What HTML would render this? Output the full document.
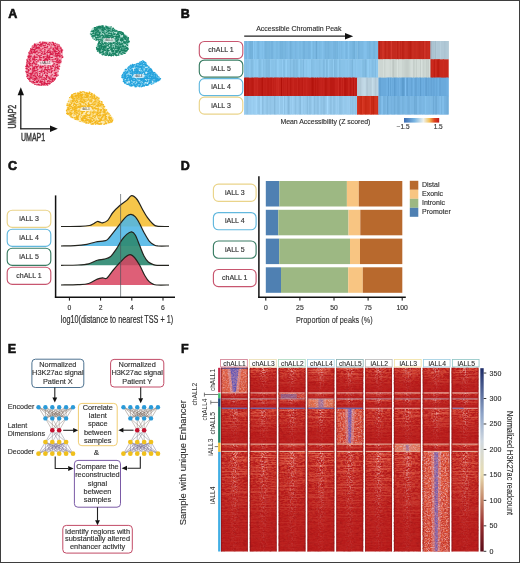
<!DOCTYPE html>
<html><head><meta charset="utf-8"><style>
html,body{margin:0;padding:0;background:#fff;}
svg{display:block;font-family:"Liberation Sans",sans-serif;will-change:transform;}

</style></head><body>
<svg width="520" height="563" viewBox="0 0 520 563">
<rect x="0" y="0" width="520" height="563" fill="#fff"/>
<text x="8.2" y="18.1" font-size="12.5" fill="#111" font-weight="bold" stroke="#111" stroke-width=".6">A</text>
<polygon points="34,43.5 42,41.5 52,41.8 59,44 62.5,49 63,56 61,62 59.5,68 58,75 54,81 47,85.5 38,86 31,83 27,78 25.5,70 26,62 28,54 31,47.5" fill="#f2a4b6" opacity="0.9"/>
<path d="M33.32 69.68h.5M47.3 58.95h.5M29.16 59.94h.5M52.21 70.59h.5M34.28 58.68h.5M38.67 81.61h.5M29.35 79.98h.5M54.99 65.27h.5M37.52 50.87h.5M34.74 72.7h.5M42.17 84.07h.5M49.15 82.36h.5M43.44 70.86h.5M27.85 71.22h.5M40.14 59.16h.5M56.36 47.3h.5M50.16 64.99h.5M41.64 81.04h.5M41.05 46.59h.5M60.22 60.06h.5M44.97 66.33h.5M46.69 75.84h.5M45.56 62.73h.5M52.12 81.26h.5M34.75 66.52h.5M27.39 71.63h.5M59.93 47.68h.5M50.58 47.15h.5M41.18 82.88h.5M34.72 47.45h.5M36.82 54.68h.5M38.04 79.2h.5M42.11 52.74h.5M45.19 63.95h.5M50.54 43.57h.5M53.31 50.04h.5M42.92 46.01h.5M42.63 78.63h.5M30.1 64.87h.5M56.57 69.84h.5M52.92 42.8h.5M30.89 50.17h.5M44.13 50.73h.5M45.13 72.22h.5M53.01 70.6h.5M55.4 51.31h.5M36.41 61.92h.5M33.77 51.99h.5M34.66 71.53h.5M32.32 77.56h.5M44.44 50.04h.5M40.04 82.26h.5M35.55 56.84h.5M32.69 57.08h.5M43.2 57.83h.5M32.12 57.44h.5M60.84 52.45h.5M43.27 84.99h.5M56.2 74.84h.5M37.12 57.33h.5M51.13 75.28h.5M50.74 46.13h.5M34.19 47.63h.5M43.25 78.59h.5M61.24 57.81h.5M42.24 52.59h.5M36.83 49.96h.5M38.87 49.67h.5M60.11 60.2h.5M46.29 70.29h.5M43.88 77.92h.5M32.29 46.39h.5M57.07 47.95h.5M33.27 59.31h.5M29.36 51.99h.5M43.84 51.44h.5M27.75 74.61h.5M31.02 77.16h.5M54.37 47.88h.5M49.63 57.23h.5M46.43 67.47h.5M49.38 58.83h.5M47.31 57.25h.5M41.97 48.72h.5M34.52 70.22h.5M28.28 70.18h.5M42.03 84.08h.5M54.11 72.82h.5M34.98 70.35h.5M34.78 51.48h.5M51.87 71.43h.5M58.37 60.83h.5M49.09 44.12h.5M47.82 57.4h.5M34.64 53.64h.5M39.04 55.42h.5M58.56 44.73h.5M32.48 75.94h.5M44.04 56.64h.5M55.62 72.92h.5M32.64 52.74h.5M44.3 58.14h.5M57.8 71.29h.5M31.2 60.9h.5M36.41 73.2h.5M28.51 58.37h.5M41.49 67.19h.5M41.14 51.13h.5M45.96 47.98h.5M45.32 50.68h.5M50.54 57.35h.5M55.47 47.03h.5M30.14 51.36h.5M38.18 47.6h.5M55.77 48.31h.5M48.58 72.24h.5M44.67 63.04h.5M49.2 56.25h.5M41.18 66.26h.5M50.49 77.19h.5M39.07 78.75h.5M39.79 68.03h.5M52.91 51.77h.5M55.07 73.68h.5M52.51 61.92h.5M53.31 48.22h.5M39.74 77.06h.5M51.55 68.48h.5M47.09 53.23h.5M56.38 72.34h.5M56 49.82h.5M34.56 75.43h.5M42.66 44.58h.5M26.51 66.42h.5M42.6 84.55h.5M34.61 56.87h.5M52.53 70.57h.5M61.14 50.76h.5M30.65 53.11h.5M53.2 54.15h.5M32.64 68.98h.5M53.01 43.07h.5M37.74 79.65h.5M60.45 62.66h.5M35.02 49.15h.5M29.27 73.73h.5M58.69 55.43h.5M47.27 64.82h.5M39.86 60.05h.5M45.26 58.9h.5M37.74 60.75h.5M26.62 64.56h.5M35.3 65.71h.5M39.82 60.96h.5M51.18 69.16h.5M56.94 64.58h.5M55.51 73.45h.5M41.01 76.94h.5M37.22 77.1h.5M47.47 44.59h.5M37.29 79.72h.5M48.32 56.92h.5M31.24 64.8h.5M36.93 82.3h.5M36.5 68.52h.5M38.66 49.17h.5M42.01 79.39h.5M30.79 56.91h.5M52.41 52.63h.5M48.52 50.38h.5M49.71 48.85h.5M34.16 45.67h.5M32.8 83.02h.5M41.42 64.3h.5M46.75 56.01h.5M54.14 44.4h.5M49.7 79.83h.5M31.15 76.98h.5M46.27 57.67h.5M46.89 69.71h.5M30.96 61.11h.5M41.86 49.37h.5M41.83 71.47h.5M37.29 61.91h.5M58.61 66.1h.5M54.4 45.83h.5M53 45.25h.5M39.98 48.46h.5M52.44 60.31h.5M54.66 72.14h.5M29.35 57.85h.5M51.74 78.08h.5M30.46 63.83h.5M57.88 58.79h.5M45.36 85h.5M25.85 66.57h.5M35.62 77.48h.5M36.51 75.99h.5M37.82 55.53h.5M36.41 54.85h.5M31 52.96h.5M32.27 74.63h.5M48.24 44.19h.5M31.93 65.47h.5M26.71 69.05h.5M48.26 55.88h.5M34.68 73.58h.5M55.15 54.88h.5M35.49 64.83h.5M43.29 70.97h.5M55.24 51.78h.5M46.79 59.56h.5M47 47.79h.5M58.84 52.93h.5M59.4 57.26h.5M58.6 48.98h.5M60.51 47.51h.5M51.57 47.38h.5M46.18 72.6h.5M32.34 45.9h.5M33.76 69.77h.5M60.4 62.51h.5M39.56 79.19h.5M27.98 58.89h.5M37.3 51.75h.5M28.11 70.08h.5M32.47 60.18h.5M41.98 57.57h.5M45.27 63.59h.5M51.35 66.25h.5M26.67 72.17h.5M41.01 67.65h.5M36.53 80.81h.5M37.28 53.22h.5M36.02 73.54h.5M47.89 61.64h.5M48.05 48.88h.5M28.26 76.97h.5M51.98 42.44h.5M60.52 55.58h.5M30.5 77.67h.5M28.2 62.1h.5M57.23 46.18h.5M54.14 63.59h.5M28.17 63.04h.5M30.02 53.11h.5M57.89 51.06h.5M25.78 68.34h.5M42.26 52h.5M61.69 55.92h.5M29.52 51.65h.5" stroke="#ec6c88" stroke-width="1.3" stroke-linecap="round"/>
<path d="M37.29 47.51h.4M27.36 65.42h.4M26.79 64.1h.4M41.63 43.75h.4M41.27 78.95h.4M35.94 47.21h.4M36.69 78.45h.4M47.47 70.21h.4M46.14 43.42h.4M32.64 72.14h.4M36.91 67.73h.4M36.34 77.44h.4M34.14 67.21h.4M30.5 63.24h.4M50.89 76.05h.4M59.08 55.09h.4M47.98 67.47h.4M43.23 71.38h.4M56.97 53.73h.4M42.74 48.31h.4M26.83 76.22h.4M27.68 61.39h.4M58.63 53.45h.4M30.46 48.69h.4M33.72 63.05h.4M41.05 57.67h.4M44.86 69.22h.4M56.02 58.75h.4M28.59 69.99h.4M30.91 56.31h.4M28.51 57.41h.4M59.04 69.05h.4M34.46 56.65h.4M42.91 63h.4M28.54 56.43h.4M57.24 48.01h.4M30.29 65.76h.4M34.81 57.55h.4M53.72 51.04h.4M62.22 57.46h.4M33.46 49.65h.4M55.4 75.38h.4M31.55 77.19h.4M53.13 48.41h.4M38.34 66.01h.4M32.84 52.21h.4M34 67.77h.4M38.47 61.8h.4M44.32 65.23h.4M56.07 48.51h.4M53.15 66.38h.4M28.69 66.55h.4M35.44 76.41h.4M42.01 68.98h.4M44.73 72.71h.4M57.68 46.88h.4M41.96 43.87h.4M57.38 48.01h.4M44.87 56.27h.4M37.08 74.08h.4M46.38 60.98h.4M37.59 69.51h.4M28.64 52.85h.4M55.27 53.08h.4M47.04 73.07h.4M26.77 72.5h.4M49.56 77.78h.4M58.58 61.6h.4M46.35 83.59h.4M29.6 65h.4M35.95 63.75h.4M53.46 66.12h.4M43.25 83.96h.4M56.85 60.6h.4M57.47 58.78h.4M49.62 59.32h.4M27.29 74.95h.4M50.99 53.61h.4M36.08 61.86h.4M36.73 57.08h.4M39.57 62.57h.4M32.44 63.97h.4M34.93 44.67h.4M36.52 51.33h.4M45.4 75.4h.4M52.78 81.38h.4M30.4 74.17h.4M53.49 78.27h.4M47.57 82.02h.4M51.89 51.19h.4M29.76 57.27h.4M57.51 66.47h.4M49.24 72.15h.4M54.06 63.89h.4M34.46 43.96h.4M39.61 62.77h.4M54.8 69.19h.4M34.53 75.06h.4M51.04 72.69h.4M35.99 64.52h.4M42.25 52.99h.4M61.85 50.3h.4M29.74 78.64h.4M33.64 82.24h.4M43.92 61.46h.4M30.06 56.49h.4M54.15 79.52h.4M60.11 53.98h.4M47.77 57.27h.4M28.52 79.31h.4M61.46 52.09h.4M44.68 49.33h.4M42.31 75.5h.4M43.15 56.48h.4M34.78 71h.4M46.51 58.84h.4M28.08 56.4h.4M33.95 52.51h.4M40.8 59.75h.4M39.39 56.23h.4M29.47 63.91h.4M58.58 50.54h.4M34.31 59.09h.4M59.88 62.51h.4M34.31 45.57h.4M42.56 66.14h.4M50 54.63h.4M34.45 70.09h.4M45.22 67.6h.4M33.33 68.45h.4M49.96 81.6h.4M52.33 54.79h.4M44.18 71.86h.4M37.85 60.06h.4M36.81 78.63h.4M33.25 75.86h.4M31.9 50.88h.4M30.28 58.8h.4M61.3 55.81h.4M39.46 57.89h.4M56.97 60.61h.4M56.57 76.15h.4M59.99 56.27h.4M34.86 73.82h.4M39.77 52.17h.4M43.99 83.66h.4M55.03 68.74h.4M54.24 52h.4M25.84 66.2h.4M44.19 73.5h.4M33.75 59.88h.4M36.1 66.86h.4M53.65 49.76h.4M47.34 55.67h.4M33.64 78.09h.4M36.1 46.04h.4M48.05 69.33h.4M39.06 47.07h.4M34.57 68.37h.4M37.43 72.04h.4M46.15 43.44h.4M40.11 66.08h.4M51.97 59.56h.4M36.65 84.82h.4M46.88 57.11h.4M40.55 81.55h.4M28.02 69.43h.4M44.43 47.28h.4M45.09 83.54h.4M39.82 82.55h.4M57.25 49.01h.4M40.29 64.58h.4M46.71 75.72h.4M57.61 45.97h.4M46.23 69.66h.4M41.09 67.59h.4M50.52 61.28h.4M55.31 61.81h.4M43.19 45.48h.4M41.51 44.76h.4M44.65 42.4h.4M44.7 43.02h.4M39.43 84.72h.4M53.42 78.4h.4M35.36 78.43h.4M44.34 83.28h.4M34.88 64.03h.4M51.35 82.14h.4M55.5 45.85h.4M47.64 71.36h.4M30.4 69.15h.4M44.75 82.14h.4M33.48 70.87h.4M28.7 57.11h.4M47.55 67.89h.4M49.15 62.58h.4M61.5 51.83h.4M55.4 59.19h.4M46.71 56.79h.4M34.32 82.51h.4M45.5 59.38h.4M26.81 76.72h.4M46.26 84.25h.4M32.38 68.78h.4M49.84 78.32h.4M36.72 54.46h.4M57.86 75.15h.4M53.8 61.54h.4M52.61 52.87h.4M41.72 77.16h.4M33.07 81.42h.4M37.41 81.43h.4M33.95 82.7h.4M43.04 79.55h.4M47.03 54.81h.4M38.12 47.1h.4M26.15 72.71h.4M52.03 74.76h.4M49.55 78.87h.4M35.85 45.14h.4M54.42 50.03h.4M44.4 80.09h.4M41.74 76.45h.4M52.33 65.51h.4M43.91 77.55h.4M34.79 84.39h.4M32.98 73.03h.4M28.84 70.1h.4M49.3 57.04h.4M40.09 81.9h.4M33.73 61.93h.4M54.3 75.51h.4M38.27 55.69h.4M47.38 46.36h.4M59.46 51.56h.4M34.28 55.69h.4M30.86 55.76h.4M55.9 74.6h.4M32.25 70.17h.4M32.65 58.56h.4M40.26 77.28h.4M44.27 69.91h.4M30.1 68.57h.4M52.15 80.14h.4M49.84 61.61h.4M49.32 45.05h.4M55.4 73.66h.4M34.38 60.2h.4M49.05 59.53h.4M61.24 49.01h.4M55.24 58.57h.4M28.49 67.22h.4M52.83 64.32h.4M57.24 64.76h.4M61.94 50.27h.4M40 75.97h.4M41.03 60.06h.4M38.41 52.83h.4M39.98 50.36h.4M55.18 78.15h.4M43.03 66.64h.4M62.57 56.92h.4M42.99 54.19h.4M29.44 79.27h.4M58.1 52.94h.4M34.52 60.31h.4M35.61 51.89h.4M43.44 60.42h.4M50.41 52.13h.4M48.53 76.83h.4M57.63 49.68h.4M45.47 75h.4M59.37 66.31h.4M33.75 46.98h.4M26.81 62.22h.4M43.91 63.67h.4M57.71 62.26h.4M50.78 79.59h.4M41.04 85.17h.4M49.66 70.08h.4M38.96 62.57h.4M54.94 50.3h.4M36.07 78.99h.4M44.4 53.13h.4M55.78 55.89h.4M36.32 67.77h.4M46.04 42.81h.4M48.66 69.18h.4M52.01 68.23h.4M32.89 71.52h.4M54.63 45.21h.4M46.7 52.5h.4M41.16 55.31h.4M26.66 66.89h.4M29.19 78.18h.4M60.79 61.26h.4M40.79 45.25h.4M32.88 47.56h.4M53.32 44.42h.4M56.79 44.21h.4M43.71 43.28h.4M47.21 60.9h.4M30.22 77.58h.4M49.97 69.78h.4M55.49 66.86h.4M52.28 78.97h.4M57.34 68.45h.4M41.43 81.8h.4M56.4 53.67h.4M34.89 60.15h.4M38.2 44.46h.4M61.3 51.38h.4M51.27 62.14h.4M55 51.33h.4M45.11 62.66h.4M31.97 49.44h.4M52.19 57.37h.4M40.4 64.55h.4M39.27 45.43h.4M55.6 47.76h.4M38.12 64.65h.4M58.71 63.11h.4M34.83 76.73h.4M32.44 48.9h.4M27.04 68.31h.4M34.66 66.75h.4M40.03 61.35h.4M51.24 54.39h.4M54.44 45.4h.4M34.65 46.27h.4M31.16 51.59h.4M52.83 49.57h.4M30.02 61.3h.4M49.32 61.53h.4M57.01 62.71h.4M30.14 50.81h.4M52.69 66.23h.4M58.89 52.89h.4M37.71 48.3h.4M37.06 82.5h.4M32.84 62.7h.4M34.68 49.88h.4M35.93 82.17h.4M37.97 47.02h.4M57.37 64.99h.4M41.69 82.91h.4M47.07 46.92h.4M54.93 73.59h.4M48.54 63.54h.4M56.56 67.61h.4M27.09 74.57h.4M39 48.1h.4M45.03 61.23h.4M39.56 75.44h.4M44.04 64.37h.4M34.39 78.5h.4M28.31 73h.4M52.83 42.6h.4M44 63.79h.4M29.32 59.36h.4M47.88 80.54h.4M47.13 75.22h.4M55.19 56.24h.4M61.41 52.09h.4M49.49 57.45h.4M27.24 60.64h.4M49.84 52.86h.4M49.04 52.15h.4M41.63 84.72h.4M36.56 70.61h.4M44.79 52.98h.4M45.59 47.4h.4M29.69 54.15h.4M35.89 51.82h.4M46.08 79.55h.4M47.02 70.74h.4M52.56 61.93h.4M48.71 62.31h.4M34.07 50.8h.4M39.64 67.73h.4M38.43 80.58h.4M46.49 63.35h.4M55 47.87h.4M58.92 60.96h.4M30.6 56.17h.4M53.86 75.83h.4M29.53 80.99h.4M54.74 67.74h.4M48.49 58.15h.4M42.59 74.12h.4M39.93 66.32h.4M44.23 61.15h.4M36.51 47.24h.4M62.37 50h.4M26.37 66.77h.4M44.94 64.55h.4M39.89 57.13h.4M38.37 84.58h.4M45.25 45.1h.4M40.34 66.6h.4M43.73 60.97h.4M45.44 78.44h.4M57.13 64.34h.4M59.58 60.07h.4M35.95 64.29h.4M31.93 48.98h.4M49.64 42.47h.4M55.61 54.76h.4M57.77 67.76h.4M32.27 63.65h.4M35.01 70.58h.4M40.74 46.15h.4M54.5 45.46h.4M48.71 78.01h.4M37.25 73.77h.4M31.19 52.9h.4M38.28 61.42h.4M47.52 85.12h.4M49 52.09h.4M44.07 84.66h.4M39.9 73.91h.4M36.71 81.2h.4M55.81 51.82h.4M35.98 66.61h.4M45.58 58.43h.4M57.12 56.83h.4M32.05 53.69h.4M25.88 71.39h.4M30.66 73.32h.4M35.15 79.33h.4M39.39 85.07h.4M33.48 61.55h.4M47.71 57.61h.4M29.35 64.36h.4M35.18 76.39h.4M50.47 66.9h.4M39.9 44.5h.4M58.11 55.43h.4M28.8 66.63h.4M44.26 54.31h.4M36.8 51.03h.4M52.81 53.63h.4M29.72 53.36h.4M51.35 71.36h.4M40.8 71.15h.4M34.31 79.87h.4M49.34 48.95h.4M52.65 42.38h.4M30.9 49.71h.4M39.54 42.32h.4M47.02 73.82h.4M41.68 72.32h.4M55.17 53.81h.4M58.24 68.74h.4M27.9 72.8h.4M54.03 79.04h.4M41.25 83.75h.4M53.68 79.09h.4M42.38 43.02h.4M29.54 75.93h.4M52.26 77.97h.4M49.68 65.79h.4M40.76 49.87h.4M29.89 73.37h.4M33.9 51.74h.4M42.08 84.02h.4M36.33 81.64h.4M46.16 75.86h.4M50.83 68.34h.4M54.76 79.15h.4M35.93 57.26h.4M32.29 73.13h.4M28.96 55.59h.4M38.84 48.32h.4M28.8 63.23h.4M32 65.75h.4M49.3 83.99h.4M34.43 51.94h.4M57.66 54.28h.4M53.82 55.69h.4M57.1 55.39h.4M44.23 47.82h.4M47.45 44.23h.4M41.31 53.67h.4M44.83 60.09h.4M60.21 48.15h.4M42 66.7h.4M48.98 78.22h.4M51.22 68.83h.4M47.06 84.81h.4M50.07 54.42h.4M31.96 72.06h.4M27.87 71.21h.4M47.44 59.86h.4M46.81 58.93h.4M31.63 81.88h.4M34.51 44.92h.4M34.44 63.25h.4M33.45 67.13h.4M44.77 67.86h.4M40.62 43.92h.4M46.74 76.54h.4M55.16 43.18h.4M47.98 50.41h.4M49.04 81.05h.4M31.14 75.16h.4M26.22 68.58h.4M46.18 77.84h.4M34.56 49.48h.4M57.61 67.53h.4M56.13 49.11h.4M35.96 72.45h.4M30.2 81.21h.4M31.7 78.55h.4M40.01 62.62h.4M48.63 44.03h.4M33.04 82.07h.4M38.76 62.25h.4M39.82 56.95h.4M47.38 56.02h.4M51 53.18h.4M44.25 52.69h.4M49.51 70.01h.4M44.6 70.04h.4M46.25 59.38h.4M43.52 57.58h.4M33.78 56.74h.4M42.4 61.22h.4M36.45 48.35h.4M46.28 84.09h.4M38.6 76.51h.4M43.64 82.31h.4M33.12 59.08h.4M48.31 80.68h.4M59.08 56.36h.4M49.78 83.41h.4M37.41 75.34h.4M40.51 72.07h.4M26.77 59.76h.4M49.24 56.06h.4M48.11 52.45h.4M37.5 44.85h.4M30.13 76.17h.4M56.65 60.18h.4M47.75 66.31h.4M33.51 75.68h.4M26.88 63.84h.4M38.94 47.44h.4M44.21 70.08h.4M56.12 61.89h.4M53.47 43.54h.4M40.37 80.68h.4M33.35 52.21h.4M41.63 51.26h.4M54.49 70.39h.4M57 53.64h.4M43.68 81.93h.4M51.47 68.29h.4M47.38 81.55h.4M51.47 44.7h.4M55.79 72.56h.4M44.44 51.27h.4M59.2 46.1h.4M29.86 60.42h.4M44.28 45.72h.4M44.1 83.22h.4M35.28 48.74h.4M44.6 59.48h.4M51.68 70.87h.4M40.27 55.3h.4M39.72 59.56h.4M48.51 83.57h.4M48.63 58.03h.4M26.46 72.78h.4M50.03 66.03h.4M53.98 80.19h.4M39.46 73.62h.4M45.29 69h.4M37.22 69.74h.4M33.32 68.98h.4M45.12 62.66h.4M45.39 64.86h.4M56.63 51.6h.4M56.96 61.9h.4M34.43 45.28h.4M56.23 64.74h.4M51.95 61.39h.4M56.03 75.78h.4M51.37 57.56h.4M33.89 57.74h.4M32.43 67.03h.4M31.55 73.9h.4M48.91 57.78h.4M36.16 59.47h.4M56.53 56.88h.4M47.36 83.5h.4M39.21 71.45h.4M27.3 75.66h.4M47.91 62.01h.4M57.66 59.79h.4M59.67 60.95h.4M44.72 78.85h.4M53.75 59.18h.4M54.91 45.99h.4M27.55 78.51h.4M27.99 75.53h.4M43.57 43.05h.4M30.25 56.05h.4M35.35 52.7h.4M34.57 80.44h.4M44.68 60.04h.4M58.34 52.45h.4M26.56 65.46h.4M42.84 63.24h.4M38.95 77.77h.4M45.56 59.52h.4M42.07 81.33h.4M41.63 70.23h.4M46.66 77.73h.4M51.12 71.89h.4M32.84 79.48h.4M60.76 50.12h.4M40.88 71.14h.4M36.1 51.32h.4M37.09 66.57h.4M39.96 42.03h.4M49.81 50.89h.4M41.48 72.07h.4M45.29 54.02h.4M48.11 65.64h.4M38.1 84.41h.4M31.56 77.13h.4M27.24 66.5h.4M46.29 77.14h.4M42.73 42.07h.4M28.34 70.58h.4M47.33 56.91h.4M50.69 48.12h.4M59 62.83h.4M29.12 63.57h.4M29.14 62.25h.4M45.65 64.07h.4M32.31 59.27h.4M44.32 81.91h.4M55.75 67.02h.4M33.56 75.38h.4M40.03 64.59h.4M47.35 51.38h.4M55.47 73.55h.4" stroke="#d61c48" stroke-width="1.1" stroke-linecap="round"/>
<polygon points="92,28 100,25.5 110,26 116,30 122,32 128,36 129.5,42 128,50 123,55 112,56 102,55 97,51 96,46 99,42 93,39 89.5,34" fill="#b4e2d4" opacity="0.9"/>
<path d="M98.82 43.97h.5M122.54 39.51h.5M121.23 54.01h.5M126.5 48.71h.5M123.16 49.99h.5M118.34 37.24h.5M121.83 46.69h.5M113.48 51.68h.5M103.72 31.79h.5M114.71 38.93h.5M107.3 48.91h.5M102.16 28.95h.5M111.36 38.17h.5M99.71 31.13h.5M101.39 45.46h.5M115.12 46.99h.5M105.07 55.06h.5M102.85 37.26h.5M103.19 30.54h.5M100 51.96h.5M106.92 30.93h.5M127.14 47.98h.5M103.42 53.72h.5M118.33 55.22h.5M98.11 37.25h.5M123.1 45.1h.5M97.72 46.34h.5M114.53 43.82h.5M119.17 52.12h.5M115.74 54.28h.5M121.96 54.17h.5M128.1 38.86h.5M127.65 49.28h.5M102.31 49.54h.5M127.89 37.74h.5M99.43 47.76h.5M117.51 48.75h.5M117.38 33.39h.5M94.53 27.66h.5M115.44 39.83h.5M103.67 39.75h.5M127.31 39.48h.5M103.67 28.39h.5M98.03 43.93h.5M119.96 43.46h.5M108.54 41.13h.5M114.59 31.53h.5M107.68 31.85h.5M104.21 29.77h.5M98.6 28.42h.5M107.5 37.79h.5M116.29 52.46h.5M105.63 26.18h.5M100.66 33.89h.5M116.14 43.55h.5M96.59 26.97h.5M108.46 46.53h.5M115.7 30.36h.5M115.15 47.41h.5M99.64 47.61h.5M117.76 33.05h.5M113.12 30.72h.5M95.11 31.86h.5M123.23 47.78h.5M110.39 36.29h.5M107.27 54.65h.5M105.04 27.56h.5M90.65 33.86h.5M93.41 32.94h.5M100.63 39.62h.5M101.99 30.12h.5M113.97 53.73h.5M102.24 52.08h.5M105.74 45.16h.5M120.23 32.44h.5M119.08 49.03h.5M111.14 35.43h.5M103 51.93h.5M102.75 49.94h.5M107.91 37.56h.5M108.83 38.03h.5M113.32 38.55h.5M97.84 48.71h.5M104.48 47.57h.5M126.73 42.42h.5M124.98 36.26h.5M109.6 53.71h.5M128.61 41.1h.5M113.09 47.93h.5M107.82 45.26h.5M108.65 38.79h.5M116.33 48.39h.5M94.6 36.39h.5M119.3 47.9h.5M128.27 42.4h.5M106.73 30.77h.5M102.65 37.37h.5M119.09 37.79h.5M121.77 50.11h.5M114.16 29.65h.5M109.03 33.44h.5M120.46 43.13h.5M113.13 38.39h.5M125.09 38.86h.5M100.17 36.54h.5M106.42 43.08h.5M120.36 39.33h.5M108.36 28.35h.5M108.57 27.32h.5M108.01 39.74h.5M119.12 35.65h.5M96.28 28.94h.5M102.63 29.82h.5M126.57 44.42h.5M115.13 42.16h.5M116.6 46.74h.5M97.01 30.33h.5M116.3 55.49h.5M104.78 35.4h.5M97.84 46.28h.5M107.51 40.85h.5M116.63 40.61h.5M117.79 43.29h.5M101.87 54.04h.5M124.83 43.62h.5M110.84 33.46h.5M105.39 47.53h.5M103.6 49.03h.5M97.21 32.1h.5M118.41 53.6h.5M102.42 52.18h.5M106.44 30.75h.5M104.24 28.38h.5M105.99 36.3h.5M122.54 33.25h.5M98.07 44.81h.5M123.44 36.69h.5M97.83 38.88h.5M119.08 33.2h.5M125.89 38.8h.5M117.42 41.81h.5M117.87 39.58h.5M107.65 30.89h.5M100.31 48.71h.5M97.91 31.56h.5M97.31 35.79h.5M108.32 40.97h.5M122.04 32.75h.5M100.77 52.54h.5M94.76 31.69h.5M121.31 34.46h.5M104.1 50.13h.5M120.29 37.88h.5M106.86 49.48h.5M98.79 42.62h.5M91.85 36.49h.5M114.84 45.04h.5M106.37 55h.5M96.65 39.53h.5M119.69 47.74h.5M103.97 50.46h.5M112.3 35.1h.5M116.33 54.96h.5M107.21 39.51h.5M105.87 52.12h.5M113.66 52.81h.5M126.87 42.9h.5M111.7 48.12h.5M110.9 47.41h.5M104.51 31.86h.5M113.14 55.52h.5M111.96 49.66h.5M109.81 29.15h.5M102.27 51.6h.5M92.62 33.66h.5M92.97 35.84h.5M98.87 46.07h.5M102.81 32.37h.5M108.69 36.85h.5M108.71 36.93h.5M115.24 48.56h.5M127.41 40.04h.5M113 39.03h.5M95.19 35.74h.5M117.44 36.86h.5M122.76 39.23h.5M107.17 52.73h.5M118.08 34.21h.5M99.38 46.13h.5M115.23 38.9h.5M110.13 33.28h.5M110.59 49.66h.5M102.93 54.33h.5M110.69 30.17h.5M124.15 49.66h.5M117.26 37.84h.5M116.95 38.31h.5M97.32 29.26h.5M106.1 26.35h.5M127.17 40.24h.5M117.79 48.22h.5M111.8 43.85h.5M95.55 35.68h.5M113.23 40.55h.5M99.2 47.19h.5M122.03 52.56h.5M102.14 38.79h.5M113.11 33.46h.5M102.45 37.34h.5M100.26 35.76h.5M121.62 47.19h.5M99.34 41.67h.5M102.83 25.99h.5M115.93 36.08h.5M99.94 27.32h.5M108.51 42.49h.5M102.35 54.83h.5M99.23 27.67h.5M121.91 50.37h.5M101.83 29.23h.5M101.99 41.18h.5M105.46 52.5h.5M92.06 30.84h.5M110.65 53.77h.5M117.08 34.39h.5M102.68 47.7h.5M107.3 27.04h.5M113.59 34.25h.5M124.62 53.07h.5M99.89 48.47h.5M101.32 30.21h.5M111.3 48.32h.5M112.76 54.85h.5M122.09 39.41h.5M99.23 50.75h.5M119.78 44.99h.5M124.46 37.94h.5M98.98 34.92h.5M101.06 44.31h.5M106.04 28.13h.5M122.5 50.15h.5M106.77 28.66h.5" stroke="#3c9c82" stroke-width="1.3" stroke-linecap="round"/>
<path d="M117.56 50.98h.4M105.8 37.73h.4M98.78 48.35h.4M94.85 35.69h.4M96.82 31.64h.4M121.75 40.09h.4M115.23 30.97h.4M124.02 50.07h.4M118.63 35.85h.4M122.19 43.69h.4M110.83 55.24h.4M99.08 51.75h.4M96.82 39.38h.4M109.19 54.01h.4M123.18 37.7h.4M115.9 51.68h.4M122.62 38.11h.4M107.71 35.4h.4M103.36 51.95h.4M100.77 27.36h.4M117.95 38.87h.4M114.13 53.55h.4M109.49 55.56h.4M107.59 50.81h.4M103.3 27.78h.4M124.71 41.2h.4M103.7 45.99h.4M104.29 41.47h.4M126.6 40.69h.4M123.56 46.71h.4M119.11 48.87h.4M113.18 43.24h.4M104.97 48.79h.4M100.3 49.28h.4M115.75 50.66h.4M118.31 46.95h.4M123.19 50.29h.4M101.6 26.24h.4M96.79 34.93h.4M93.05 32.96h.4M107.41 51.71h.4M121.2 34.73h.4M120.3 39.78h.4M116.67 48.96h.4M103.74 54.32h.4M100.61 44.98h.4M123.22 42.91h.4M98.72 26.77h.4M120.16 46.54h.4M110.84 41.44h.4M102.73 26.64h.4M109.59 52.19h.4M112.77 37.62h.4M116.71 49.01h.4M119.71 51.18h.4M118.07 47.37h.4M100.05 26.69h.4M123.12 33.37h.4M97.9 27.55h.4M103.61 47.23h.4M123.72 35.07h.4M100.05 26.42h.4M111.81 50.74h.4M97.93 44.96h.4M102.4 42.97h.4M123.76 50.78h.4M106.3 26.55h.4M118.93 43.51h.4M110.01 43.63h.4M94.12 39.25h.4M118.25 39.28h.4M96.48 37.59h.4M96.66 48.42h.4M96.76 33.13h.4M91.13 31.18h.4M124.77 47.96h.4M99.58 36.05h.4M101.34 25.94h.4M107.61 27.82h.4M126.79 50.33h.4M109.83 31.3h.4M106.84 48.3h.4M122.6 51.84h.4M113.08 36.81h.4M123.37 50.05h.4M110.94 26.81h.4M114.73 53.27h.4M115.36 31.19h.4M126.54 36.93h.4M113.33 28.6h.4M107.67 43.53h.4M118.19 38.79h.4M108.27 37.51h.4M118.48 32.29h.4M117.57 39.83h.4M126.68 43.97h.4M115.32 54.38h.4M111.85 51.19h.4M111.41 33.96h.4M122.59 39.38h.4M115.8 31.23h.4M111.44 35.96h.4M92.76 36.45h.4M117.58 43.96h.4M107.64 37.74h.4M117.1 52.12h.4M99.11 34.27h.4M102.13 27.58h.4M100.02 32.62h.4M125.87 50.32h.4M101.67 44.88h.4M111.07 55.88h.4M110.8 45.62h.4M92.26 31.4h.4M95.9 38.73h.4M98.94 32.86h.4M117.53 31.3h.4M113.33 45.82h.4M117.69 34.38h.4M103.68 29.12h.4M95.97 27.75h.4M105.68 46.91h.4M124.41 50.59h.4M113.15 45.99h.4M104.59 45.7h.4M97.88 26.61h.4M121.6 32.68h.4M110.47 28.12h.4M121.93 33.77h.4M120.62 31.78h.4M97.7 36.99h.4M95.8 32h.4M97.84 48.69h.4M128.14 41.56h.4M97.42 27.2h.4M101.85 31.17h.4M108.73 30.35h.4M115.92 41.23h.4M108.25 48.56h.4M98.33 40.72h.4M119.6 52.36h.4M91.94 31.55h.4M106.94 29.07h.4M105.38 46.57h.4M102.01 37.73h.4M99.33 39.26h.4M94.76 28.96h.4M112.92 53.31h.4M98.34 29.94h.4M125.06 38.15h.4M124.15 50.73h.4M110.04 28.29h.4M112.45 30.4h.4M99.24 32.19h.4M110.5 46.52h.4M119.63 44.79h.4M116.73 50.49h.4M121.5 32.07h.4M119.38 36.19h.4M97.85 31.49h.4M105.56 38.18h.4M112.96 55.13h.4M103.44 47.39h.4M95.87 40.16h.4M120.7 51.66h.4M96.74 49.4h.4M99.24 51.2h.4M124.19 52.94h.4M110.96 48.08h.4M94.74 35.4h.4M101.95 38.07h.4M99.36 26.29h.4M95.32 27.47h.4M119.11 35.61h.4M104.68 47.8h.4M121.98 50.56h.4M122.27 50.22h.4M112.23 28.99h.4M112.96 28.01h.4M98.62 32.9h.4M110.89 48.04h.4M118.92 31.68h.4M115.37 46.96h.4M101.57 46.03h.4M121.86 34.56h.4M125.35 39.51h.4M110.73 49.7h.4M108.81 32.71h.4M97.82 34.84h.4M118.42 49.54h.4M107.64 45.2h.4M108.07 44.63h.4M120.87 38.71h.4M94.17 27.96h.4M106.38 35.49h.4M108.36 55.58h.4M102.73 32.56h.4M102.85 30.59h.4M123.01 52.55h.4M99.67 36.39h.4M103.32 36.79h.4M99.14 45.82h.4M127.91 48.69h.4M125.05 42.3h.4M102.8 32.6h.4M115.06 53.58h.4M126.29 48.35h.4M125.21 43.13h.4M113.17 51.45h.4M116.45 31.26h.4M106.53 27.5h.4M122.96 50.14h.4M96.97 34.31h.4M111.47 40.76h.4M112.02 29.17h.4M122.24 38.28h.4M99.38 33.47h.4M110.06 39.72h.4M118.61 48.82h.4M99.24 41.29h.4M113.82 53.88h.4M118.41 47.59h.4M107.09 27.31h.4M121.97 46.52h.4M102.61 49.41h.4M96.85 29.74h.4M114.46 34.35h.4M97.68 27.26h.4M101.76 40.9h.4M108.92 55.21h.4M94.58 30h.4M105.44 36.01h.4M103.28 46.95h.4M124.18 48.17h.4M114.96 54.41h.4M106.67 34.19h.4M121.72 43.68h.4M111.57 37.58h.4M102.07 40.09h.4M103.76 53.59h.4M110.84 54.71h.4M108.53 35.31h.4M114.08 50.04h.4M104.06 37.1h.4M126.84 42.02h.4M102.46 51.2h.4M98.08 26.37h.4M124.56 37.04h.4M125.16 48.99h.4M95.31 30.38h.4M106.75 37.2h.4M95.85 30.35h.4M103.24 48.46h.4M110.77 46.62h.4M106.96 50.2h.4M107.47 53.14h.4M112.05 29.13h.4M104.6 46.95h.4M122.19 50.04h.4M105.89 46.25h.4M114.34 34.78h.4M101.87 49.12h.4M92.82 33.49h.4M99.28 48.24h.4M118.82 31.47h.4M111.22 48.56h.4M115.25 36.74h.4M93.54 30.54h.4M108.4 50.04h.4M120.89 45h.4M124.4 38.92h.4M126.88 50.68h.4M119.78 32.04h.4M117.22 42.51h.4M95.55 28.96h.4M109.21 33.2h.4M111.77 49.26h.4M104.67 42.29h.4M93.71 33.74h.4M112.15 55.32h.4M116.64 36.21h.4M111.73 31.19h.4M105.96 53.83h.4M99.73 53.12h.4M105.51 47.17h.4M99.86 29.31h.4M118.99 42.42h.4M94.45 29.64h.4M113.22 50.53h.4M109.62 43.17h.4M105.83 42.17h.4M98.44 49.1h.4M113.87 30.38h.4M91.95 35.28h.4M115.75 38.27h.4M110.01 54.94h.4M95 34.42h.4M126.72 47.45h.4M109.79 35.4h.4M119.68 47.8h.4M106.7 45.99h.4M97.85 37.45h.4M99.68 46.3h.4M105.33 46.87h.4M109.6 40.37h.4M122.71 39.89h.4M108.81 28.63h.4M102.03 26.25h.4M118.87 35.81h.4M103.9 47.65h.4M119 52.6h.4M104.48 46.32h.4M115.55 55.3h.4M108.78 35.47h.4M109.94 43.61h.4M100.15 40.84h.4M106.09 46.09h.4M118.05 49.88h.4M109.95 36.69h.4M108.77 48.26h.4M107.49 36.13h.4M115.99 46.48h.4M117.63 33.37h.4M128.9 41.56h.4M98.13 35.45h.4M121.92 48.46h.4M104.01 33.27h.4M124.94 38.78h.4M96.2 29.63h.4M106.96 37.42h.4M104.88 36.83h.4M104.11 49.24h.4M117.04 44.8h.4M114.16 34.05h.4M98.3 43.54h.4M102.02 25.68h.4M115.56 44.06h.4M93.64 31.42h.4M98.73 43.59h.4M123.87 42.32h.4M99.42 48.96h.4M107.9 31.41h.4M104 38.56h.4M100.65 47.31h.4M109.95 40.55h.4M125.36 36.13h.4M114.32 42.81h.4M104.01 28.22h.4M110.84 35.15h.4M123.99 35.51h.4M105.39 29.76h.4M116.42 39.01h.4M98.27 50.17h.4M116.88 40.65h.4M96.8 30.12h.4M117.64 32.91h.4M101.69 42.4h.4M108.8 44.54h.4M101.46 46.56h.4M114.4 49.85h.4M112.3 48.98h.4M123.03 45.72h.4M102.64 26.65h.4M95.21 34.01h.4M106.99 50.36h.4M119.25 31.9h.4M127.35 42.45h.4M98.91 47.09h.4M103.96 41.07h.4M119.8 52.97h.4M116.14 37.7h.4M96.81 47.98h.4M100.09 45.16h.4M104.33 43.31h.4M111.69 44.05h.4M116.98 50.99h.4M116.78 55.47h.4M92.73 37.89h.4M104.8 29.34h.4M112.75 30.67h.4M111.08 38.79h.4M112.44 41.98h.4M115.73 36.58h.4M111.63 48.32h.4M123.73 52.79h.4M98.93 27.23h.4M99.02 34.25h.4M93.29 31.76h.4M102.33 28.01h.4M104.98 34.66h.4M128.31 41.14h.4M108.49 30.29h.4M125.94 37.75h.4M112.01 39.49h.4M108.24 28.76h.4M118.43 48.17h.4M115.49 45.84h.4M102.15 43.91h.4M100.55 50.2h.4M111.43 50.76h.4M118.91 36.48h.4M105.09 40.79h.4M104.59 38.65h.4M115.64 51.56h.4M120.22 33.56h.4M107 49.29h.4M98.5 42.73h.4M113.12 47.59h.4M101.16 47.77h.4M104.27 28.62h.4M97.84 27.15h.4M106.01 32.69h.4M128.17 37.77h.4M113.18 47.93h.4M109.37 30.57h.4M100.33 43.53h.4M100.04 45.38h.4M122.15 40.61h.4M109.66 47.88h.4M105.81 53.51h.4M99.3 50.97h.4M115.7 50.81h.4M95.87 32.92h.4M115.78 46.84h.4M104.92 38.31h.4M117.74 48.56h.4M105.4 43.01h.4M123.5 53.08h.4M121.57 39.95h.4M123.98 46.26h.4M97.4 35.44h.4M102.32 52.09h.4M99.73 37.33h.4M106.79 36.85h.4M124.68 36.69h.4M112.94 40.88h.4M118.36 50.81h.4M111.59 50.92h.4M111.17 33.14h.4M96.53 47.52h.4M121.23 44.92h.4M104.09 27.82h.4M118.17 54.77h.4M101.84 28.07h.4M122.48 32.57h.4M121.81 45.03h.4M113.12 32.23h.4M109.14 37.34h.4M109.73 35h.4M106.26 51.69h.4M113.11 43.36h.4M104.61 33h.4M104.27 40.49h.4M122.11 43.94h.4M125.4 46.11h.4M112.73 36.81h.4M120.47 44.54h.4M111.31 54.67h.4M114.68 40.04h.4M115.72 50.51h.4M110.71 44.18h.4M110.17 37.03h.4M109.21 54.93h.4M123.81 37.41h.4M102.34 29.56h.4M101.25 47.27h.4M124.93 51.35h.4M120.69 49.63h.4M101.67 46.71h.4M124.15 42.92h.4M99.07 42.14h.4M124.6 53.4h.4M117.78 46.38h.4M121.19 49.41h.4M108.1 51h.4M105.69 39.11h.4M118.5 49.99h.4M104.67 34.02h.4M119.55 31.46h.4M100.36 52.58h.4M127.95 39.11h.4M99.36 27.85h.4M125.97 36.72h.4M116.22 34.5h.4M100.59 39h.4M115.39 52.86h.4M124.11 51.13h.4M120.11 39.72h.4M104.26 37.98h.4M115.1 36.38h.4M105.87 35.91h.4M113.32 42.14h.4M99 34.75h.4M112.15 31.23h.4M121.27 38.85h.4M122.94 34.31h.4M111.74 45.77h.4M114.77 33.57h.4M98.28 30.54h.4M103.1 50.72h.4M115.97 37.26h.4M116.73 41.81h.4M92.71 35.37h.4M118.69 34.3h.4M103.2 49.22h.4M104.81 49.52h.4M97.25 49.98h.4M120.24 40.4h.4M116.59 31.2h.4M113.61 48.19h.4M101.55 35.65h.4M103.14 48.21h.4M94.7 27.63h.4M120 47.11h.4M102.36 34.93h.4M106.57 53.69h.4M123.6 34.54h.4M97.41 28.29h.4M93.52 30.34h.4M112.79 39h.4M112.09 39.96h.4M123.54 35.89h.4M116.44 30.75h.4M96.38 47.61h.4M100.01 28.33h.4M97.63 49.36h.4M111.42 55.09h.4M121.41 48h.4M104.65 50.6h.4M122.62 34.29h.4M119.06 44.19h.4M127.3 38.75h.4M122.72 33.44h.4M116.42 43.45h.4M105.86 55.26h.4M123.83 48.28h.4M117.71 40.52h.4M125.3 38.15h.4M98.55 39.44h.4M112.43 53.43h.4M102.3 34.68h.4M101.17 48.2h.4M93.47 31.33h.4M118.9 48.73h.4M121.24 41.27h.4M127.18 45.57h.4M112.55 28.69h.4M106.2 38.55h.4M103.69 37.21h.4M118.8 37.34h.4M113.36 36.43h.4M108.04 35.02h.4M125.99 51.69h.4M108.23 37.09h.4M107.79 29.22h.4M122.48 46.13h.4M113.22 38.18h.4M127.5 48.23h.4M98.12 35.64h.4M105.74 44.76h.4M95.69 34.45h.4M126.33 41.25h.4M95.05 33.01h.4M96.58 28.78h.4M105.46 39.94h.4M121.02 53.85h.4M117.14 36.89h.4M103.6 47.21h.4M110.62 31.22h.4M102.62 46.65h.4M106.69 26.74h.4M97.39 51.24h.4M102.23 32.58h.4M113.1 38.47h.4M99.25 52.05h.4M100.98 27.78h.4M115.5 46.66h.4M103.2 30.57h.4M116.1 41.1h.4M95.81 32.36h.4M126.05 39.72h.4M101.86 29.15h.4M100.86 52.16h.4M121.85 37.78h.4M116.18 34.87h.4M95.42 37.58h.4M104.67 42.42h.4M105.46 50.51h.4M127.17 49.37h.4M121.58 43.11h.4M102.03 37.74h.4M117.61 36.58h.4M107.85 50.89h.4M125.57 35.98h.4M111.82 36.28h.4M125.67 50.53h.4M110.71 42.5h.4M105.73 42.61h.4M115.41 50.72h.4M110.81 49.54h.4M105.21 40.07h.4M108.94 50.44h.4M125.53 46.75h.4M112.13 50.66h.4M126.18 47.71h.4M112.44 34.96h.4M123.71 42.66h.4M101.45 44.09h.4M119.02 51.34h.4M93.69 35.73h.4M97.81 31.71h.4M99.99 26.34h.4M101.12 46.4h.4M117.45 47.71h.4M107.98 33.79h.4M108.07 44.53h.4M122.78 40.37h.4M103.34 35.85h.4M102.7 54.03h.4M113.26 51.33h.4M110.96 55.6h.4M99.58 42.72h.4M105.99 55.18h.4M103.92 43.41h.4M118.25 45.71h.4M117.75 35.82h.4M110.87 33.43h.4M116.63 51.89h.4M111.97 52.08h.4M111.06 43.18h.4M127.22 38.78h.4M105.79 43.72h.4M113.65 36.35h.4M106.62 32.21h.4M93.02 31.75h.4M101.77 39.94h.4M105.4 47.26h.4M107.52 54.34h.4M119.84 46.27h.4M120.35 39.86h.4M117.3 44.3h.4M96.32 39.57h.4M111.88 35.18h.4M114.98 48.5h.4M104.94 55.01h.4M115.89 52.66h.4M91.24 34.45h.4M110.59 45.06h.4M103.53 44.65h.4M99.55 49.84h.4M104.9 41.53h.4M119.4 47.26h.4M116.77 45h.4M102.8 35.84h.4M123.33 41.27h.4M120.89 50.55h.4M98 35.05h.4M109.34 47.31h.4" stroke="#168060" stroke-width="1.1" stroke-linecap="round"/>
<polygon points="124,70 130,65 138,63 143,60 146,63 150,68 155,73 161,79.5 157,82 150,85 140,87 130,86.5 124,83 121,77" fill="#c8ecfa" opacity="0.9"/>
<path d="M137.36 80.59h.5M128.65 79.94h.5M156.32 77.34h.5M146.78 75.97h.5M128.62 82.78h.5M134.54 64.81h.5M137.77 74.67h.5M149.68 80.02h.5M151.18 73.3h.5M138.45 75.69h.5M146.96 76.25h.5M131.38 73.12h.5M137.4 81.71h.5M154.2 72.68h.5M131.06 85.73h.5M141.38 76.68h.5M138.9 66.44h.5M131.06 77.46h.5M125.22 81.97h.5M131.01 66.66h.5M124.68 81.99h.5M145.48 76.8h.5M130.02 75.4h.5M142.37 65.48h.5M146.88 75.61h.5M139.98 85.89h.5M126.91 79.49h.5M156.33 77.71h.5M123.68 72.44h.5M122.67 75.16h.5M147.58 77.75h.5M156.49 74.74h.5M133.71 78.21h.5M123.6 73.1h.5M155.04 74.73h.5M148.15 68.89h.5M141.07 86.75h.5M135.28 67.01h.5M142.13 84.17h.5M154.69 81.93h.5M150.1 74.88h.5M135.06 70.26h.5M126.15 73.69h.5M130.93 71.22h.5M141.87 67.14h.5M143.04 69.19h.5M139.18 75.16h.5M147.8 68.88h.5M148.86 73.77h.5M156.56 75.67h.5M127.79 67.86h.5M124.73 72.72h.5M147.45 76.77h.5M144.4 65.35h.5M154.52 78.69h.5M145.04 75.04h.5M142.65 84.52h.5M127.7 80.73h.5M134.09 73.91h.5M138.85 67.76h.5M143.04 67.97h.5M156.64 75.23h.5M133.15 83.63h.5M139.79 69.04h.5M145.79 68.41h.5M146.54 74.82h.5M148.17 67.39h.5M132.78 79.63h.5M129.06 66.57h.5M153.55 82.14h.5M125.41 80.73h.5M133.25 74.72h.5M145.92 70.23h.5M150.36 73.68h.5M124.51 76.34h.5M135.13 85.22h.5M129.3 85.54h.5M140.02 65.15h.5M140.63 67.54h.5M135.76 84.45h.5M134.71 72.45h.5M155.21 80.87h.5M131.9 71.28h.5M125.9 70.06h.5M150.37 73.7h.5M139.59 66.46h.5M141.8 77.88h.5M147.28 73.95h.5M141.66 80.59h.5M136.26 63.87h.5M157.38 78.23h.5M130.7 73.12h.5M137.6 78.37h.5M123.24 73.78h.5M129.22 71.15h.5M140.1 69.8h.5M123.14 74.99h.5M142.66 69.38h.5M141.25 80.85h.5M150.93 70.06h.5M145.81 83.37h.5M152.8 77.8h.5M127.52 75.47h.5M130.63 82.77h.5M156.77 75.33h.5M153.15 73.08h.5M141.98 68.73h.5M134.29 83.52h.5M140.64 72.15h.5M140.83 62.05h.5M141.8 63.87h.5M129.99 67.98h.5M124.29 78.54h.5M151.67 72.7h.5M155.23 78.42h.5M144.34 76.27h.5M159.2 78.19h.5M156.8 76.93h.5M133.48 81.05h.5M122.53 77.3h.5M149.2 70.5h.5M159.52 78.77h.5M136.42 74.19h.5M142.1 73.03h.5M147.58 73.03h.5M138.14 69.54h.5M145.64 84.62h.5M157.88 79.22h.5M135.37 68.54h.5M137.73 82.26h.5M151.72 79.44h.5M139.97 73.05h.5M148.29 69.94h.5M140.56 72.27h.5M145.09 75.33h.5M142.04 77.74h.5M133.66 66.61h.5M135.15 80.53h.5M148.79 74.91h.5M145.88 70.81h.5M121.84 75.81h.5M137.04 78.7h.5M128.82 69.29h.5M136.56 64.67h.5M149 73.91h.5M138.92 82.72h.5M138.82 63.61h.5M143.37 80.47h.5M126.87 80.32h.5M138.33 73.84h.5M135.34 67.44h.5M135.8 79.05h.5M142.85 62.08h.5M137.91 76.61h.5M148.87 77.77h.5M154.11 77.14h.5M140.41 73.6h.5M132.76 84.87h.5M153.65 72.72h.5M139.93 61.87h.5M133.35 74.11h.5M141.25 83.58h.5M135.49 80.4h.5M134.65 76.86h.5M139.38 74.34h.5M126.39 81.18h.5M143.67 80.63h.5M130.27 79h.5M139.25 76.03h.5M133.79 74.18h.5M136.03 70.77h.5M138.6 79.7h.5M136.94 71.08h.5M129.96 71.45h.5M156.89 76.37h.5M134.41 79.05h.5M150.39 79.66h.5M151.42 72.33h.5M153.89 74.48h.5M142.41 60.56h.5M134.92 71.9h.5M136.42 68.98h.5M142.78 66.82h.5M134.33 74.98h.5M145.97 63.06h.5M136.16 86.71h.5M134.87 76.61h.5M151.28 82.6h.5M127.86 78.51h.5M145.25 74.21h.5M150.25 69.98h.5M149.33 70.86h.5M138.41 72.54h.5M138.48 64.81h.5M150.08 74.87h.5M154.36 78h.5M141.5 72.2h.5M140.59 70.24h.5M128.91 67.23h.5M151.09 74.87h.5M127.77 74.62h.5M138.13 65.64h.5M137.57 71.86h.5M132.47 72.01h.5M154.91 75.15h.5M142.04 72.92h.5M152.31 72.39h.5M144.4 71.19h.5M132.9 75.08h.5M135.9 79.09h.5M138.23 85.88h.5M145.7 70.83h.5M135.39 67.56h.5M137.29 84.38h.5M158.84 79.37h.5M130.38 79.99h.5M157.18 76.64h.5M126.73 72.94h.5M125.7 74.11h.5M132.62 64.59h.5M129.37 71.36h.5M122.39 76.45h.5M134.76 86.7h.5M131.52 81.38h.5M128.98 70.35h.5M124.95 83.02h.5M135.45 85.35h.5M129.08 83.32h.5M142.83 71h.5M138.94 74.79h.5M141.78 76.39h.5M133.74 76.61h.5M134.21 77.86h.5M131.3 76.99h.5M143.99 86.05h.5M146.42 65.76h.5M134.75 86.65h.5M140.56 78.15h.5M138.1 85.65h.5M154.46 73.61h.5M130.15 65.89h.5M140.49 83.18h.5M123.58 80.52h.5M138.27 81.32h.5M149.05 82.43h.5M139 81.55h.5M153.68 76.53h.5M153.55 82.72h.5M149.62 77.82h.5M141.64 69.28h.5M139.77 65.88h.5M136.21 72.13h.5M136.18 70.69h.5M134.47 78.31h.5M128.89 77.03h.5M134.4 66.05h.5M150.81 74.42h.5M141.65 72.06h.5M149.32 74.78h.5M153.21 83.25h.5M132.15 72.08h.5M152.73 83.49h.5M132.1 73.74h.5M141.26 80.73h.5M131.3 85.6h.5M138.03 69.83h.5M125.96 83.68h.5M130.58 73.01h.5M151.9 75.13h.5M150.94 76.39h.5M134.11 72.43h.5M130.74 69.78h.5M155.31 82.12h.5M126.1 78.56h.5M145.73 77.75h.5M128.85 71.8h.5M136.43 75.73h.5M147.87 84.77h.5M148.44 66.47h.5M145.4 63.06h.5M144.48 63h.5M138.97 81.69h.5M146.32 66.42h.5M131.9 71.24h.5M152.23 78.54h.5M124.43 77.92h.5" stroke="#62c4ec" stroke-width="1.3" stroke-linecap="round"/>
<path d="M155.63 80.38h.4M137.14 75.44h.4M150.11 80.21h.4M146.01 65.6h.4M136.58 66.8h.4M132.69 74.66h.4M129.34 78.08h.4M136.05 64.95h.4M130.92 66.07h.4M137.41 69.44h.4M151.01 73.29h.4M129.8 85.12h.4M125.13 73.53h.4M145.97 78.53h.4M146.05 69.96h.4M123.19 81.31h.4M136.02 86.15h.4M144.12 78.53h.4M146.89 77.48h.4M155.85 80.82h.4M142.46 63.91h.4M134.71 84.71h.4M144.85 74.36h.4M123.95 75.41h.4M123.38 81.41h.4M144.75 74.36h.4M142.62 79.79h.4M143.88 71.75h.4M149.81 73.19h.4M131.08 78.41h.4M139.75 74.44h.4M124.42 73.04h.4M127.21 71.88h.4M141 74.37h.4M131.81 69.2h.4M128.66 69.7h.4M151.29 69.84h.4M131.91 85.63h.4M131.58 84.92h.4M140.07 66.48h.4M126.89 84.36h.4M140.17 72.59h.4M125.76 73.85h.4M139.33 72.63h.4M150.16 74.59h.4M124.4 72.23h.4M123.99 80.77h.4M141.67 74.64h.4M144.35 71.94h.4M154.88 79.05h.4M145.16 62.43h.4M125.45 76.7h.4M143.62 76.65h.4M141.72 62.3h.4M153.45 74.85h.4M135.48 71.6h.4M127.61 75.88h.4M139.88 79.68h.4M141.32 68.11h.4M154.47 72.55h.4M132.13 66.42h.4M140.98 69.31h.4M122.99 77.32h.4M155.96 78.69h.4M138.54 78.8h.4M135.33 81.82h.4M144.58 61.99h.4M143.29 85.63h.4M141.74 67.16h.4M128.31 77.08h.4M149.43 76.31h.4M138.97 83.23h.4M156.36 79.43h.4M145.94 84.41h.4M144.19 64.27h.4M126.27 72.45h.4M139.32 66.99h.4M126.63 73.04h.4M149.54 77.01h.4M147.92 74.13h.4M133.01 83.7h.4M141.47 79.59h.4M136.13 75.01h.4M153.8 77.88h.4M137.25 69.49h.4M156.77 78.88h.4M142.9 84.51h.4M135.03 78.9h.4M140.89 66.5h.4M131.62 73.92h.4M136.34 71.33h.4M152.7 77.78h.4M128.19 77.42h.4M143.57 80.42h.4M153.87 77.24h.4M127.49 68.81h.4M156.07 81.66h.4M142.38 77.28h.4M139.33 86.76h.4M142.07 72.88h.4M138.28 71.13h.4M135.3 85.89h.4M138.18 68.21h.4M131.8 78.42h.4M147.4 71.44h.4M129.83 66.13h.4M126.06 78.78h.4M130.55 82.5h.4M138 76.63h.4M135.31 86.44h.4M135.67 69.79h.4M130.6 65.09h.4M145.86 76.97h.4M137.84 63.23h.4M132.35 75.73h.4M147.2 75.09h.4M123.36 73.11h.4M129.75 77.38h.4M123.45 79.54h.4M136.43 75.16h.4M157.08 75.81h.4M135.89 76.49h.4M147.72 74.14h.4M129.1 70.78h.4M127.3 79.01h.4M132.41 78.81h.4M152.07 76.4h.4M153.69 72.18h.4M153.41 77.98h.4M151.66 78.65h.4M141.32 74.65h.4M137.3 79.01h.4M151.97 74.75h.4M140.16 83.89h.4M136.46 71.17h.4M140.29 79.48h.4M147.81 73.31h.4M155.75 74h.4M131.41 73.82h.4M132.87 85.23h.4M129.8 76.33h.4M141.84 77.79h.4M145.87 85.37h.4M149.56 82.5h.4M137.51 67.2h.4M145.99 69.88h.4M142.28 78.34h.4M135.4 86.61h.4M126.78 80.81h.4M125.2 69.37h.4M143.73 74.28h.4M133.48 65.38h.4M144.07 82.99h.4M155.58 73.72h.4M130.01 79.19h.4M150.3 75.94h.4M132.63 80.81h.4M133.82 72.83h.4M141.43 66.53h.4M130.9 64.98h.4M156.97 80.33h.4M124.73 74.05h.4M153.68 78.91h.4M144.08 80.31h.4M136.81 73.47h.4M155.54 79.22h.4M141.42 75.62h.4M130.71 82.9h.4M130.8 86.01h.4M138.92 86.57h.4M124.44 82.89h.4M160.22 78.67h.4M149.85 68.22h.4M153.06 75.85h.4M133.66 80.46h.4M133.02 71.22h.4M147.38 84.59h.4M152.62 78.52h.4M140.09 66.79h.4M136.67 72.22h.4M144.71 84.82h.4M130.49 73.57h.4M130.65 72.71h.4M155.43 77.88h.4M147.97 78.5h.4M146.49 79.04h.4M152.73 73.93h.4M140.68 80.91h.4M131.66 73.97h.4M156.56 79.86h.4M141.35 75.92h.4M139.32 73.77h.4M152.93 78.72h.4M130.88 68.09h.4M150.83 69.76h.4M128.43 68.87h.4M140 62.82h.4M137.26 66.16h.4M132.34 66.65h.4M147.44 74.9h.4M126.08 76.16h.4M154.12 80.73h.4M143.16 61.35h.4M124.14 81.88h.4M128.35 67.1h.4M155.73 79.39h.4M150.19 78.83h.4M121.8 77.56h.4M142.99 71h.4M136.56 65.41h.4M139.17 83.52h.4M145.59 77.94h.4M124.75 75.54h.4M143.93 80.83h.4M145.09 64.5h.4M149.62 80.06h.4M146.91 85.38h.4M146.25 74.49h.4M125.55 82.45h.4M132.59 74.25h.4M148.42 70.74h.4M149.7 76.52h.4M138.34 74.27h.4M143.7 61.61h.4M128.38 76.89h.4M134.79 80.41h.4M138.81 83.82h.4M141.97 76.59h.4M148.26 71.77h.4M139.64 62.62h.4M157.66 79.63h.4M130.24 75.36h.4M146.74 68.83h.4M142.1 75.34h.4M158.72 77.08h.4M143.05 62.8h.4M125.68 71.62h.4M145.5 65.62h.4M144.45 73.12h.4M153.37 73.27h.4M130.21 80.32h.4M146.38 76.25h.4M152.51 74.36h.4M125.86 80.67h.4M145.51 80.63h.4M151.21 72.09h.4M143.48 66.68h.4M138.95 71.53h.4M132.52 79.63h.4M138.24 66.95h.4M142.2 74.29h.4M141.97 65.6h.4M122.91 78.02h.4M142.61 83.38h.4M124.89 82.85h.4M122.43 74.64h.4M150.15 68.92h.4M150.91 70.07h.4M131.34 67.3h.4M150.68 70.96h.4M136.19 75.57h.4M130.35 68.78h.4M127.31 73.07h.4M143.72 78.96h.4M151.51 77.06h.4M139.1 73.43h.4M129.66 79.07h.4M132.33 75.76h.4M127.18 71.9h.4M148.32 84.68h.4M137.66 77.65h.4M122.83 76.94h.4M150.94 82.04h.4M137.96 71.83h.4M139.71 83.8h.4M142.33 70.24h.4M142.13 69.3h.4M135.11 81.73h.4M148.26 73.16h.4M154.92 81.07h.4M143.61 82.31h.4M136.01 69.19h.4M142.91 85.92h.4M150.19 80.84h.4M156.84 79.92h.4M140.97 73.92h.4M132.63 78.66h.4M152.86 73.31h.4M150.52 83.12h.4M137.63 69.63h.4M137.3 83.59h.4M143.5 77.62h.4M136.04 73.48h.4M130.53 83.71h.4M138.78 77.57h.4M144.16 64.35h.4M155.4 74.99h.4M157.61 76.3h.4M146.19 70.95h.4M142.22 86.26h.4M132.14 69.82h.4M134.86 78.43h.4M158.88 79.03h.4M151.63 77.49h.4M141.46 78.02h.4M136.7 83.27h.4M134.47 71.56h.4M127.89 72.85h.4M144.28 81.43h.4M140.43 64.44h.4M129.68 67.79h.4M139.2 64.84h.4M132.66 73.13h.4M150.3 80.58h.4M130.54 76.33h.4M159.35 79.9h.4M143.29 81.42h.4M124.16 78.88h.4M133.5 74.56h.4M141.2 74.76h.4M146.15 85.51h.4M146.72 65.37h.4M142.69 72.21h.4M136.83 63.84h.4M147.3 80.94h.4M135.95 66.4h.4M149.02 71.58h.4M153.1 76.27h.4M148.9 81.09h.4M150.83 71.42h.4M127.08 77.6h.4M157.11 80.73h.4M147.01 69.06h.4M151.4 71.95h.4M124.92 78.11h.4M151.65 78.91h.4M159.41 79.19h.4M135.64 79.41h.4M127 72.23h.4M124.5 77.31h.4M128.35 77.19h.4M145.86 64.37h.4M155.11 76.93h.4M134.03 84.5h.4M140.08 73.89h.4M132.25 72.09h.4M125.64 78.5h.4M137.08 75.1h.4M139.38 85.56h.4M124.03 76.35h.4M151.73 79.72h.4M131.17 85.19h.4M137.49 85.07h.4M141.87 63.21h.4M143.93 76.99h.4M153.5 74.83h.4M145.03 69.95h.4M148.16 76.2h.4M138 76.4h.4M157 80.75h.4M131.97 69.3h.4M134.66 75.54h.4M136.28 75.23h.4M127.68 84.37h.4M143.27 74.81h.4M146.29 84.62h.4M136.36 68.39h.4M143.86 85.49h.4M139.6 81.84h.4M146.86 68.55h.4M132.49 64.42h.4M150.15 73.18h.4M126.29 75.83h.4M136.03 72.5h.4M127.19 78.35h.4M131.82 69.57h.4M144.12 77.1h.4M152.63 72.91h.4M135.03 82.69h.4M136.41 77.53h.4M147.22 78.88h.4M137.52 83.82h.4M142.26 69.03h.4M134.06 72.53h.4M135.39 86.63h.4M149.13 82.9h.4M146.89 77.8h.4M152.05 74.29h.4M148.51 83.36h.4M148.2 71.61h.4M154.89 76.24h.4M136.81 66.27h.4M139.67 71.8h.4M133.51 72.72h.4M129.34 77.73h.4M132.16 65.18h.4M155.75 77.34h.4M137.87 82.86h.4M134.78 73.38h.4M137.01 81.22h.4M141.23 78.82h.4M151.41 84.31h.4M133.95 84.74h.4M125.2 76.13h.4M150.97 78.9h.4M121.98 75.9h.4M141.32 67.43h.4M149.55 78.31h.4M138.34 63.51h.4M129.83 80.02h.4M137.18 72.62h.4M130.97 70.65h.4M136.54 80.79h.4M132.87 74.65h.4M134.06 77.24h.4M144.07 79.22h.4M126.21 69.54h.4M137.14 68.97h.4M141.57 80.52h.4M143.46 61.99h.4M145.01 81.48h.4M155.29 74.18h.4M129.71 77.4h.4M152.04 80.09h.4M144.76 63.23h.4M147.18 65.86h.4M143.01 85.74h.4M129.01 80.24h.4M134.47 64.54h.4M140.57 63.19h.4M130.87 72.88h.4M135.54 74.69h.4M125.47 77.87h.4M135.51 79.65h.4M145.53 71.1h.4M153.61 81.07h.4M139.04 64.95h.4M149.24 69.75h.4M135.46 66.72h.4M152.02 71.55h.4M143.5 81.55h.4M137.72 71.67h.4M131.02 84.25h.4M137.76 83.17h.4M142.4 74.95h.4M130.88 77.35h.4M143.97 67.56h.4M149.79 75.22h.4M134.77 75.98h.4M139.54 75.83h.4M145.41 74.72h.4M124.98 71.01h.4M142.94 76.2h.4M154.76 74.95h.4M141.76 86.4h.4M142.72 81.41h.4M128.03 83.7h.4M144.97 78.62h.4M134.76 70.49h.4M149.07 75.46h.4M149.11 69.59h.4M145.01 68.78h.4M144.09 85.61h.4M138.82 63.85h.4M143.95 67.75h.4M148.5 67.3h.4M128.06 75.56h.4M129.05 84.43h.4M139.71 76.95h.4M136.29 84.43h.4M148.57 78.58h.4M150.08 69.2h.4M124.19 75.05h.4M131.85 67.63h.4M142.11 74.93h.4M143 82.61h.4M141.52 69.18h.4M137.46 75.62h.4M151.74 72.1h.4M138.07 82.04h.4M125.08 74.92h.4M151.36 69.75h.4M137.24 71.55h.4M157.35 76.03h.4M129.13 76.87h.4M141.11 82.72h.4M132.07 70.99h.4M150.9 78.68h.4M134.2 77.16h.4M144.59 78.31h.4M140.67 78.24h.4M154.21 75.07h.4M127.5 71.06h.4M138.16 66.42h.4M144.1 61.96h.4M139.81 78.58h.4M144.73 76.55h.4M158.84 79.48h.4M147.14 81.17h.4M149.7 81.36h.4M157.38 79.46h.4M132.03 70.45h.4M142.31 66.65h.4M133.06 75.87h.4M156.35 78.35h.4M139.74 84.3h.4M136.08 73.72h.4M131.93 69.43h.4M148.86 71.8h.4M134.44 69.35h.4M129.58 72.99h.4M151.15 78.33h.4M143.98 74.3h.4M124.14 76.01h.4M150.73 68.82h.4M131.46 82.48h.4M132.54 80.49h.4M149.19 72.45h.4M143.81 67.28h.4M148.82 73.64h.4M151.4 70.13h.4M137.97 70.44h.4M140.8 85.05h.4M151.22 81.01h.4M145.03 66.23h.4M146.23 68.9h.4M145.08 70.41h.4M149 68.05h.4M150.29 72.3h.4M139.84 77.57h.4M140.01 64.02h.4M136.99 70.1h.4M142.64 78.5h.4M135.39 79.93h.4M138.35 75.32h.4M139.76 67.54h.4M142.03 79.37h.4M140.96 78.42h.4M149.2 70.09h.4M143.71 72.33h.4M149.65 70.18h.4M133.15 65.58h.4M143.55 82.53h.4M133.84 83.08h.4M134.41 85.33h.4M140.98 71.79h.4M146.73 81.84h.4M130.3 81.35h.4M132.01 75.79h.4M132.01 73.94h.4M144.35 62.16h.4M128.79 75.08h.4M138.67 66.67h.4M139.12 74.94h.4M133.56 76.33h.4M150.19 73.39h.4M144.62 76.51h.4M150.85 78.73h.4M137.19 73.77h.4M143.7 66.74h.4M150.77 76.59h.4M135.9 65.35h.4M136.56 85.7h.4M126.24 79.93h.4M132.26 82.23h.4M130.37 78.95h.4M130.24 71.38h.4M135.59 66.47h.4M157.73 78.98h.4M141.64 64.3h.4M142.45 85.22h.4M147.23 73.2h.4M152.08 71.03h.4M131.55 76.95h.4M142.04 69.13h.4M141.23 61.44h.4M155.31 76.11h.4M142.28 64.15h.4M138.87 75.89h.4M154.38 78.88h.4M140.2 64.32h.4M147.52 80.27h.4M146.02 81.2h.4M151.02 82.41h.4M131.12 79.62h.4M156.21 81.45h.4M127.2 78.07h.4M140.79 66.99h.4M147.47 77.37h.4M151.34 77.4h.4M128.11 71.05h.4M137.5 69.98h.4M156.02 80.06h.4M141.48 79.77h.4M157.74 80.9h.4M130.19 83.58h.4M149.33 83.35h.4M143.21 64.58h.4M130.06 83.42h.4M125.26 75.87h.4M133.82 78.41h.4M158.4 80.57h.4M151.23 70.04h.4M157.4 78.25h.4M123.02 77.83h.4M127.23 80.68h.4M153.57 80.34h.4M133.32 67.13h.4M154 81.15h.4M157.4 76.32h.4M135.31 82.02h.4M134.79 76.43h.4M138.57 78.84h.4M147.87 70.61h.4" stroke="#24a2dc" stroke-width="1.1" stroke-linecap="round"/>
<polygon points="72,94 80,91.5 90,92 97,96 102,102 106,109 110,114 114,119 112,122.5 104,124.5 92,124.5 80,122 71,118 66,113 67,104 69,98" fill="#fce8a8" opacity="0.9"/>
<path d="M83.73 102.58h.5M70.74 115.42h.5M91.06 98.39h.5M86.02 104.7h.5M89.06 105.34h.5M80.3 99.51h.5M73.71 108.05h.5M77.68 104.49h.5M99.84 120.84h.5M81.5 94.1h.5M79.21 110.5h.5M73.24 94.79h.5M90.66 97.38h.5M100.52 123.98h.5M79.9 121.42h.5M93.69 115.37h.5M73.16 112.9h.5M76.84 111.44h.5M88.29 105.37h.5M108.15 122.94h.5M92.14 121.41h.5M82.62 107.37h.5M76.61 108.45h.5M91.01 118.85h.5M98.81 109.78h.5M78.98 113.97h.5M84.33 115.63h.5M79.39 114.38h.5M108.66 114.54h.5M70.87 102.45h.5M79.73 101.31h.5M81.74 98.94h.5M69.89 105.98h.5M75.29 93.45h.5M89.22 109.49h.5M75.08 114.47h.5M92.92 114.97h.5M85.77 113.52h.5M77.79 115.8h.5M74.45 98.99h.5M86.52 121.94h.5M76 109.11h.5M96.89 101.02h.5M98.25 104.06h.5M83.18 103.77h.5M77.01 102.42h.5M75.51 118.03h.5M100.61 104.48h.5M95.8 102.8h.5M88.34 99.8h.5M95.28 115.37h.5M78.07 110.18h.5M92.89 98.29h.5M91.15 95.18h.5M70.28 102.67h.5M77.93 115.93h.5M93.35 123.19h.5M95.83 108.73h.5M97.66 102.77h.5M77.61 95.22h.5M93.81 98.85h.5M81.68 118.73h.5M72.24 108.46h.5M110.55 122.14h.5M87.23 120.32h.5M89.99 117.26h.5M104.88 110.49h.5M112.08 119.9h.5M86.34 110.86h.5M84.81 92.72h.5M83.89 94.79h.5M74.6 109.01h.5M99.94 109.48h.5M88.76 99.22h.5M88.56 98.11h.5M109.19 116.71h.5M75.95 117.25h.5M99.74 103.4h.5M78.03 116.26h.5M91.55 95.84h.5M76.69 116.73h.5M107.56 112.87h.5M86.16 118.82h.5M98.32 112.67h.5M77.27 100.87h.5M75 118.36h.5M105 111.02h.5M86.59 115.67h.5M73.08 100.57h.5M94.21 103.97h.5M71.99 110.22h.5M104.21 109.62h.5M71.97 98.35h.5M66.94 104.92h.5M85.81 119.25h.5M70.42 113.2h.5M87.53 95.46h.5M109.6 122.65h.5M103.85 117.75h.5M99.73 106.07h.5M104.27 106.35h.5M76.24 99.51h.5M77.76 110.86h.5M93.99 94.34h.5M99.53 103.74h.5M90.05 118.91h.5M77.7 101.14h.5M70.9 114.96h.5M81.44 118.83h.5M83.78 96.35h.5M87.13 119.6h.5M87.27 97.93h.5M94.05 97.31h.5M90.77 111.16h.5M91.18 107.65h.5M72.63 98.32h.5M96.46 114.47h.5M104.76 111.39h.5M81.2 112.19h.5M94.49 122.67h.5M87.51 100.49h.5M84.27 121.1h.5M100.12 105.53h.5M83.42 91.67h.5M75.9 119.43h.5M72.61 98.23h.5M67.19 103.55h.5M98.76 98.25h.5M101.28 123.56h.5M110.55 122.35h.5M88.23 102.93h.5M92.88 104.27h.5M94.69 99.63h.5M87.5 117.65h.5M99.71 116.74h.5M84.3 93.02h.5M85.26 99.68h.5M101.67 102.1h.5M111.4 120.79h.5M106.19 109.63h.5M92.26 96.35h.5M80.14 98.4h.5M81.52 101.28h.5M97.08 106.14h.5M106.12 113.75h.5M84.24 94.85h.5M77.54 101.35h.5M72.3 117.43h.5M97.72 117.66h.5M87.86 115.67h.5M88.04 103.7h.5M79.03 107.57h.5M82.51 106.73h.5M86 121.82h.5M72.78 98.79h.5M88.51 121.01h.5M76.28 116.07h.5M77.99 119.21h.5M109.27 117.09h.5M92.67 113.25h.5M91.83 106.48h.5M74.77 106.17h.5M75.63 111.72h.5M89.84 117.92h.5M71.44 107.46h.5M89.88 120.19h.5M92 93.89h.5M78.95 105.05h.5M85.95 118.32h.5M89.84 100.99h.5M100.75 110.55h.5M82.56 94.55h.5M77.9 94.76h.5M82.46 120.11h.5M88.75 97.5h.5M78.65 102.82h.5M105.79 123.15h.5M101.95 107.03h.5M92.93 106.08h.5M75.5 104.82h.5M92.18 115h.5M103.5 106.98h.5M78.07 117.56h.5M110.24 117.72h.5M85.59 97.49h.5M101.16 106.94h.5M99.38 117.06h.5M92.32 116.9h.5M75.92 118.1h.5M80.33 103.51h.5M67.06 109.61h.5M76.93 112.58h.5M98.37 105.81h.5M82.84 116.65h.5M76.81 110.97h.5M85.94 108.68h.5M100.11 118.75h.5M84.02 106.08h.5M86.85 109.51h.5M71.8 110.78h.5M84.93 97.82h.5M85.2 95.38h.5M90.5 106.33h.5M106.16 120.4h.5M101.65 115.91h.5M84.96 121.9h.5M82.33 108.79h.5M93.44 116.3h.5M82.32 101.25h.5M90.94 100.27h.5M81.56 113.1h.5M90.19 112.77h.5M73.67 98.75h.5M104.51 120.78h.5M84.68 101.15h.5M89.38 114.69h.5M69.79 114.12h.5M83.17 120.63h.5M92.08 116.83h.5M76.11 118.11h.5M89.12 94.2h.5M78.67 93.49h.5M70.58 108.71h.5M68.09 114.26h.5M90.21 112.45h.5" stroke="#f8cc50" stroke-width="1.3" stroke-linecap="round"/>
<path d="M98.99 120.7h.4M103.93 119.83h.4M91.57 96.15h.4M84.59 100.73h.4M109.72 119.69h.4M94.49 97.41h.4M76.01 97.65h.4M108.26 120.73h.4M91.53 102.03h.4M91.24 99.83h.4M90.09 99.73h.4M85.95 118.89h.4M91.9 118.87h.4M79.99 107.43h.4M107.02 112.19h.4M90.73 121.68h.4M71.56 96.67h.4M92.76 118.42h.4M86.25 97.59h.4M82.46 112.38h.4M103.74 115.17h.4M104.21 111.18h.4M78.58 99.21h.4M93.74 107.69h.4M78.53 95.3h.4M76.3 95.11h.4M84.99 106.14h.4M96.71 114.57h.4M91.64 106.53h.4M85.31 118.64h.4M94.96 100.01h.4M80.18 104.37h.4M85.37 120.64h.4M96.83 115.78h.4M75.13 96.32h.4M80.13 105.12h.4M82.1 108.29h.4M89.07 122.18h.4M112.3 120.6h.4M93.81 119.99h.4M71.58 117.06h.4M88.4 94.97h.4M81.07 105.05h.4M68.57 107.09h.4M84.03 106.27h.4M92.12 123.9h.4M84.36 92.26h.4M104.62 113.68h.4M91.71 97.78h.4M100.58 122.98h.4M76.9 95.51h.4M76.28 105.11h.4M98.15 98.89h.4M85.94 96.43h.4M88.98 121.62h.4M80.31 104.57h.4M81.05 92.38h.4M72.16 97.78h.4M70.14 112.05h.4M90.52 114.76h.4M102.05 117.8h.4M99.64 103.37h.4M107.36 120.05h.4M78.69 96.77h.4M105.2 121.91h.4M95.66 121.02h.4M90.36 122.6h.4M104.69 118.77h.4M99.47 114.71h.4M77.02 106.84h.4M105.16 115.36h.4M94.56 117.63h.4M68.97 110.99h.4M86.52 99.98h.4M76.62 118.95h.4M100.67 109.72h.4M77.96 93.97h.4M94.54 95.59h.4M72.18 100.28h.4M90.08 96.52h.4M95.07 101.77h.4M97.69 123.97h.4M86.1 113.3h.4M88.41 104.37h.4M104.08 123.98h.4M82.63 119.31h.4M87.34 120.29h.4M83.61 102.38h.4M74.36 113.55h.4M86.8 95.75h.4M68.6 109.84h.4M97.47 113.9h.4M82.2 97.54h.4M74.86 108.03h.4M75.1 96.33h.4M95.26 121.4h.4M71.6 94.74h.4M86.48 110.75h.4M84.14 99.77h.4M99.3 105.93h.4M94.38 104.64h.4M89.63 100.79h.4M79.41 106.44h.4M88.04 106.6h.4M72.58 108h.4M80.17 92.39h.4M82.39 94.13h.4M96.86 121.79h.4M106.88 113.69h.4M105.67 116.95h.4M92.12 118.39h.4M75.98 105.44h.4M88.16 99.14h.4M100.36 110.57h.4M93.55 113.16h.4M108.98 121.95h.4M70.78 116.64h.4M69.99 112.74h.4M93.7 112.13h.4M72.69 101.9h.4M75.06 107.86h.4M75.31 108.81h.4M80.72 97.73h.4M80.8 100.42h.4M85.49 116.44h.4M68.18 108.48h.4M87.84 120.35h.4M78.3 97.92h.4M90.46 122.13h.4M88.3 106.17h.4M74.31 103.92h.4M74.7 101.72h.4M82.31 91.7h.4M82.21 94.55h.4M67.46 108.89h.4M92.85 98.52h.4M100.89 104.39h.4M76.42 112.51h.4M85.94 101.8h.4M72.63 97.67h.4M82.25 113.23h.4M110.44 117.66h.4M92.25 121.65h.4M99.46 101.37h.4M81.67 97.21h.4M80.5 94.41h.4M91.39 101.56h.4M87.24 119.19h.4M77.93 119.55h.4M109.51 117.34h.4M79.05 96.07h.4M92.07 108.87h.4M91.52 93.28h.4M79.11 114.36h.4M92.24 104.13h.4M88.81 121.89h.4M96.91 106.59h.4M74.31 93.69h.4M99.89 119.57h.4M79.95 108.93h.4M82.53 106.92h.4M94.62 122.61h.4M81.21 107.4h.4M86.98 94.56h.4M109.2 122.54h.4M94.39 107.52h.4M79.87 109.2h.4M95.65 111.9h.4M87.69 115.24h.4M92.76 116.18h.4M95.15 103.95h.4M97.76 106.11h.4M83.94 100.67h.4M97.48 109.1h.4M98.17 104.5h.4M83.17 108.74h.4M89.48 106.37h.4M94.74 98.42h.4M79.65 103.26h.4M101.74 103.09h.4M87.02 105.74h.4M83.01 99.7h.4M70.16 100.97h.4M90.1 108.27h.4M75.21 95.12h.4M84.69 116.85h.4M81.35 96.61h.4M84.94 115.41h.4M75.19 101.52h.4M77.52 118.28h.4M84.32 116.22h.4M97.61 97.23h.4M75 93.2h.4M71.18 103.73h.4M69.05 109.22h.4M90.58 113.13h.4M88.45 109.67h.4M101.79 120.55h.4M110.75 117.76h.4M67.76 107.38h.4M108.49 122.2h.4M103.69 115.94h.4M72.44 117.43h.4M81.08 94.94h.4M74.7 109.84h.4M81.78 94.68h.4M89.93 107.97h.4M68.22 113.48h.4M99.69 112.7h.4M88.09 105.31h.4M84.98 108.5h.4M101.94 114.69h.4M111.94 121.12h.4M100.78 105.55h.4M88.1 123.32h.4M70.42 114.6h.4M97.96 109.2h.4M72.58 98.47h.4M94.01 101.53h.4M105.62 117.72h.4M95.88 123.16h.4M76.34 107.1h.4M84.04 117.88h.4M100.64 111.26h.4M90.52 120.85h.4M66.94 105.38h.4M98.24 113.44h.4M95.71 102.02h.4M97.28 112.62h.4M93.44 109.03h.4M86.79 97.56h.4M91.72 95h.4M105.93 114.06h.4M67.61 114.18h.4M84.87 103.74h.4M72.02 113.26h.4M86.55 116.76h.4M73.09 99.88h.4M82.88 117.34h.4M77.72 94.89h.4M105.83 119.3h.4M78.66 107.45h.4M103.47 115.54h.4M88.22 108.86h.4M69.92 108.09h.4M96.42 97h.4M77.4 93.1h.4M98.91 124.33h.4M85.35 101.77h.4M78.33 106.29h.4M70.82 113.9h.4M68.16 109.62h.4M110.9 117.78h.4M84.15 111.36h.4M87.72 95.4h.4M103.4 111.2h.4M98.69 118.74h.4M76.43 104.9h.4M78.35 115.89h.4M93.82 110.74h.4M92.69 97.08h.4M94.25 104.62h.4M89.53 92.39h.4M74.43 103.94h.4M80.22 92.99h.4M95.86 113.04h.4M96.35 114.38h.4M97.62 105.2h.4M93.76 102.43h.4M76.31 113.89h.4M82.67 118.6h.4M107.9 121.64h.4M84.33 101.21h.4M110.95 118.58h.4M101.47 119.75h.4M88.77 105.45h.4M74.54 98.38h.4M98.25 108.12h.4M73.07 101.18h.4M71.64 103.57h.4M92.96 111.71h.4M94.86 103.9h.4M98.36 121.07h.4M97.9 124.02h.4M93.75 119.45h.4M87.71 109.52h.4M109.93 115.18h.4M95.75 101.01h.4M89.26 92.1h.4M74.9 96.31h.4M72.86 109.38h.4M89.7 120.18h.4M106.8 113.97h.4M89.43 116.05h.4M67.4 112.72h.4M83.99 115.77h.4M94.27 112.09h.4M102.91 112.76h.4M85.96 114.82h.4M80.74 96.41h.4M98.33 105.94h.4M99.06 102h.4M97.68 110.42h.4M73.09 105.58h.4M91.23 104.34h.4M102.53 116.33h.4M76.63 98.23h.4M76.73 96.09h.4M96.9 99.81h.4M107.47 120.09h.4M72.03 94.56h.4M80.95 92.26h.4M90.44 120.28h.4M101.36 109.51h.4M109.53 118.34h.4M96.75 97.93h.4M100.26 115.47h.4M66.7 110.61h.4M82.23 120.88h.4M93.4 123.87h.4M80.05 101h.4M90.56 94.51h.4M85.92 109.67h.4M75.14 119.28h.4M104.94 123.68h.4M98.53 100.91h.4M83.68 118.87h.4M97.65 116.22h.4M98.68 104.62h.4M73.83 103.39h.4M74.89 113.03h.4M82.64 108.57h.4M74.6 100.49h.4M99.86 113.19h.4M79.59 97.75h.4M72.49 101.9h.4M74.52 108.96h.4M67.97 104.95h.4M87.05 114.62h.4M83.97 122.02h.4M77.13 98.92h.4M106.3 123.78h.4M88.71 110.68h.4M74.37 110.91h.4M100.82 119.21h.4M103 114.91h.4M72.78 101.63h.4M66.63 113.59h.4M74.67 100.22h.4M100.91 123.64h.4M71.51 103.17h.4M101.73 103.21h.4M88.77 93.62h.4M79.27 93.54h.4M77.85 97.66h.4M89.81 121.67h.4M86.78 105.93h.4M71.48 100.94h.4M103.81 110.26h.4M66.8 111.3h.4M90.96 117.59h.4M86.84 109.44h.4M75.08 111.87h.4M93.65 104.89h.4M77.57 113.26h.4M71.97 95.07h.4M80.66 101.66h.4M86.63 92.63h.4M76.34 102.77h.4M98.54 115.67h.4M108.78 118.09h.4M97.37 112.06h.4M87.9 93.48h.4M98.39 105.42h.4M91.97 107.66h.4M73.9 95.95h.4M69.5 115.05h.4M85.18 116.43h.4M76.13 106.96h.4M105.52 119.37h.4M89.74 104.67h.4M94.45 117.52h.4M97.01 123.56h.4M73.28 109.86h.4M76.65 115.21h.4M76.81 101.99h.4M91.65 100.23h.4M79.09 94.71h.4M80.01 91.78h.4M92.14 112.36h.4M85.7 104.8h.4M74.47 109.56h.4M77.97 107.13h.4M98.66 104.71h.4M85.39 108.28h.4M81.55 120.13h.4M70.83 110.6h.4M105.38 113.95h.4M71.47 110.84h.4M102.75 111.32h.4M103.84 124.37h.4M91.12 124.13h.4M86.72 122.73h.4M71.2 113.03h.4M81.79 101.46h.4M105.53 117.25h.4M80.94 108.82h.4M83.59 120.66h.4M71.29 106.43h.4M72.62 108.8h.4M75.68 96.79h.4M87.26 107.36h.4M85.62 115.5h.4M69.47 104.49h.4M95.6 108.18h.4M68.97 106.77h.4M85.3 107.01h.4M99.9 115.28h.4M74.53 111.3h.4M69.99 108.5h.4M95.9 118.94h.4M70.52 104.54h.4M98.52 118.29h.4M99.63 124.25h.4M85.54 103.83h.4M92.3 123.54h.4M74.8 103.93h.4M76.32 100.42h.4M89.32 120.91h.4M93.18 120.44h.4M74.3 117.79h.4M91.14 120.23h.4M84.19 108.73h.4M74.03 99.06h.4M105.48 114.54h.4M111.22 119.2h.4M82.19 111.96h.4M70.56 112.65h.4M105.51 118.24h.4M91.96 121.62h.4M76.16 110.42h.4M101.93 104.44h.4M103.1 114.85h.4M90.03 97.07h.4M85.93 93.59h.4M82.58 101.95h.4M109.98 120.23h.4M73.56 93.69h.4M86.89 93.35h.4M81.02 98.63h.4M89.28 93.54h.4M82.27 105.81h.4M79.13 95.91h.4M81.65 118.42h.4M76.69 107.35h.4M87.15 97.11h.4M74.51 106.65h.4M94.9 108.44h.4M97.73 111.58h.4M79.76 111.06h.4M69.55 97.51h.4M95.44 124.24h.4M100.54 105.22h.4M90.51 109.34h.4M103.14 104.56h.4M103.83 106.63h.4M80.2 101.72h.4M109.57 119.54h.4M72.4 100.59h.4M80.22 101.63h.4M95.14 106.82h.4M89.83 114.86h.4M94.67 108.06h.4M89.87 96.73h.4M70.73 106.14h.4M81.44 95.56h.4M77.18 118.96h.4M78.37 111.19h.4M78.24 93.37h.4M75.94 96.07h.4M87.47 111.31h.4M99.12 111.98h.4M110.49 121.3h.4M111.54 122.05h.4M88.41 103.17h.4M105.25 116.51h.4M97.42 114.65h.4M81.33 106.41h.4M78.93 99.3h.4M94.94 115.53h.4M101.44 117.28h.4M82.14 95.83h.4M74.26 103.22h.4M96.68 108.62h.4M96.04 105.43h.4M82.37 119.69h.4M99.83 119.17h.4M99.84 121.48h.4M92.58 124.17h.4M77.64 96.29h.4M100.88 110.59h.4M104.08 114.13h.4M80.36 116.96h.4M100.08 114.76h.4M77.12 101.09h.4M69.79 105.5h.4M81.77 102.55h.4M80.37 108.66h.4M85.1 118.4h.4M102.7 108.25h.4M104.3 109.49h.4M76.96 117.52h.4M85.11 117.78h.4M103.27 120.24h.4M96.91 103.93h.4M96.79 120.62h.4M88.39 115.33h.4M84.57 109.46h.4M90.23 119.79h.4M69.18 106.67h.4M87.94 96.4h.4M75.47 106.03h.4M69.14 105.55h.4M83.05 115.98h.4M68.12 105.19h.4M84.14 97h.4M70.96 96.36h.4M97.33 122.48h.4M102.81 105.65h.4M82.72 108.47h.4M81.86 94.36h.4M78.9 114.64h.4M108.24 117.07h.4M69.51 106.73h.4M94.56 96.84h.4M81.08 99.13h.4M76.2 102.54h.4M93.13 116.01h.4M66.36 110.52h.4M94.95 115.6h.4M69.15 113.14h.4M86.23 95.04h.4M67.62 109.39h.4M77.18 117.71h.4M93.96 120.78h.4M105.95 123.13h.4M76.15 117.45h.4M90.04 110.61h.4M100.42 120.34h.4M76.78 118.41h.4M90.84 120.22h.4M83.36 111.4h.4M99.31 120.46h.4M88.56 119.56h.4M95.09 116.61h.4M78.39 93.47h.4M85.51 97.5h.4M80.96 94.87h.4M72.74 98.07h.4M104.87 112.54h.4M97.4 123.29h.4M74.97 110.57h.4M79.87 105.95h.4M101.41 101.61h.4M87.26 97.06h.4M94.38 107.45h.4M92.03 99.94h.4M86.63 96.61h.4M91.28 107.68h.4M73.85 103.47h.4M68.27 101.21h.4M95.15 99.81h.4M93.55 95.92h.4M103.51 120.32h.4M83.72 105.84h.4M74.28 98.26h.4M85.1 94.61h.4M76.38 108.27h.4M93.03 103.01h.4M102.46 116.8h.4M72.31 96.58h.4M80.53 95.66h.4M75.05 119.29h.4M81.51 97.25h.4M68 113.22h.4M74.35 112.05h.4M103.99 112.13h.4M82.11 111.5h.4M81.22 113.56h.4M66.57 113.23h.4M73.82 107.1h.4M71.46 95.44h.4M86.4 95.21h.4M69.75 115.1h.4M82.24 118.67h.4M85.9 123.15h.4M72.45 107.29h.4M104.54 111.02h.4M92.83 108h.4M81.02 119.03h.4M89.92 101.85h.4M73.55 96.93h.4M71.41 97.46h.4M79.01 112.83h.4M91.37 94.04h.4M74.53 117.54h.4M83.32 109.07h.4M83.07 99.64h.4M74.15 93.44h.4M106.24 118.68h.4M98.44 121.74h.4M76.57 116.56h.4M81.19 115.15h.4M89.06 117.46h.4M71.26 114.16h.4M95.42 122.26h.4M81.5 98.93h.4M106.2 116.5h.4M81.85 118.13h.4M95.81 98.62h.4M92.35 123.89h.4M109.16 118.79h.4M74.96 107.53h.4M89.39 115.66h.4M101.42 118.28h.4M73.7 115.05h.4M88.08 99.23h.4M80.65 97.98h.4M95.78 109.02h.4M82.04 101.34h.4M90.43 106.06h.4M80.83 111.8h.4M87.54 106.58h.4M81.77 110.74h.4M98.09 110.01h.4M81.25 92.21h.4M98.28 102.9h.4M73.74 104.4h.4M98.92 123.65h.4M82.91 99.88h.4M80.52 107.9h.4M82.43 98.01h.4M109.88 120.45h.4M82.41 119.17h.4M103.21 109.1h.4M79.61 111.05h.4M101.12 123.94h.4M88.19 110.98h.4M80.34 94.77h.4M109.51 117.77h.4M77.97 93.64h.4M105.99 110.28h.4M85.78 120.6h.4M83.68 97.92h.4M72.11 95.86h.4M96.75 108.63h.4M85.88 122.37h.4M90.14 122.79h.4M109.67 118.27h.4M100.67 112.36h.4M81.26 95.98h.4M76.41 109.98h.4M76.5 112.35h.4M69.15 104.05h.4M96.98 114.12h.4M67.26 109.22h.4M82.26 102.43h.4M80.19 106.89h.4M78.75 95.2h.4M86.64 120.12h.4M75.15 104.33h.4M108.69 113.5h.4M77.28 116.9h.4M91.3 93.74h.4M86.67 112.35h.4" stroke="#f4b61c" stroke-width="1.1" stroke-linecap="round"/>
<rect x="37.9" y="61" width="15" height="4.2" rx="1.8" fill="#fff" opacity=".72"/>
<text x="45.4" y="64.25" font-size="3.4" fill="#444" text-anchor="middle" textLength="10.5" lengthAdjust="spacingAndGlyphs">chALL1</text>
<rect x="103.25" y="38.1" width="11.5" height="4.2" rx="1.8" fill="#fff" opacity=".72"/>
<text x="109" y="41.35" font-size="3.4" fill="#444" text-anchor="middle" textLength="7" lengthAdjust="spacingAndGlyphs">iALL5</text>
<rect x="133.05" y="73.9" width="11.5" height="4.2" rx="1.8" fill="#fff" opacity=".72"/>
<text x="138.8" y="77.15" font-size="3.4" fill="#444" text-anchor="middle" textLength="7" lengthAdjust="spacingAndGlyphs">iALL4</text>
<rect x="80.25" y="106.9" width="11.5" height="4.2" rx="1.8" fill="#fff" opacity=".72"/>
<text x="86" y="110.15" font-size="3.4" fill="#444" text-anchor="middle" textLength="7" lengthAdjust="spacingAndGlyphs">iALL3</text>
<line x1="20.8" y1="129.3" x2="20.8" y2="94" stroke="#222" stroke-width="1.3"/>
<polygon points="20.8,87.3 17.6,95.2 24,95.2" fill="#111"/>
<line x1="20.2" y1="128.8" x2="51" y2="128.8" stroke="#222" stroke-width="1.3"/>
<polygon points="57.8,128.8 50,125.6 50,132" fill="#111"/>
<text transform="translate(15.7,128.6) rotate(-90)" font-size="10" fill="#3a3a3a" textLength="23.7" lengthAdjust="spacingAndGlyphs" stroke="#3a3a3a" stroke-width=".45">UMAP2</text>
<text x="21" y="140.9" font-size="10" fill="#3a3a3a" textLength="24.1" lengthAdjust="spacingAndGlyphs" stroke="#3a3a3a" stroke-width=".45">UMAP1</text>
<text x="180.8" y="18.1" font-size="12.5" fill="#111" font-weight="bold" stroke="#111" stroke-width=".6">B</text>
<text x="256.2" y="31.1" font-size="7" fill="#333" textLength="85.3" lengthAdjust="spacingAndGlyphs" stroke="#333" stroke-width="0.15">Accessible Chromatin Peak</text>
<line x1="244.2" y1="36.2" x2="346" y2="36.2" stroke="#222" stroke-width="1.2"/>
<polygon points="353.2,36.2 345,33 345,39.4" fill="#111"/>
<rect x="199.3" y="41.5" width="43.5" height="17" rx="5" fill="#fff" stroke="#c8566f" stroke-width="1.15"/>
<text x="221.05" y="52.1" font-size="7" fill="#333" text-anchor="middle" stroke="#333" stroke-width="0.15">chALL 1</text>
<rect x="199.3" y="60.05" width="43.5" height="17" rx="5" fill="#fff" stroke="#3a7d64" stroke-width="1.15"/>
<text x="221.05" y="70.65" font-size="7" fill="#333" text-anchor="middle" stroke="#333" stroke-width="0.15">iALL 5</text>
<rect x="199.3" y="78.6" width="43.5" height="17" rx="5" fill="#fff" stroke="#62b8de" stroke-width="1.15"/>
<text x="221.05" y="89.2" font-size="7" fill="#333" text-anchor="middle" stroke="#333" stroke-width="0.15">iALL 4</text>
<rect x="199.3" y="97.15" width="43.5" height="17" rx="5" fill="#fff" stroke="#ead48a" stroke-width="1.15"/>
<text x="221.05" y="107.75" font-size="7" fill="#333" text-anchor="middle" stroke="#333" stroke-width="0.15">iALL 3</text>
<rect x="244" y="41" width="113.4" height="18.63" fill="#7ab8e2"/>
<rect x="357.1" y="41" width="21.6" height="18.63" fill="#7ab8e2"/>
<rect x="378.4" y="41" width="52.5" height="18.63" fill="#c42a1e"/>
<rect x="430.6" y="41" width="18.1" height="18.63" fill="#b0c8d6"/>
<rect x="244" y="41" width="1.6" height="18.33" fill="#7fbde7"/>
<rect x="245.6" y="41" width="1.2" height="18.33" fill="#71afd9"/>
<rect x="246.8" y="41" width="1.6" height="18.33" fill="#83c1eb"/>
<rect x="248.4" y="41" width="1" height="18.33" fill="#7dbbe5"/>
<rect x="249.4" y="41" width="1.2" height="18.33" fill="#72b0da"/>
<rect x="250.6" y="41" width="0.8" height="18.33" fill="#6fadd7"/>
<rect x="251.4" y="41" width="1.6" height="18.33" fill="#73b1db"/>
<rect x="253" y="41" width="1" height="18.33" fill="#89c7f1"/>
<rect x="254" y="41" width="1.2" height="18.33" fill="#80bee8"/>
<rect x="255.2" y="41" width="0.8" height="18.33" fill="#88c6f0"/>
<rect x="256" y="41" width="0.8" height="18.33" fill="#84c2ec"/>
<rect x="258.6" y="41" width="1" height="18.33" fill="#74b2dc"/>
<rect x="259.6" y="41" width="1" height="18.33" fill="#8ac8f2"/>
<rect x="260.6" y="41" width="1.6" height="18.33" fill="#82c0ea"/>
<rect x="262.2" y="41" width="0.8" height="18.33" fill="#80bee8"/>
<rect x="263" y="41" width="1.6" height="18.33" fill="#83c1eb"/>
<rect x="264.6" y="41" width="1.6" height="18.33" fill="#74b2dc"/>
<rect x="266.2" y="41" width="1.2" height="18.33" fill="#75b3dd"/>
<rect x="268.6" y="41" width="1" height="18.33" fill="#75b3dd"/>
<rect x="271.2" y="41" width="1.6" height="18.33" fill="#73b1db"/>
<rect x="273.6" y="41" width="1.6" height="18.33" fill="#7fbde7"/>
<rect x="275.2" y="41" width="0.8" height="18.33" fill="#80bee8"/>
<rect x="277.8" y="41" width="1" height="18.33" fill="#7fbde7"/>
<rect x="280" y="41" width="1.6" height="18.33" fill="#73b1db"/>
<rect x="281.6" y="41" width="1.6" height="18.33" fill="#74b2dc"/>
<rect x="284.8" y="41" width="1" height="18.33" fill="#74b2dc"/>
<rect x="287.8" y="41" width="1" height="18.33" fill="#80bee8"/>
<rect x="290" y="41" width="1" height="18.33" fill="#71afd9"/>
<rect x="291" y="41" width="1" height="18.33" fill="#76b4de"/>
<rect x="292.8" y="41" width="0.8" height="18.33" fill="#7fbde7"/>
<rect x="294.4" y="41" width="1" height="18.33" fill="#7ebce6"/>
<rect x="295.4" y="41" width="1" height="18.33" fill="#76b4de"/>
<rect x="296.4" y="41" width="1.6" height="18.33" fill="#7dbbe5"/>
<rect x="298" y="41" width="1.2" height="18.33" fill="#7fbde7"/>
<rect x="301.2" y="41" width="1" height="18.33" fill="#7fbde7"/>
<rect x="303.2" y="41" width="1.6" height="18.33" fill="#72b0da"/>
<rect x="308.2" y="41" width="1.6" height="18.33" fill="#76b4de"/>
<rect x="311.4" y="41" width="1.2" height="18.33" fill="#8ccaf4"/>
<rect x="312.6" y="41" width="0.8" height="18.33" fill="#75b3dd"/>
<rect x="314.2" y="41" width="1.6" height="18.33" fill="#7dbbe5"/>
<rect x="315.8" y="41" width="1.6" height="18.33" fill="#6ba9d3"/>
<rect x="317.4" y="41" width="1.2" height="18.33" fill="#80bee8"/>
<rect x="320.2" y="41" width="0.8" height="18.33" fill="#7ebce6"/>
<rect x="321" y="41" width="0.8" height="18.33" fill="#7fbde7"/>
<rect x="321.8" y="41" width="1.2" height="18.33" fill="#83c1eb"/>
<rect x="323" y="41" width="0.8" height="18.33" fill="#81bfe9"/>
<rect x="323.8" y="41" width="1" height="18.33" fill="#7dbbe5"/>
<rect x="324.8" y="41" width="1.6" height="18.33" fill="#75b3dd"/>
<rect x="327.6" y="41" width="1.6" height="18.33" fill="#74b2dc"/>
<rect x="331.8" y="41" width="1" height="18.33" fill="#80bee8"/>
<rect x="332.8" y="41" width="1.6" height="18.33" fill="#76b4de"/>
<rect x="334.4" y="41" width="1.6" height="18.33" fill="#74b2dc"/>
<rect x="336.8" y="41" width="1" height="18.33" fill="#6fadd7"/>
<rect x="337.8" y="41" width="0.8" height="18.33" fill="#84c2ec"/>
<rect x="339.8" y="41" width="1" height="18.33" fill="#80bee8"/>
<rect x="342.4" y="41" width="1.6" height="18.33" fill="#80bee8"/>
<rect x="344" y="41" width="1" height="18.33" fill="#83c1eb"/>
<rect x="345" y="41" width="0.8" height="18.33" fill="#7ebce6"/>
<rect x="345.8" y="41" width="0.8" height="18.33" fill="#76b4de"/>
<rect x="347.8" y="41" width="1.6" height="18.33" fill="#86c4ee"/>
<rect x="352.6" y="41" width="1" height="18.33" fill="#71afd9"/>
<rect x="353.6" y="41" width="1.6" height="18.33" fill="#70aed8"/>
<rect x="355.2" y="41" width="1.2" height="18.33" fill="#80bee8"/>
<rect x="358.1" y="41" width="1.2" height="18.33" fill="#73b1db"/>
<rect x="363.5" y="41" width="1.6" height="18.33" fill="#82c0ea"/>
<rect x="365.1" y="41" width="1.6" height="18.33" fill="#83c1eb"/>
<rect x="369.3" y="41" width="1" height="18.33" fill="#74b2dc"/>
<rect x="371.1" y="41" width="1.6" height="18.33" fill="#7dbbe5"/>
<rect x="373.7" y="41" width="0.8" height="18.33" fill="#6fadd7"/>
<rect x="376.5" y="41" width="1" height="18.33" fill="#7dbbe5"/>
<rect x="378.4" y="41" width="1.6" height="18.33" fill="#ba2014"/>
<rect x="382.2" y="41" width="1.6" height="18.33" fill="#cf3529"/>
<rect x="383.8" y="41" width="0.8" height="18.33" fill="#d0362a"/>
<rect x="384.6" y="41" width="1" height="18.33" fill="#be2418"/>
<rect x="385.6" y="41" width="0.8" height="18.33" fill="#bc2216"/>
<rect x="386.4" y="41" width="1.2" height="18.33" fill="#ca3024"/>
<rect x="388.4" y="41" width="1.2" height="18.33" fill="#bf2519"/>
<rect x="390.8" y="41" width="1.2" height="18.33" fill="#d3392d"/>
<rect x="396.6" y="41" width="0.8" height="18.33" fill="#cc3226"/>
<rect x="397.4" y="41" width="1" height="18.33" fill="#b61c10"/>
<rect x="398.4" y="41" width="1.6" height="18.33" fill="#c92f23"/>
<rect x="400" y="41" width="0.8" height="18.33" fill="#bd2317"/>
<rect x="400.8" y="41" width="1" height="18.33" fill="#cc3226"/>
<rect x="401.8" y="41" width="1.2" height="18.33" fill="#bc2216"/>
<rect x="403" y="41" width="0.8" height="18.33" fill="#bd2317"/>
<rect x="405.4" y="41" width="1" height="18.33" fill="#cb3125"/>
<rect x="408" y="41" width="0.8" height="18.33" fill="#c0261a"/>
<rect x="408.8" y="41" width="1.6" height="18.33" fill="#bd2317"/>
<rect x="410.4" y="41" width="1.2" height="18.33" fill="#b61c10"/>
<rect x="411.6" y="41" width="1.2" height="18.33" fill="#c92f23"/>
<rect x="412.8" y="41" width="1" height="18.33" fill="#c82e22"/>
<rect x="415.8" y="41" width="1" height="18.33" fill="#ca3024"/>
<rect x="416.8" y="41" width="0.8" height="18.33" fill="#c72d21"/>
<rect x="418.8" y="41" width="1.6" height="18.33" fill="#c0261a"/>
<rect x="423.2" y="41" width="0.8" height="18.33" fill="#c0261a"/>
<rect x="424" y="41" width="1.2" height="18.33" fill="#cf3529"/>
<rect x="425.2" y="41" width="0.8" height="18.33" fill="#cc3226"/>
<rect x="427.6" y="41" width="1" height="18.33" fill="#cd3327"/>
<rect x="428.6" y="41" width="1" height="18.33" fill="#c72d21"/>
<rect x="430.6" y="41" width="1.6" height="18.33" fill="#a1b9c7"/>
<rect x="432.2" y="41" width="1" height="18.33" fill="#abc3d1"/>
<rect x="433.2" y="41" width="1.2" height="18.33" fill="#aac2d0"/>
<rect x="435.2" y="41" width="0.8" height="18.33" fill="#a3bbc9"/>
<rect x="436" y="41" width="0.8" height="18.33" fill="#b3cbd9"/>
<rect x="440" y="41" width="1" height="18.33" fill="#b6cedc"/>
<rect x="444.2" y="41" width="1.2" height="18.33" fill="#abc3d1"/>
<rect x="447" y="41" width="0.8" height="18.33" fill="#b4ccda"/>
<rect x="447.8" y="41" width="0.6" height="18.33" fill="#a8c0ce"/>
<rect x="244" y="59.33" width="113.4" height="18.63" fill="#88c2e8"/>
<rect x="357.1" y="59.33" width="21.6" height="18.63" fill="#88c2e8"/>
<rect x="378.4" y="59.33" width="52.5" height="18.63" fill="#cdd6d2"/>
<rect x="430.6" y="59.33" width="18.1" height="18.63" fill="#c8281c"/>
<rect x="246" y="59.33" width="1" height="18.33" fill="#84bee4"/>
<rect x="249.4" y="59.33" width="1.2" height="18.33" fill="#91cbf1"/>
<rect x="250.6" y="59.33" width="0.8" height="18.33" fill="#84bee4"/>
<rect x="251.4" y="59.33" width="1.2" height="18.33" fill="#7eb8de"/>
<rect x="253.8" y="59.33" width="1.6" height="18.33" fill="#90caf0"/>
<rect x="255.4" y="59.33" width="1.6" height="18.33" fill="#8ec8ee"/>
<rect x="257" y="59.33" width="1.6" height="18.33" fill="#91cbf1"/>
<rect x="258.6" y="59.33" width="1.6" height="18.33" fill="#81bbe1"/>
<rect x="260.2" y="59.33" width="1.2" height="18.33" fill="#83bde3"/>
<rect x="261.4" y="59.33" width="1.6" height="18.33" fill="#8fc9ef"/>
<rect x="263" y="59.33" width="1" height="18.33" fill="#84bee4"/>
<rect x="265.2" y="59.33" width="0.8" height="18.33" fill="#84bee4"/>
<rect x="266" y="59.33" width="1.6" height="18.33" fill="#7fb9df"/>
<rect x="267.6" y="59.33" width="1.2" height="18.33" fill="#7eb8de"/>
<rect x="268.8" y="59.33" width="1.2" height="18.33" fill="#7fb9df"/>
<rect x="270" y="59.33" width="1.2" height="18.33" fill="#8ec8ee"/>
<rect x="274.8" y="59.33" width="0.8" height="18.33" fill="#91cbf1"/>
<rect x="275.6" y="59.33" width="1" height="18.33" fill="#7bb5db"/>
<rect x="276.6" y="59.33" width="1.2" height="18.33" fill="#95cff5"/>
<rect x="277.8" y="59.33" width="1.6" height="18.33" fill="#90caf0"/>
<rect x="279.4" y="59.33" width="1.2" height="18.33" fill="#8bc5eb"/>
<rect x="282.2" y="59.33" width="1.2" height="18.33" fill="#94cef4"/>
<rect x="283.4" y="59.33" width="1.2" height="18.33" fill="#80bae0"/>
<rect x="285.4" y="59.33" width="1.6" height="18.33" fill="#94cef4"/>
<rect x="288.6" y="59.33" width="1.2" height="18.33" fill="#8ec8ee"/>
<rect x="289.8" y="59.33" width="1.2" height="18.33" fill="#80bae0"/>
<rect x="293" y="59.33" width="1.2" height="18.33" fill="#7eb8de"/>
<rect x="294.2" y="59.33" width="1.2" height="18.33" fill="#7fb9df"/>
<rect x="296.2" y="59.33" width="1" height="18.33" fill="#7eb8de"/>
<rect x="297.2" y="59.33" width="1.2" height="18.33" fill="#81bbe1"/>
<rect x="298.4" y="59.33" width="1" height="18.33" fill="#90caf0"/>
<rect x="299.4" y="59.33" width="0.8" height="18.33" fill="#94cef4"/>
<rect x="300.2" y="59.33" width="1.2" height="18.33" fill="#83bde3"/>
<rect x="303.2" y="59.33" width="1" height="18.33" fill="#7bb5db"/>
<rect x="304.2" y="59.33" width="1.6" height="18.33" fill="#8fc9ef"/>
<rect x="306.8" y="59.33" width="1" height="18.33" fill="#90caf0"/>
<rect x="307.8" y="59.33" width="1.6" height="18.33" fill="#90caf0"/>
<rect x="309.4" y="59.33" width="1.6" height="18.33" fill="#90caf0"/>
<rect x="311" y="59.33" width="1" height="18.33" fill="#82bce2"/>
<rect x="312" y="59.33" width="1.6" height="18.33" fill="#84bee4"/>
<rect x="315.2" y="59.33" width="0.8" height="18.33" fill="#8bc5eb"/>
<rect x="319.2" y="59.33" width="1" height="18.33" fill="#82bce2"/>
<rect x="321.4" y="59.33" width="1" height="18.33" fill="#8bc5eb"/>
<rect x="323.2" y="59.33" width="0.8" height="18.33" fill="#7cb6dc"/>
<rect x="324" y="59.33" width="1.2" height="18.33" fill="#82bce2"/>
<rect x="325.2" y="59.33" width="1" height="18.33" fill="#8fc9ef"/>
<rect x="326.2" y="59.33" width="1.6" height="18.33" fill="#7db7dd"/>
<rect x="327.8" y="59.33" width="1.2" height="18.33" fill="#91cbf1"/>
<rect x="330.6" y="59.33" width="1.6" height="18.33" fill="#84bee4"/>
<rect x="332.2" y="59.33" width="0.8" height="18.33" fill="#82bce2"/>
<rect x="333" y="59.33" width="1.2" height="18.33" fill="#91cbf1"/>
<rect x="334.2" y="59.33" width="1.2" height="18.33" fill="#7ab4da"/>
<rect x="335.4" y="59.33" width="1.6" height="18.33" fill="#82bce2"/>
<rect x="337.8" y="59.33" width="1" height="18.33" fill="#96d0f6"/>
<rect x="338.8" y="59.33" width="1.6" height="18.33" fill="#81bbe1"/>
<rect x="345.6" y="59.33" width="0.8" height="18.33" fill="#8fc9ef"/>
<rect x="348" y="59.33" width="1.6" height="18.33" fill="#8cc6ec"/>
<rect x="349.6" y="59.33" width="1.2" height="18.33" fill="#84bee4"/>
<rect x="351.6" y="59.33" width="1.6" height="18.33" fill="#7bb5db"/>
<rect x="353.2" y="59.33" width="0.8" height="18.33" fill="#8dc7ed"/>
<rect x="354" y="59.33" width="0.8" height="18.33" fill="#90caf0"/>
<rect x="354.8" y="59.33" width="0.8" height="18.33" fill="#80bae0"/>
<rect x="355.6" y="59.33" width="1" height="18.33" fill="#91cbf1"/>
<rect x="357.1" y="59.33" width="1" height="18.33" fill="#8bc5eb"/>
<rect x="358.1" y="59.33" width="1.6" height="18.33" fill="#8bc5eb"/>
<rect x="360.7" y="59.33" width="0.8" height="18.33" fill="#90caf0"/>
<rect x="362.5" y="59.33" width="1.2" height="18.33" fill="#7fb9df"/>
<rect x="364.7" y="59.33" width="1" height="18.33" fill="#76b0d6"/>
<rect x="365.7" y="59.33" width="0.8" height="18.33" fill="#7db7dd"/>
<rect x="367.3" y="59.33" width="1.6" height="18.33" fill="#93cdf3"/>
<rect x="370.5" y="59.33" width="1" height="18.33" fill="#90caf0"/>
<rect x="371.5" y="59.33" width="0.8" height="18.33" fill="#84bee4"/>
<rect x="372.3" y="59.33" width="1.2" height="18.33" fill="#81bbe1"/>
<rect x="375.1" y="59.33" width="1.2" height="18.33" fill="#80bae0"/>
<rect x="376.3" y="59.33" width="1.2" height="18.33" fill="#92ccf2"/>
<rect x="378.4" y="59.33" width="0.8" height="18.33" fill="#d3dcd8"/>
<rect x="383" y="59.33" width="1.2" height="18.33" fill="#d5deda"/>
<rect x="384.2" y="59.33" width="1" height="18.33" fill="#c9d2ce"/>
<rect x="385.2" y="59.33" width="0.8" height="18.33" fill="#d0d9d5"/>
<rect x="386" y="59.33" width="1.2" height="18.33" fill="#d3dcd8"/>
<rect x="387.2" y="59.33" width="1.6" height="18.33" fill="#d5deda"/>
<rect x="388.8" y="59.33" width="0.8" height="18.33" fill="#d4ddd9"/>
<rect x="391.2" y="59.33" width="1.2" height="18.33" fill="#d4ddd9"/>
<rect x="392.4" y="59.33" width="1.6" height="18.33" fill="#bdc6c2"/>
<rect x="394" y="59.33" width="1.6" height="18.33" fill="#c9d2ce"/>
<rect x="397.2" y="59.33" width="0.8" height="18.33" fill="#dbe4e0"/>
<rect x="399.2" y="59.33" width="1.6" height="18.33" fill="#d4ddd9"/>
<rect x="400.8" y="59.33" width="1" height="18.33" fill="#d3dcd8"/>
<rect x="402.6" y="59.33" width="0.8" height="18.33" fill="#c8d1cd"/>
<rect x="404.4" y="59.33" width="1.6" height="18.33" fill="#c6cfcb"/>
<rect x="406" y="59.33" width="0.8" height="18.33" fill="#c3ccc8"/>
<rect x="406.8" y="59.33" width="1.6" height="18.33" fill="#c4cdc9"/>
<rect x="408.4" y="59.33" width="1.2" height="18.33" fill="#c4cdc9"/>
<rect x="409.6" y="59.33" width="1" height="18.33" fill="#d0d9d5"/>
<rect x="410.6" y="59.33" width="1.6" height="18.33" fill="#d4ddd9"/>
<rect x="412.2" y="59.33" width="1.2" height="18.33" fill="#d5deda"/>
<rect x="413.4" y="59.33" width="1.2" height="18.33" fill="#bec7c3"/>
<rect x="414.6" y="59.33" width="1.6" height="18.33" fill="#d0d9d5"/>
<rect x="416.2" y="59.33" width="0.8" height="18.33" fill="#c5ceca"/>
<rect x="417" y="59.33" width="1" height="18.33" fill="#d2dbd7"/>
<rect x="418" y="59.33" width="1.2" height="18.33" fill="#d1dad6"/>
<rect x="419.2" y="59.33" width="1" height="18.33" fill="#d3dcd8"/>
<rect x="420.2" y="59.33" width="1" height="18.33" fill="#c3ccc8"/>
<rect x="421.2" y="59.33" width="1" height="18.33" fill="#dae3df"/>
<rect x="423" y="59.33" width="1.6" height="18.33" fill="#c8d1cd"/>
<rect x="424.6" y="59.33" width="1.2" height="18.33" fill="#d3dcd8"/>
<rect x="425.8" y="59.33" width="1" height="18.33" fill="#c4cdc9"/>
<rect x="426.8" y="59.33" width="1" height="18.33" fill="#c8d1cd"/>
<rect x="427.8" y="59.33" width="1.2" height="18.33" fill="#c5ceca"/>
<rect x="429" y="59.33" width="1" height="18.33" fill="#d4ddd9"/>
<rect x="430" y="59.33" width="0.6" height="18.33" fill="#c7d0cc"/>
<rect x="430.6" y="59.33" width="1" height="18.33" fill="#c02014"/>
<rect x="431.6" y="59.33" width="1" height="18.33" fill="#cd2d21"/>
<rect x="433.8" y="59.33" width="0.8" height="18.33" fill="#c12115"/>
<rect x="434.6" y="59.33" width="0.8" height="18.33" fill="#bb1b0f"/>
<rect x="435.4" y="59.33" width="1.2" height="18.33" fill="#d23226"/>
<rect x="436.6" y="59.33" width="0.8" height="18.33" fill="#c12115"/>
<rect x="437.4" y="59.33" width="1.6" height="18.33" fill="#bc1c10"/>
<rect x="439" y="59.33" width="1" height="18.33" fill="#c42418"/>
<rect x="442.8" y="59.33" width="1.2" height="18.33" fill="#cb2b1f"/>
<rect x="244" y="77.66" width="113.4" height="18.63" fill="#c01f18"/>
<rect x="357.1" y="77.66" width="21.6" height="18.63" fill="#b8cfdc"/>
<rect x="378.4" y="77.66" width="52.5" height="18.63" fill="#6aaadc"/>
<rect x="430.6" y="77.66" width="18.1" height="18.63" fill="#6aaadc"/>
<rect x="244.8" y="77.66" width="1.6" height="18.33" fill="#b7160f"/>
<rect x="246.4" y="77.66" width="0.8" height="18.33" fill="#c4231c"/>
<rect x="247.2" y="77.66" width="1.6" height="18.33" fill="#ba1912"/>
<rect x="251.6" y="77.66" width="0.8" height="18.33" fill="#ba1912"/>
<rect x="252.4" y="77.66" width="0.8" height="18.33" fill="#ba1912"/>
<rect x="254" y="77.66" width="1" height="18.33" fill="#c92821"/>
<rect x="255" y="77.66" width="1.6" height="18.33" fill="#c6251e"/>
<rect x="256.6" y="77.66" width="1.6" height="18.33" fill="#c92821"/>
<rect x="261.6" y="77.66" width="1.6" height="18.33" fill="#b5140d"/>
<rect x="263.2" y="77.66" width="1.2" height="18.33" fill="#c4231c"/>
<rect x="266" y="77.66" width="1.6" height="18.33" fill="#c3221b"/>
<rect x="267.6" y="77.66" width="0.8" height="18.33" fill="#b81710"/>
<rect x="269.6" y="77.66" width="1" height="18.33" fill="#c3221b"/>
<rect x="270.6" y="77.66" width="1.2" height="18.33" fill="#ba1912"/>
<rect x="271.8" y="77.66" width="1" height="18.33" fill="#c7261f"/>
<rect x="274" y="77.66" width="1.2" height="18.33" fill="#c4231c"/>
<rect x="275.2" y="77.66" width="0.8" height="18.33" fill="#c3221b"/>
<rect x="276" y="77.66" width="1.6" height="18.33" fill="#c92821"/>
<rect x="277.6" y="77.66" width="1.2" height="18.33" fill="#cf2e27"/>
<rect x="279.6" y="77.66" width="1.2" height="18.33" fill="#cc2b24"/>
<rect x="280.8" y="77.66" width="1.2" height="18.33" fill="#b11009"/>
<rect x="282" y="77.66" width="1" height="18.33" fill="#c4231c"/>
<rect x="284" y="77.66" width="1.2" height="18.33" fill="#c3221b"/>
<rect x="285.2" y="77.66" width="0.8" height="18.33" fill="#c3221b"/>
<rect x="286" y="77.66" width="1.2" height="18.33" fill="#c5241d"/>
<rect x="287.2" y="77.66" width="1.2" height="18.33" fill="#bb1a13"/>
<rect x="288.4" y="77.66" width="1" height="18.33" fill="#ca2922"/>
<rect x="290.4" y="77.66" width="1" height="18.33" fill="#b7160f"/>
<rect x="291.4" y="77.66" width="1.2" height="18.33" fill="#c3221b"/>
<rect x="292.6" y="77.66" width="1.2" height="18.33" fill="#c82720"/>
<rect x="294.6" y="77.66" width="0.8" height="18.33" fill="#c3221b"/>
<rect x="297" y="77.66" width="1.2" height="18.33" fill="#c6251e"/>
<rect x="298.2" y="77.66" width="1" height="18.33" fill="#bc1b14"/>
<rect x="300.2" y="77.66" width="1.6" height="18.33" fill="#c3221b"/>
<rect x="301.8" y="77.66" width="1.2" height="18.33" fill="#bc1b14"/>
<rect x="303" y="77.66" width="1.2" height="18.33" fill="#c6251e"/>
<rect x="304.2" y="77.66" width="1.6" height="18.33" fill="#c3221b"/>
<rect x="305.8" y="77.66" width="1.2" height="18.33" fill="#c7261f"/>
<rect x="307" y="77.66" width="1.6" height="18.33" fill="#c3221b"/>
<rect x="311" y="77.66" width="1" height="18.33" fill="#ba1912"/>
<rect x="312" y="77.66" width="1.6" height="18.33" fill="#b4130c"/>
<rect x="315.2" y="77.66" width="0.8" height="18.33" fill="#b81710"/>
<rect x="317" y="77.66" width="1.2" height="18.33" fill="#bb1a13"/>
<rect x="319.4" y="77.66" width="1.6" height="18.33" fill="#c3221b"/>
<rect x="321" y="77.66" width="0.8" height="18.33" fill="#c6251e"/>
<rect x="322.6" y="77.66" width="1.2" height="18.33" fill="#c6251e"/>
<rect x="325.4" y="77.66" width="1" height="18.33" fill="#b5140d"/>
<rect x="328.6" y="77.66" width="1.2" height="18.33" fill="#c7261f"/>
<rect x="329.8" y="77.66" width="1.2" height="18.33" fill="#bb1a13"/>
<rect x="331" y="77.66" width="1.6" height="18.33" fill="#bb1a13"/>
<rect x="332.6" y="77.66" width="1" height="18.33" fill="#bc1b14"/>
<rect x="333.6" y="77.66" width="0.8" height="18.33" fill="#bc1b14"/>
<rect x="335.2" y="77.66" width="1.6" height="18.33" fill="#c6251e"/>
<rect x="337.6" y="77.66" width="1.6" height="18.33" fill="#cc2b24"/>
<rect x="339.2" y="77.66" width="1.6" height="18.33" fill="#bc1b14"/>
<rect x="340.8" y="77.66" width="1.2" height="18.33" fill="#c6251e"/>
<rect x="343" y="77.66" width="0.8" height="18.33" fill="#cb2a23"/>
<rect x="343.8" y="77.66" width="0.8" height="18.33" fill="#c5241d"/>
<rect x="344.6" y="77.66" width="0.8" height="18.33" fill="#ad0c05"/>
<rect x="346.2" y="77.66" width="1.2" height="18.33" fill="#bb1a13"/>
<rect x="348.2" y="77.66" width="1.6" height="18.33" fill="#c82720"/>
<rect x="349.8" y="77.66" width="1" height="18.33" fill="#b81710"/>
<rect x="352" y="77.66" width="1" height="18.33" fill="#c4231c"/>
<rect x="353" y="77.66" width="1.2" height="18.33" fill="#b81710"/>
<rect x="354.2" y="77.66" width="0.8" height="18.33" fill="#cb2a23"/>
<rect x="357.1" y="77.66" width="1.2" height="18.33" fill="#b3cad7"/>
<rect x="358.3" y="77.66" width="1.6" height="18.33" fill="#b4cbd8"/>
<rect x="359.9" y="77.66" width="0.8" height="18.33" fill="#b4cbd8"/>
<rect x="360.7" y="77.66" width="0.8" height="18.33" fill="#adc4d1"/>
<rect x="361.5" y="77.66" width="1" height="18.33" fill="#c1d8e5"/>
<rect x="362.5" y="77.66" width="1.6" height="18.33" fill="#c1d8e5"/>
<rect x="364.1" y="77.66" width="1" height="18.33" fill="#c4dbe8"/>
<rect x="365.1" y="77.66" width="1" height="18.33" fill="#c1d8e5"/>
<rect x="366.1" y="77.66" width="0.8" height="18.33" fill="#b3cad7"/>
<rect x="366.9" y="77.66" width="0.8" height="18.33" fill="#adc4d1"/>
<rect x="370.5" y="77.66" width="1.2" height="18.33" fill="#b3cad7"/>
<rect x="371.7" y="77.66" width="1.6" height="18.33" fill="#c5dce9"/>
<rect x="373.3" y="77.66" width="1" height="18.33" fill="#c0d7e4"/>
<rect x="375.5" y="77.66" width="1" height="18.33" fill="#abc2cf"/>
<rect x="376.5" y="77.66" width="1.2" height="18.33" fill="#bfd6e3"/>
<rect x="379.4" y="77.66" width="1.2" height="18.33" fill="#5f9fd1"/>
<rect x="386.6" y="77.66" width="1.2" height="18.33" fill="#76b6e8"/>
<rect x="387.8" y="77.66" width="1.2" height="18.33" fill="#60a0d2"/>
<rect x="389" y="77.66" width="1" height="18.33" fill="#72b2e4"/>
<rect x="390" y="77.66" width="0.8" height="18.33" fill="#60a0d2"/>
<rect x="390.8" y="77.66" width="1.2" height="18.33" fill="#6fafe1"/>
<rect x="393.2" y="77.66" width="1" height="18.33" fill="#6daddf"/>
<rect x="394.2" y="77.66" width="1.2" height="18.33" fill="#5a9acc"/>
<rect x="395.4" y="77.66" width="1.2" height="18.33" fill="#66a6d8"/>
<rect x="396.6" y="77.66" width="1" height="18.33" fill="#6fafe1"/>
<rect x="399.2" y="77.66" width="1" height="18.33" fill="#75b5e7"/>
<rect x="401.4" y="77.66" width="0.8" height="18.33" fill="#65a5d7"/>
<rect x="402.2" y="77.66" width="1.6" height="18.33" fill="#5999cb"/>
<rect x="403.8" y="77.66" width="1" height="18.33" fill="#5f9fd1"/>
<rect x="404.8" y="77.66" width="1.6" height="18.33" fill="#7ebef0"/>
<rect x="406.4" y="77.66" width="1.6" height="18.33" fill="#60a0d2"/>
<rect x="408" y="77.66" width="1.6" height="18.33" fill="#6daddf"/>
<rect x="409.6" y="77.66" width="1.2" height="18.33" fill="#6fafe1"/>
<rect x="410.8" y="77.66" width="1" height="18.33" fill="#63a3d5"/>
<rect x="413" y="77.66" width="1" height="18.33" fill="#73b3e5"/>
<rect x="415.2" y="77.66" width="1.6" height="18.33" fill="#61a1d3"/>
<rect x="416.8" y="77.66" width="1.2" height="18.33" fill="#6daddf"/>
<rect x="418.8" y="77.66" width="1.2" height="18.33" fill="#6daddf"/>
<rect x="420" y="77.66" width="1" height="18.33" fill="#5d9dcf"/>
<rect x="421.8" y="77.66" width="0.8" height="18.33" fill="#71b1e3"/>
<rect x="423.8" y="77.66" width="0.8" height="18.33" fill="#71b1e3"/>
<rect x="424.6" y="77.66" width="0.8" height="18.33" fill="#72b2e4"/>
<rect x="425.4" y="77.66" width="1.6" height="18.33" fill="#60a0d2"/>
<rect x="428.2" y="77.66" width="0.8" height="18.33" fill="#66a6d8"/>
<rect x="429.8" y="77.66" width="0.8" height="18.33" fill="#6fafe1"/>
<rect x="430.6" y="77.66" width="1" height="18.33" fill="#60a0d2"/>
<rect x="433.2" y="77.66" width="1.2" height="18.33" fill="#65a5d7"/>
<rect x="435.4" y="77.66" width="1" height="18.33" fill="#6fafe1"/>
<rect x="436.4" y="77.66" width="1.2" height="18.33" fill="#64a4d6"/>
<rect x="437.6" y="77.66" width="1.2" height="18.33" fill="#77b7e9"/>
<rect x="438.8" y="77.66" width="1" height="18.33" fill="#66a6d8"/>
<rect x="439.8" y="77.66" width="1" height="18.33" fill="#64a4d6"/>
<rect x="446.2" y="77.66" width="1.6" height="18.33" fill="#6eaee0"/>
<rect x="447.8" y="77.66" width="0.6" height="18.33" fill="#73b3e5"/>
<rect x="244" y="95.99" width="113.4" height="18.63" fill="#94c7ea"/>
<rect x="357.1" y="95.99" width="21.6" height="18.63" fill="#d0321e"/>
<rect x="378.4" y="95.99" width="52.5" height="18.63" fill="#7ab6e2"/>
<rect x="430.6" y="95.99" width="18.1" height="18.63" fill="#7ab6e2"/>
<rect x="244" y="95.99" width="1.2" height="18.33" fill="#9acdf0"/>
<rect x="246" y="95.99" width="1.2" height="18.33" fill="#90c3e6"/>
<rect x="247.2" y="95.99" width="1.2" height="18.33" fill="#8cbfe2"/>
<rect x="248.4" y="95.99" width="1" height="18.33" fill="#9bcef1"/>
<rect x="249.4" y="95.99" width="1.2" height="18.33" fill="#98cbee"/>
<rect x="250.6" y="95.99" width="1" height="18.33" fill="#97caed"/>
<rect x="251.6" y="95.99" width="1" height="18.33" fill="#a1d4f7"/>
<rect x="253.4" y="95.99" width="1.6" height="18.33" fill="#9acdf0"/>
<rect x="255" y="95.99" width="1" height="18.33" fill="#9ccff2"/>
<rect x="256" y="95.99" width="1.2" height="18.33" fill="#a1d4f7"/>
<rect x="258.8" y="95.99" width="1" height="18.33" fill="#8dc0e3"/>
<rect x="259.8" y="95.99" width="1" height="18.33" fill="#a4d7fa"/>
<rect x="260.8" y="95.99" width="1.2" height="18.33" fill="#9ed1f4"/>
<rect x="262" y="95.99" width="1.2" height="18.33" fill="#8abde0"/>
<rect x="263.2" y="95.99" width="1.2" height="18.33" fill="#90c3e6"/>
<rect x="264.4" y="95.99" width="0.8" height="18.33" fill="#9ccff2"/>
<rect x="266.4" y="95.99" width="1.6" height="18.33" fill="#8dc0e3"/>
<rect x="269.6" y="95.99" width="1.6" height="18.33" fill="#8fc2e5"/>
<rect x="274" y="95.99" width="1.6" height="18.33" fill="#85b8db"/>
<rect x="275.6" y="95.99" width="1" height="18.33" fill="#97caed"/>
<rect x="279" y="95.99" width="0.8" height="18.33" fill="#a2d5f8"/>
<rect x="283" y="95.99" width="1" height="18.33" fill="#a0d3f6"/>
<rect x="284" y="95.99" width="1" height="18.33" fill="#8dc0e3"/>
<rect x="285" y="95.99" width="0.8" height="18.33" fill="#9acdf0"/>
<rect x="285.8" y="95.99" width="0.8" height="18.33" fill="#97caed"/>
<rect x="286.6" y="95.99" width="1" height="18.33" fill="#9dd0f3"/>
<rect x="287.6" y="95.99" width="1.2" height="18.33" fill="#7eb1d4"/>
<rect x="288.8" y="95.99" width="1.2" height="18.33" fill="#8dc0e3"/>
<rect x="290" y="95.99" width="1.2" height="18.33" fill="#99ccef"/>
<rect x="292.2" y="95.99" width="1.2" height="18.33" fill="#a0d3f6"/>
<rect x="295" y="95.99" width="0.8" height="18.33" fill="#8abde0"/>
<rect x="297" y="95.99" width="0.8" height="18.33" fill="#98cbee"/>
<rect x="299" y="95.99" width="1.2" height="18.33" fill="#8cbfe2"/>
<rect x="300.2" y="95.99" width="1" height="18.33" fill="#84b7da"/>
<rect x="301.2" y="95.99" width="1.6" height="18.33" fill="#9dd0f3"/>
<rect x="304" y="95.99" width="1.2" height="18.33" fill="#97caed"/>
<rect x="306.8" y="95.99" width="1.2" height="18.33" fill="#89bcdf"/>
<rect x="308" y="95.99" width="0.8" height="18.33" fill="#9acdf0"/>
<rect x="308.8" y="95.99" width="1" height="18.33" fill="#89bcdf"/>
<rect x="309.8" y="95.99" width="1.2" height="18.33" fill="#8dc0e3"/>
<rect x="312.2" y="95.99" width="1" height="18.33" fill="#9dd0f3"/>
<rect x="313.2" y="95.99" width="0.8" height="18.33" fill="#97caed"/>
<rect x="314" y="95.99" width="1.2" height="18.33" fill="#89bcdf"/>
<rect x="316.8" y="95.99" width="1" height="18.33" fill="#8cbfe2"/>
<rect x="317.8" y="95.99" width="1" height="18.33" fill="#8abde0"/>
<rect x="318.8" y="95.99" width="0.8" height="18.33" fill="#98cbee"/>
<rect x="319.6" y="95.99" width="0.8" height="18.33" fill="#a1d4f7"/>
<rect x="320.4" y="95.99" width="1.6" height="18.33" fill="#8fc2e5"/>
<rect x="322.8" y="95.99" width="1.2" height="18.33" fill="#8bbee1"/>
<rect x="324" y="95.99" width="1.2" height="18.33" fill="#8bbee1"/>
<rect x="326.8" y="95.99" width="1.2" height="18.33" fill="#a5d8fb"/>
<rect x="328" y="95.99" width="1" height="18.33" fill="#99ccef"/>
<rect x="330.2" y="95.99" width="0.8" height="18.33" fill="#8abde0"/>
<rect x="331" y="95.99" width="0.8" height="18.33" fill="#8cbfe2"/>
<rect x="331.8" y="95.99" width="1.2" height="18.33" fill="#98cbee"/>
<rect x="333" y="95.99" width="1.2" height="18.33" fill="#8ec1e4"/>
<rect x="334.2" y="95.99" width="0.8" height="18.33" fill="#8dc0e3"/>
<rect x="336" y="95.99" width="0.8" height="18.33" fill="#9bcef1"/>
<rect x="337.8" y="95.99" width="1.6" height="18.33" fill="#99ccef"/>
<rect x="339.4" y="95.99" width="1.2" height="18.33" fill="#87badd"/>
<rect x="340.6" y="95.99" width="1.6" height="18.33" fill="#8fc2e5"/>
<rect x="343" y="95.99" width="1.2" height="18.33" fill="#98cbee"/>
<rect x="346.6" y="95.99" width="1.6" height="18.33" fill="#98cbee"/>
<rect x="348.2" y="95.99" width="1" height="18.33" fill="#98cbee"/>
<rect x="349.2" y="95.99" width="0.8" height="18.33" fill="#9bcef1"/>
<rect x="350" y="95.99" width="0.8" height="18.33" fill="#8ec1e4"/>
<rect x="351.8" y="95.99" width="1.6" height="18.33" fill="#8ec1e4"/>
<rect x="355" y="95.99" width="1.2" height="18.33" fill="#8fc2e5"/>
<rect x="357.1" y="95.99" width="1" height="18.33" fill="#d43622"/>
<rect x="359.7" y="95.99" width="0.8" height="18.33" fill="#cb2d19"/>
<rect x="360.5" y="95.99" width="1.6" height="18.33" fill="#c72915"/>
<rect x="362.1" y="95.99" width="1.2" height="18.33" fill="#d93b27"/>
<rect x="364.9" y="95.99" width="0.8" height="18.33" fill="#c82a16"/>
<rect x="365.7" y="95.99" width="0.8" height="18.33" fill="#c32511"/>
<rect x="367.5" y="95.99" width="0.8" height="18.33" fill="#c82a16"/>
<rect x="369.9" y="95.99" width="1.6" height="18.33" fill="#d83a26"/>
<rect x="371.5" y="95.99" width="0.8" height="18.33" fill="#bb1d09"/>
<rect x="373.3" y="95.99" width="0.8" height="18.33" fill="#bc1e0a"/>
<rect x="375.7" y="95.99" width="0.8" height="18.33" fill="#d53723"/>
<rect x="377.5" y="95.99" width="0.9" height="18.33" fill="#cc2e1a"/>
<rect x="378.4" y="95.99" width="0.8" height="18.33" fill="#80bce8"/>
<rect x="379.2" y="95.99" width="1.6" height="18.33" fill="#72aeda"/>
<rect x="381.6" y="95.99" width="1.2" height="18.33" fill="#8ac6f2"/>
<rect x="382.8" y="95.99" width="1" height="18.33" fill="#75b1dd"/>
<rect x="383.8" y="95.99" width="1.6" height="18.33" fill="#75b1dd"/>
<rect x="386.2" y="95.99" width="0.8" height="18.33" fill="#7ebae6"/>
<rect x="387" y="95.99" width="1.6" height="18.33" fill="#6ba7d3"/>
<rect x="388.6" y="95.99" width="0.8" height="18.33" fill="#7ebae6"/>
<rect x="391.4" y="95.99" width="1.2" height="18.33" fill="#73afdb"/>
<rect x="392.6" y="95.99" width="1" height="18.33" fill="#80bce8"/>
<rect x="393.6" y="95.99" width="1.6" height="18.33" fill="#70acd8"/>
<rect x="397.2" y="95.99" width="0.8" height="18.33" fill="#72aeda"/>
<rect x="398" y="95.99" width="1.6" height="18.33" fill="#71add9"/>
<rect x="399.6" y="95.99" width="0.8" height="18.33" fill="#75b1dd"/>
<rect x="400.4" y="95.99" width="1.2" height="18.33" fill="#7ebae6"/>
<rect x="402.4" y="95.99" width="1" height="18.33" fill="#72aeda"/>
<rect x="405" y="95.99" width="0.8" height="18.33" fill="#7db9e5"/>
<rect x="405.8" y="95.99" width="1" height="18.33" fill="#7fbbe7"/>
<rect x="406.8" y="95.99" width="1.6" height="18.33" fill="#76b2de"/>
<rect x="408.4" y="95.99" width="0.8" height="18.33" fill="#71add9"/>
<rect x="409.2" y="95.99" width="0.8" height="18.33" fill="#75b1dd"/>
<rect x="410" y="95.99" width="1.2" height="18.33" fill="#7db9e5"/>
<rect x="414" y="95.99" width="1.6" height="18.33" fill="#6eaad6"/>
<rect x="415.6" y="95.99" width="1.6" height="18.33" fill="#70acd8"/>
<rect x="417.2" y="95.99" width="0.8" height="18.33" fill="#80bce8"/>
<rect x="418" y="95.99" width="0.8" height="18.33" fill="#80bce8"/>
<rect x="419.6" y="95.99" width="0.8" height="18.33" fill="#73afdb"/>
<rect x="422.2" y="95.99" width="1" height="18.33" fill="#7db9e5"/>
<rect x="424.8" y="95.99" width="1.6" height="18.33" fill="#84c0ec"/>
<rect x="426.4" y="95.99" width="1.6" height="18.33" fill="#7db9e5"/>
<rect x="428" y="95.99" width="0.8" height="18.33" fill="#7db9e5"/>
<rect x="429.6" y="95.99" width="1" height="18.33" fill="#7db9e5"/>
<rect x="431.6" y="95.99" width="1.2" height="18.33" fill="#80bce8"/>
<rect x="432.8" y="95.99" width="1" height="18.33" fill="#6ba7d3"/>
<rect x="434.8" y="95.99" width="1" height="18.33" fill="#72aeda"/>
<rect x="435.8" y="95.99" width="1" height="18.33" fill="#6ba7d3"/>
<rect x="439.4" y="95.99" width="0.8" height="18.33" fill="#81bde9"/>
<rect x="440.2" y="95.99" width="1.2" height="18.33" fill="#84c0ec"/>
<rect x="441.4" y="95.99" width="1" height="18.33" fill="#73afdb"/>
<rect x="442.4" y="95.99" width="1" height="18.33" fill="#87c3ef"/>
<rect x="443.4" y="95.99" width="1" height="18.33" fill="#83bfeb"/>
<rect x="444.4" y="95.99" width="1.2" height="18.33" fill="#74b0dc"/>
<rect x="445.6" y="95.99" width="1" height="18.33" fill="#76b2de"/>
<rect x="446.6" y="95.99" width="1.2" height="18.33" fill="#6fabd7"/>
<rect x="447.8" y="95.99" width="0.6" height="18.33" fill="#6eaad6"/>
<defs><linearGradient id="cbB" x1="0" x2="1" y1="0" y2="0"><stop offset="0" stop-color="#3b6cb3"/><stop offset=".3" stop-color="#7ab6e2"/><stop offset=".55" stop-color="#eef2ee"/><stop offset=".72" stop-color="#f4c25a"/><stop offset=".86" stop-color="#e0481e"/><stop offset="1" stop-color="#c0161a"/></linearGradient></defs>
<rect x="404" y="118" width="35.2" height="4.6" fill="url(#cbB)"/>
<text x="403.1" y="129.1" font-size="6.5" fill="#333" text-anchor="middle" stroke="#333" stroke-width="0.15">−1.5</text>
<text x="438.2" y="129.1" font-size="6.5" fill="#333" text-anchor="middle" stroke="#333" stroke-width="0.15">1.5</text>
<text x="280.4" y="123.8" font-size="7" fill="#333" textLength="90" lengthAdjust="spacingAndGlyphs" stroke="#333" stroke-width="0.15">Mean Accessibility (Z scored)</text>
<text x="8" y="170" font-size="12.5" fill="#111" font-weight="bold" stroke="#111" stroke-width=".6">C</text>
<rect x="7.2" y="210.2" width="43.6" height="17.2" rx="5" fill="#fff" stroke="#ead48a" stroke-width="1.15"/>
<text x="29" y="220.9" font-size="7" fill="#333" text-anchor="middle" stroke="#333" stroke-width="0.15">iALL 3</text>
<rect x="7.2" y="229.2" width="43.6" height="17.2" rx="5" fill="#fff" stroke="#62b8de" stroke-width="1.15"/>
<text x="29" y="239.9" font-size="7" fill="#333" text-anchor="middle" stroke="#333" stroke-width="0.15">iALL 4</text>
<rect x="7.2" y="248.2" width="43.6" height="17.2" rx="5" fill="#fff" stroke="#3a7d64" stroke-width="1.15"/>
<text x="29" y="258.9" font-size="7" fill="#333" text-anchor="middle" stroke="#333" stroke-width="0.15">iALL 5</text>
<rect x="7.2" y="267.2" width="43.6" height="17.2" rx="5" fill="#fff" stroke="#c8566f" stroke-width="1.15"/>
<text x="29" y="277.9" font-size="7" fill="#333" text-anchor="middle" stroke="#333" stroke-width="0.15">chALL 1</text>
<path d="M61 226.5C64.17 226.47 75.25 226.47 80 226.3C84.75 226.13 87.33 225.88 89.5 225.5C91.67 225.12 91.7 224.67 93 224C94.3 223.33 96.13 221.8 97.3 221.5C98.47 221.2 99.13 221.97 100 222.2C100.87 222.43 101.22 223.22 102.5 222.9C103.78 222.58 105.97 222.03 107.7 220.3C109.43 218.57 110.88 214.97 112.9 212.5C114.92 210.03 117.5 207.52 119.8 205.5C122.1 203.48 124.73 202.03 126.7 200.4C128.67 198.77 129.87 195.85 131.6 195.7C133.33 195.55 135.32 197.28 137.1 199.5C138.88 201.72 140.57 205.97 142.3 209C144.03 212.03 145.77 215.25 147.5 217.7C149.23 220.15 151.12 222.28 152.7 223.7C154.28 225.12 154.28 225.73 157 226.2C159.72 226.67 167 226.45 169 226.5L169 226.5L61 226.5Z" fill="#f6c64a" fill-opacity="1.0"/>
<path d="M61 226.5C64.17 226.47 75.25 226.47 80 226.3C84.75 226.13 87.33 225.88 89.5 225.5C91.67 225.12 91.7 224.67 93 224C94.3 223.33 96.13 221.8 97.3 221.5C98.47 221.2 99.13 221.97 100 222.2C100.87 222.43 101.22 223.22 102.5 222.9C103.78 222.58 105.97 222.03 107.7 220.3C109.43 218.57 110.88 214.97 112.9 212.5C114.92 210.03 117.5 207.52 119.8 205.5C122.1 203.48 124.73 202.03 126.7 200.4C128.67 198.77 129.87 195.85 131.6 195.7C133.33 195.55 135.32 197.28 137.1 199.5C138.88 201.72 140.57 205.97 142.3 209C144.03 212.03 145.77 215.25 147.5 217.7C149.23 220.15 151.12 222.28 152.7 223.7C154.28 225.12 154.28 225.73 157 226.2C159.72 226.67 167 226.45 169 226.5" fill="none" stroke="#24241e" stroke-width="1.2"/>
<path d="M61 246C63.33 245.95 70.68 245.98 75 245.7C79.32 245.42 83.47 244.92 86.9 244.3C90.33 243.68 92.72 242.58 95.6 242C98.48 241.42 102.18 241.23 104.2 240.8C106.22 240.37 105.97 241.07 107.7 239.4C109.43 237.73 112.3 233.68 114.6 230.8C116.9 227.92 119.48 224.55 121.5 222.1C123.52 219.65 125.12 217.4 126.7 216.1C128.28 214.8 129.55 214.17 131 214.3C132.45 214.43 133.95 215.32 135.4 216.9C136.85 218.48 138.27 221.2 139.7 223.8C141.13 226.4 142.42 229.62 144 232.5C145.58 235.38 147.47 239 149.2 241.1C150.93 243.2 152.93 244.28 154.4 245.1C155.87 245.92 155.57 245.85 158 246C160.43 246.15 167.17 246 169 246L169 246L61 246Z" fill="#4db6e6" fill-opacity="0.88"/>
<path d="M61 246C63.33 245.95 70.68 245.98 75 245.7C79.32 245.42 83.47 244.92 86.9 244.3C90.33 243.68 92.72 242.58 95.6 242C98.48 241.42 102.18 241.23 104.2 240.8C106.22 240.37 105.97 241.07 107.7 239.4C109.43 237.73 112.3 233.68 114.6 230.8C116.9 227.92 119.48 224.55 121.5 222.1C123.52 219.65 125.12 217.4 126.7 216.1C128.28 214.8 129.55 214.17 131 214.3C132.45 214.43 133.95 215.32 135.4 216.9C136.85 218.48 138.27 221.2 139.7 223.8C141.13 226.4 142.42 229.62 144 232.5C145.58 235.38 147.47 239 149.2 241.1C150.93 243.2 152.93 244.28 154.4 245.1C155.87 245.92 155.57 245.85 158 246C160.43 246.15 167.17 246 169 246" fill="none" stroke="#24241e" stroke-width="1.2"/>
<path d="M61 265.3C63.83 265.25 73.38 265.25 78 265C82.62 264.75 85.48 264.58 88.7 263.8C91.92 263.02 94.72 261.08 97.3 260.3C99.88 259.52 102.03 259.68 104.2 259.1C106.37 258.52 108.28 258.47 110.3 256.8C112.32 255.13 114.43 251.83 116.3 249.1C118.17 246.37 119.77 242.85 121.5 240.4C123.23 237.95 125.02 235.83 126.7 234.4C128.38 232.97 130.15 231.67 131.6 231.8C133.05 231.93 134.05 232.9 135.4 235.2C136.75 237.5 138.27 242.13 139.7 245.6C141.13 249.07 142.57 253.27 144 256C145.43 258.73 146.72 260.57 148.3 262C149.88 263.43 152.05 264.05 153.5 264.6C154.95 265.15 154.42 265.18 157 265.3C159.58 265.42 167 265.3 169 265.3L169 265.3L61 265.3Z" fill="#2f8a72" fill-opacity="0.92"/>
<path d="M61 265.3C63.83 265.25 73.38 265.25 78 265C82.62 264.75 85.48 264.58 88.7 263.8C91.92 263.02 94.72 261.08 97.3 260.3C99.88 259.52 102.03 259.68 104.2 259.1C106.37 258.52 108.28 258.47 110.3 256.8C112.32 255.13 114.43 251.83 116.3 249.1C118.17 246.37 119.77 242.85 121.5 240.4C123.23 237.95 125.02 235.83 126.7 234.4C128.38 232.97 130.15 231.67 131.6 231.8C133.05 231.93 134.05 232.9 135.4 235.2C136.75 237.5 138.27 242.13 139.7 245.6C141.13 249.07 142.57 253.27 144 256C145.43 258.73 146.72 260.57 148.3 262C149.88 263.43 152.05 264.05 153.5 264.6C154.95 265.15 154.42 265.18 157 265.3C159.58 265.42 167 265.3 169 265.3" fill="none" stroke="#24241e" stroke-width="1.2"/>
<path d="M61 285C63.83 284.95 73.38 284.95 78 284.7C82.62 284.45 85.48 284.43 88.7 283.5C91.92 282.57 95 280.03 97.3 279.1C99.6 278.17 100.92 278.03 102.5 277.9C104.08 277.77 105.07 279.53 106.8 278.3C108.53 277.07 110.73 273.1 112.9 270.5C115.07 267.9 117.65 265 119.8 262.7C121.95 260.4 124.07 258.05 125.8 256.7C127.53 255.35 128.75 254.47 130.2 254.6C131.65 254.73 132.92 255.72 134.5 257.5C136.08 259.28 137.97 262.27 139.7 265.3C141.43 268.33 143.32 272.97 144.9 275.7C146.48 278.43 147.77 280.25 149.2 281.7C150.63 283.15 152.2 283.85 153.5 284.4C154.8 284.95 154.42 284.9 157 285C159.58 285.1 167 285 169 285L169 285L61 285Z" fill="#d8435f" fill-opacity="0.85"/>
<path d="M61 285C63.83 284.95 73.38 284.95 78 284.7C82.62 284.45 85.48 284.43 88.7 283.5C91.92 282.57 95 280.03 97.3 279.1C99.6 278.17 100.92 278.03 102.5 277.9C104.08 277.77 105.07 279.53 106.8 278.3C108.53 277.07 110.73 273.1 112.9 270.5C115.07 267.9 117.65 265 119.8 262.7C121.95 260.4 124.07 258.05 125.8 256.7C127.53 255.35 128.75 254.47 130.2 254.6C131.65 254.73 132.92 255.72 134.5 257.5C136.08 259.28 137.97 262.27 139.7 265.3C141.43 268.33 143.32 272.97 144.9 275.7C146.48 278.43 147.77 280.25 149.2 281.7C150.63 283.15 152.2 283.85 153.5 284.4C154.8 284.95 154.42 284.9 157 285C159.58 285.1 167 285 169 285" fill="none" stroke="#24241e" stroke-width="1.2"/>
<line x1="120.6" y1="194" x2="120.6" y2="297" stroke="#4a5058" stroke-width="0.65"/>
<line x1="55.6" y1="195.4" x2="55.6" y2="297.9" stroke="#111" stroke-width="1.5"/>
<line x1="54.9" y1="297.3" x2="175" y2="297.3" stroke="#111" stroke-width="1.5"/>
<line x1="69.4" y1="297.3" x2="69.4" y2="300.6" stroke="#111" stroke-width="1"/>
<text x="69.4" y="310" font-size="6.8" fill="#333" text-anchor="middle" stroke="#333" stroke-width="0.15">0</text>
<line x1="100.6" y1="297.3" x2="100.6" y2="300.6" stroke="#111" stroke-width="1"/>
<text x="100.6" y="310" font-size="6.8" fill="#333" text-anchor="middle" stroke="#333" stroke-width="0.15">2</text>
<line x1="131.8" y1="297.3" x2="131.8" y2="300.6" stroke="#111" stroke-width="1"/>
<text x="131.8" y="310" font-size="6.8" fill="#333" text-anchor="middle" stroke="#333" stroke-width="0.15">4</text>
<line x1="163" y1="297.3" x2="163" y2="300.6" stroke="#111" stroke-width="1"/>
<text x="163" y="310" font-size="6.8" fill="#333" text-anchor="middle" stroke="#333" stroke-width="0.15">6</text>
<text x="60.8" y="323" font-size="10" fill="#2e2e2e" textLength="112.4" lengthAdjust="spacingAndGlyphs" stroke="#2e2e2e" stroke-width=".2">log10(distance to nearest TSS + 1)</text>
<text x="180.8" y="170" font-size="12.5" fill="#111" font-weight="bold" stroke="#111" stroke-width=".6">D</text>
<rect x="213.4" y="184.1" width="42.7" height="17.2" rx="5" fill="#fff" stroke="#ead48a" stroke-width="1.15"/>
<text x="234.75" y="194.8" font-size="7" fill="#333" text-anchor="middle" stroke="#333" stroke-width="0.15">iALL 3</text>
<rect x="213.4" y="212.55" width="42.7" height="17.2" rx="5" fill="#fff" stroke="#62b8de" stroke-width="1.15"/>
<text x="234.75" y="223.25" font-size="7" fill="#333" text-anchor="middle" stroke="#333" stroke-width="0.15">iALL 4</text>
<rect x="213.4" y="241" width="42.7" height="17.2" rx="5" fill="#fff" stroke="#3a7d64" stroke-width="1.15"/>
<text x="234.75" y="251.7" font-size="7" fill="#333" text-anchor="middle" stroke="#333" stroke-width="0.15">iALL 5</text>
<rect x="213.4" y="269.45" width="42.7" height="17.2" rx="5" fill="#fff" stroke="#c8566f" stroke-width="1.15"/>
<text x="234.75" y="280.15" font-size="7" fill="#333" text-anchor="middle" stroke="#333" stroke-width="0.15">chALL 1</text>
<rect x="265.8" y="181" width="13.6" height="25.5" fill="#4f80b2"/>
<rect x="279.4" y="181" width="67.5" height="25.5" fill="#9db883"/>
<rect x="346.9" y="181" width="11.9" height="25.5" fill="#f8c582"/>
<rect x="358.8" y="181" width="43.5" height="25.5" fill="#b8692d"/>
<rect x="265.8" y="209.8" width="12.5" height="25.5" fill="#4f80b2"/>
<rect x="278.3" y="209.8" width="70.2" height="25.5" fill="#9db883"/>
<rect x="348.5" y="209.8" width="11.8" height="25.5" fill="#f8c582"/>
<rect x="360.3" y="209.8" width="42" height="25.5" fill="#b8692d"/>
<rect x="265.8" y="238.6" width="13.4" height="25.5" fill="#4f80b2"/>
<rect x="279.2" y="238.6" width="70.8" height="25.5" fill="#9db883"/>
<rect x="350" y="238.6" width="10" height="25.5" fill="#f8c582"/>
<rect x="360" y="238.6" width="42.3" height="25.5" fill="#b8692d"/>
<rect x="265.8" y="267.3" width="15.2" height="25.5" fill="#4f80b2"/>
<rect x="281" y="267.3" width="67.2" height="25.5" fill="#9db883"/>
<rect x="348.2" y="267.3" width="14.6" height="25.5" fill="#f8c582"/>
<rect x="362.8" y="267.3" width="39.5" height="25.5" fill="#b8692d"/>
<line x1="258.9" y1="176.3" x2="258.9" y2="298" stroke="#111" stroke-width="1.5"/>
<line x1="258.2" y1="297.3" x2="405.8" y2="297.3" stroke="#111" stroke-width="1.5"/>
<line x1="265.8" y1="297.3" x2="265.8" y2="300.6" stroke="#111" stroke-width="1"/>
<text x="265.8" y="309.7" font-size="6.8" fill="#333" text-anchor="middle" stroke="#333" stroke-width="0.15">0</text>
<line x1="299.9" y1="297.3" x2="299.9" y2="300.6" stroke="#111" stroke-width="1"/>
<text x="299.9" y="309.7" font-size="6.8" fill="#333" text-anchor="middle" stroke="#333" stroke-width="0.15">25</text>
<line x1="334" y1="297.3" x2="334" y2="300.6" stroke="#111" stroke-width="1"/>
<text x="334" y="309.7" font-size="6.8" fill="#333" text-anchor="middle" stroke="#333" stroke-width="0.15">50</text>
<line x1="368.1" y1="297.3" x2="368.1" y2="300.6" stroke="#111" stroke-width="1"/>
<text x="368.1" y="309.7" font-size="6.8" fill="#333" text-anchor="middle" stroke="#333" stroke-width="0.15">75</text>
<line x1="402.2" y1="297.3" x2="402.2" y2="300.6" stroke="#111" stroke-width="1"/>
<text x="402.2" y="309.7" font-size="6.8" fill="#333" text-anchor="middle" stroke="#333" stroke-width="0.15">100</text>
<text x="296" y="322.9" font-size="9.6" fill="#2e2e2e" textLength="76.6" lengthAdjust="spacingAndGlyphs" stroke="#2e2e2e" stroke-width=".12">Proportion of peaks (%)</text>
<rect x="409.8" y="180.8" width="8.5" height="9" fill="#b8692d"/>
<text x="422" y="186.9" font-size="7" fill="#333" stroke="#333" stroke-width="0.15">Distal</text>
<rect x="409.8" y="189.8" width="8.5" height="9" fill="#f8c582"/>
<text x="422" y="195.9" font-size="7" fill="#333" stroke="#333" stroke-width="0.15">Exonic</text>
<rect x="409.8" y="198.8" width="8.5" height="9" fill="#9db883"/>
<text x="422" y="204.9" font-size="7" fill="#333" stroke="#333" stroke-width="0.15">Intronic</text>
<rect x="409.8" y="207.8" width="8.5" height="9" fill="#4f80b2"/>
<text x="422" y="213.9" font-size="7" fill="#333" stroke="#333" stroke-width="0.15">Promoter</text>
<text x="7.8" y="352.5" font-size="12.5" fill="#111" font-weight="bold" stroke="#111" stroke-width=".6">E</text>
<rect x="31.9" y="359.2" width="51.9" height="28.3" rx="3.5" fill="#fff" stroke="#4d7290" stroke-width="1"/>
<text x="57.85" y="366.9" font-size="7" fill="#333" text-anchor="middle" textLength="37.17" lengthAdjust="spacingAndGlyphs" stroke="#333" stroke-width="0.15">Normalized</text>
<text x="57.85" y="375.35" font-size="7" fill="#333" text-anchor="middle" textLength="51.48" lengthAdjust="spacingAndGlyphs" stroke="#333" stroke-width="0.15">H3K27ac signal</text>
<text x="57.85" y="383.8" font-size="7" fill="#333" text-anchor="middle" textLength="29.83" lengthAdjust="spacingAndGlyphs" stroke="#333" stroke-width="0.15">Patient X</text>
<rect x="110.6" y="359.4" width="53.2" height="27.6" rx="3.5" fill="#fff" stroke="#c24a66" stroke-width="1"/>
<text x="137.2" y="366.9" font-size="7" fill="#333" text-anchor="middle" textLength="37.17" lengthAdjust="spacingAndGlyphs" stroke="#333" stroke-width="0.15">Normalized</text>
<text x="137.2" y="375.35" font-size="7" fill="#333" text-anchor="middle" textLength="51.48" lengthAdjust="spacingAndGlyphs" stroke="#333" stroke-width="0.15">H3K27ac signal</text>
<text x="137.2" y="383.8" font-size="7" fill="#333" text-anchor="middle" textLength="29.69" lengthAdjust="spacingAndGlyphs" stroke="#333" stroke-width="0.15">Patient Y</text>
<rect x="78.4" y="403.4" width="38.8" height="42.3" rx="3.5" fill="#fff" stroke="#f0cc70" stroke-width="1"/>
<text x="97.8" y="409.9" font-size="7" fill="#333" text-anchor="middle" textLength="30.23" lengthAdjust="spacingAndGlyphs" stroke="#333" stroke-width="0.15">Correlate</text>
<text x="97.8" y="418.1" font-size="7" fill="#333" text-anchor="middle" textLength="17.98" lengthAdjust="spacingAndGlyphs" stroke="#333" stroke-width="0.15">latent</text>
<text x="97.8" y="426.3" font-size="7" fill="#333" text-anchor="middle" textLength="19.61" lengthAdjust="spacingAndGlyphs" stroke="#333" stroke-width="0.15">space</text>
<text x="97.8" y="434.5" font-size="7" fill="#333" text-anchor="middle" textLength="27.79" lengthAdjust="spacingAndGlyphs" stroke="#333" stroke-width="0.15">between</text>
<text x="97.8" y="442.7" font-size="7" fill="#333" text-anchor="middle" textLength="27.37" lengthAdjust="spacingAndGlyphs" stroke="#333" stroke-width="0.15">samples</text>
<text x="96.3" y="455.4" font-size="8" fill="#333" text-anchor="middle" stroke="#333" stroke-width="0.15">&amp;</text>
<rect x="74.4" y="460.4" width="46.1" height="46.8" rx="3.5" fill="#fff" stroke="#7a5aa6" stroke-width="1"/>
<text x="97.45" y="469.1" font-size="7" fill="#333" text-anchor="middle" textLength="42.49" lengthAdjust="spacingAndGlyphs" stroke="#333" stroke-width="0.15">Compare the</text>
<text x="97.45" y="477.4" font-size="7" fill="#333" text-anchor="middle" textLength="44.53" lengthAdjust="spacingAndGlyphs" stroke="#333" stroke-width="0.15">reconstructed</text>
<text x="97.45" y="485.7" font-size="7" fill="#333" text-anchor="middle" textLength="19.2" lengthAdjust="spacingAndGlyphs" stroke="#333" stroke-width="0.15">signal</text>
<text x="97.45" y="494" font-size="7" fill="#333" text-anchor="middle" textLength="27.79" lengthAdjust="spacingAndGlyphs" stroke="#333" stroke-width="0.15">between</text>
<text x="97.45" y="502.3" font-size="7" fill="#333" text-anchor="middle" textLength="27.37" lengthAdjust="spacingAndGlyphs" stroke="#333" stroke-width="0.15">samples</text>
<rect x="62.8" y="525.4" width="69.5" height="27.7" rx="3.5" fill="#fff" stroke="#c24a66" stroke-width="1"/>
<text x="97.55" y="533.5" font-size="7" fill="#333" text-anchor="middle" textLength="64.95" lengthAdjust="spacingAndGlyphs" stroke="#333" stroke-width="0.15">Identify regions with</text>
<text x="97.55" y="541.3" font-size="7" fill="#333" text-anchor="middle" textLength="64.96" lengthAdjust="spacingAndGlyphs" stroke="#333" stroke-width="0.15">substantially altered</text>
<text x="97.55" y="549.1" font-size="7" fill="#333" text-anchor="middle" textLength="55.15" lengthAdjust="spacingAndGlyphs" stroke="#333" stroke-width="0.15">enhancer activity</text>
<text x="7.7" y="408.9" font-size="7" fill="#333" textLength="26.59" lengthAdjust="spacingAndGlyphs" stroke="#333" stroke-width="0.15">Encoder</text>
<text x="7.7" y="428" font-size="7" fill="#333" stroke="#333" stroke-width="0.15">Latent</text>
<text x="7.7" y="436" font-size="7" fill="#333" textLength="37.3" lengthAdjust="spacingAndGlyphs" stroke="#333" stroke-width="0.15">Dimensions</text>
<text x="7.7" y="454" font-size="7" fill="#333" stroke="#333" stroke-width="0.15">Decoder</text>
<line x1="54.8" y1="387.5" x2="54.8" y2="398" stroke="#222" stroke-width="1.1"/>
<polygon points="54.8,402.5 52.4,397.5 57.2,397.5" fill="#111"/>
<line x1="140.7" y1="387.2" x2="140.7" y2="398.7" stroke="#222" stroke-width="1.1"/>
<polygon points="140.7,403.2 138.3,398.2 143.1,398.2" fill="#111"/>
<path d="M38.5 407.2L45.4 418.4M38.5 407.2L52.3 418.4M38.5 407.2L59.2 418.4M38.5 407.2L66.1 418.4M45.4 407.2L45.4 418.4M45.4 407.2L52.3 418.4M45.4 407.2L59.2 418.4M45.4 407.2L66.1 418.4M52.3 407.2L45.4 418.4M52.3 407.2L52.3 418.4M52.3 407.2L59.2 418.4M52.3 407.2L66.1 418.4M59.2 407.2L45.4 418.4M59.2 407.2L52.3 418.4M59.2 407.2L59.2 418.4M59.2 407.2L66.1 418.4M66.1 407.2L45.4 418.4M66.1 407.2L52.3 418.4M66.1 407.2L59.2 418.4M66.1 407.2L66.1 418.4M73 407.2L45.4 418.4M73 407.2L52.3 418.4M73 407.2L59.2 418.4M73 407.2L66.1 418.4" stroke="#6a5548" stroke-width=".4" fill="none"/>
<path d="M45.4 418.4L52.3 430.3M45.4 418.4L59.2 430.3M52.3 418.4L52.3 430.3M52.3 418.4L59.2 430.3M59.2 418.4L52.3 430.3M59.2 418.4L59.2 430.3M66.1 418.4L52.3 430.3M66.1 418.4L59.2 430.3" stroke="#7a6a60" stroke-width=".4" fill="none"/>
<path d="M52.3 430.3L45.4 442M52.3 430.3L52.3 442M52.3 430.3L59.2 442M52.3 430.3L66.1 442M59.2 430.3L45.4 442M59.2 430.3L52.3 442M59.2 430.3L59.2 442M59.2 430.3L66.1 442" stroke="#6a6a78" stroke-width=".4" fill="none"/>
<path d="M45.4 442L38.5 453.7M45.4 442L45.4 453.7M45.4 442L52.3 453.7M45.4 442L59.2 453.7M45.4 442L66.1 453.7M45.4 442L73 453.7M52.3 442L38.5 453.7M52.3 442L45.4 453.7M52.3 442L52.3 453.7M52.3 442L59.2 453.7M52.3 442L66.1 453.7M52.3 442L73 453.7M59.2 442L38.5 453.7M59.2 442L45.4 453.7M59.2 442L52.3 453.7M59.2 442L59.2 453.7M59.2 442L66.1 453.7M59.2 442L73 453.7M66.1 442L38.5 453.7M66.1 442L45.4 453.7M66.1 442L52.3 453.7M66.1 442L59.2 453.7M66.1 442L66.1 453.7M66.1 442L73 453.7" stroke="#5a5078" stroke-width=".4" fill="none"/>
<circle cx="38.5" cy="407.2" r="2.2" fill="#2a9ad8"/>
<circle cx="45.4" cy="407.2" r="2.2" fill="#2a9ad8"/>
<circle cx="52.3" cy="407.2" r="2.2" fill="#2a9ad8"/>
<circle cx="59.2" cy="407.2" r="2.2" fill="#2a9ad8"/>
<circle cx="66.1" cy="407.2" r="2.2" fill="#2a9ad8"/>
<circle cx="73" cy="407.2" r="2.2" fill="#2a9ad8"/>
<circle cx="45.4" cy="418.4" r="2.2" fill="#2a9ad8"/>
<circle cx="52.3" cy="418.4" r="2.2" fill="#2a9ad8"/>
<circle cx="59.2" cy="418.4" r="2.2" fill="#2a9ad8"/>
<circle cx="66.1" cy="418.4" r="2.2" fill="#2a9ad8"/>
<circle cx="52.3" cy="430.3" r="2.3" fill="#c4102e"/>
<circle cx="59.2" cy="430.3" r="2.3" fill="#c4102e"/>
<circle cx="45.4" cy="442" r="2.35" fill="#f0c01c"/>
<circle cx="52.3" cy="442" r="2.35" fill="#f0c01c"/>
<circle cx="59.2" cy="442" r="2.35" fill="#f0c01c"/>
<circle cx="66.1" cy="442" r="2.35" fill="#f0c01c"/>
<circle cx="38.5" cy="453.7" r="2.35" fill="#f0c01c"/>
<circle cx="45.4" cy="453.7" r="2.35" fill="#f0c01c"/>
<circle cx="52.3" cy="453.7" r="2.35" fill="#f0c01c"/>
<circle cx="59.2" cy="453.7" r="2.35" fill="#f0c01c"/>
<circle cx="66.1" cy="453.7" r="2.35" fill="#f0c01c"/>
<circle cx="73" cy="453.7" r="2.35" fill="#f0c01c"/>
<path d="M123.45 407.2L130.35 418.4M123.45 407.2L137.25 418.4M123.45 407.2L144.15 418.4M123.45 407.2L151.05 418.4M130.35 407.2L130.35 418.4M130.35 407.2L137.25 418.4M130.35 407.2L144.15 418.4M130.35 407.2L151.05 418.4M137.25 407.2L130.35 418.4M137.25 407.2L137.25 418.4M137.25 407.2L144.15 418.4M137.25 407.2L151.05 418.4M144.15 407.2L130.35 418.4M144.15 407.2L137.25 418.4M144.15 407.2L144.15 418.4M144.15 407.2L151.05 418.4M151.05 407.2L130.35 418.4M151.05 407.2L137.25 418.4M151.05 407.2L144.15 418.4M151.05 407.2L151.05 418.4M157.95 407.2L130.35 418.4M157.95 407.2L137.25 418.4M157.95 407.2L144.15 418.4M157.95 407.2L151.05 418.4" stroke="#6a5548" stroke-width=".4" fill="none"/>
<path d="M130.35 418.4L137.25 430.3M130.35 418.4L144.15 430.3M137.25 418.4L137.25 430.3M137.25 418.4L144.15 430.3M144.15 418.4L137.25 430.3M144.15 418.4L144.15 430.3M151.05 418.4L137.25 430.3M151.05 418.4L144.15 430.3" stroke="#7a6a60" stroke-width=".4" fill="none"/>
<path d="M137.25 430.3L130.35 442M137.25 430.3L137.25 442M137.25 430.3L144.15 442M137.25 430.3L151.05 442M144.15 430.3L130.35 442M144.15 430.3L137.25 442M144.15 430.3L144.15 442M144.15 430.3L151.05 442" stroke="#6a6a78" stroke-width=".4" fill="none"/>
<path d="M130.35 442L123.45 453.7M130.35 442L130.35 453.7M130.35 442L137.25 453.7M130.35 442L144.15 453.7M130.35 442L151.05 453.7M130.35 442L157.95 453.7M137.25 442L123.45 453.7M137.25 442L130.35 453.7M137.25 442L137.25 453.7M137.25 442L144.15 453.7M137.25 442L151.05 453.7M137.25 442L157.95 453.7M144.15 442L123.45 453.7M144.15 442L130.35 453.7M144.15 442L137.25 453.7M144.15 442L144.15 453.7M144.15 442L151.05 453.7M144.15 442L157.95 453.7M151.05 442L123.45 453.7M151.05 442L130.35 453.7M151.05 442L137.25 453.7M151.05 442L144.15 453.7M151.05 442L151.05 453.7M151.05 442L157.95 453.7" stroke="#5a5078" stroke-width=".4" fill="none"/>
<circle cx="123.45" cy="407.2" r="2.2" fill="#2a9ad8"/>
<circle cx="130.35" cy="407.2" r="2.2" fill="#2a9ad8"/>
<circle cx="137.25" cy="407.2" r="2.2" fill="#2a9ad8"/>
<circle cx="144.15" cy="407.2" r="2.2" fill="#2a9ad8"/>
<circle cx="151.05" cy="407.2" r="2.2" fill="#2a9ad8"/>
<circle cx="157.95" cy="407.2" r="2.2" fill="#2a9ad8"/>
<circle cx="130.35" cy="418.4" r="2.2" fill="#2a9ad8"/>
<circle cx="137.25" cy="418.4" r="2.2" fill="#2a9ad8"/>
<circle cx="144.15" cy="418.4" r="2.2" fill="#2a9ad8"/>
<circle cx="151.05" cy="418.4" r="2.2" fill="#2a9ad8"/>
<circle cx="137.25" cy="430.3" r="2.3" fill="#c4102e"/>
<circle cx="144.15" cy="430.3" r="2.3" fill="#c4102e"/>
<circle cx="130.35" cy="442" r="2.35" fill="#f0c01c"/>
<circle cx="137.25" cy="442" r="2.35" fill="#f0c01c"/>
<circle cx="144.15" cy="442" r="2.35" fill="#f0c01c"/>
<circle cx="151.05" cy="442" r="2.35" fill="#f0c01c"/>
<circle cx="123.45" cy="453.7" r="2.35" fill="#f0c01c"/>
<circle cx="130.35" cy="453.7" r="2.35" fill="#f0c01c"/>
<circle cx="137.25" cy="453.7" r="2.35" fill="#f0c01c"/>
<circle cx="144.15" cy="453.7" r="2.35" fill="#f0c01c"/>
<circle cx="151.05" cy="453.7" r="2.35" fill="#f0c01c"/>
<circle cx="157.95" cy="453.7" r="2.35" fill="#f0c01c"/>
<line x1="63.2" y1="430.3" x2="73.7" y2="430.3" stroke="#222" stroke-width="1.1"/>
<polygon points="78.2,430.3 73.2,427.9 73.2,432.7" fill="#111"/>
<line x1="133.5" y1="430.2" x2="122.9" y2="430.2" stroke="#222" stroke-width="1.1"/>
<polygon points="118.4,430.2 123.4,427.8 123.4,432.6" fill="#111"/>
<path d="M55.2 456.5V468.5H68" fill="none" stroke="#222" stroke-width="1.1"/>
<polygon points="73.6,468.5 68.2,466.1 68.2,470.9" fill="#111"/>
<path d="M140.3 456.5V468.2H127.5" fill="none" stroke="#222" stroke-width="1.1"/>
<polygon points="121.6,468.2 127,465.8 127,470.6" fill="#111"/>
<line x1="97.5" y1="507.2" x2="97.5" y2="520.7" stroke="#222" stroke-width="1.1"/>
<polygon points="97.5,525.2 95.1,520.2 99.9,520.2" fill="#111"/>
<text x="181" y="352.8" font-size="12.5" fill="#111" font-weight="bold" stroke="#111" stroke-width=".6">F</text>
<defs>
<filter id="fS" x="0" y="0" width="1" height="1" color-interpolation-filters="sRGB">
 <feTurbulence type="fractalNoise" baseFrequency="0.32 0.8" numOctaves="2" seed="4"/>
 <feColorMatrix type="matrix" values="0 0 0 0 .92  0 0 0 0 .40  0 0 0 0 .26  4 0 0 0 -1.65"/>
</filter>
<filter id="fD" x="0" y="0" width="1" height="1" color-interpolation-filters="sRGB">
 <feTurbulence type="fractalNoise" baseFrequency="0.3 0.45" numOctaves="2" seed="9"/>
 <feColorMatrix type="matrix" values="0 0 0 0 .55  0 0 0 0 .05  0 0 0 0 .07  2.6 0 0 0 -1.25"/>
</filter>
<filter id="fR" x="0" y="0" width="1" height="1" color-interpolation-filters="sRGB">
 <feTurbulence type="fractalNoise" baseFrequency="0.03 0.7" numOctaves="2" seed="2"/>
 <feColorMatrix type="matrix" values="0 0 0 0 .95  0 0 0 0 .52  0 0 0 0 .40  3.5 0 0 0 -1.6"/>
</filter>
<filter id="fH" x="0" y="0" width="1" height="1" color-interpolation-filters="sRGB">
 <feTurbulence type="fractalNoise" baseFrequency="0.6 0.8" numOctaves="2" seed="13"/>
 <feColorMatrix type="matrix" values="0 0 0 0 .96  0 0 0 0 .80  0 0 0 0 .80  3.4 0 0 0 -1.45"/>
</filter>
<filter id="fB" x="0" y="0" width="1" height="1" color-interpolation-filters="sRGB">
 <feTurbulence type="fractalNoise" baseFrequency="0.6 0.8" numOctaves="2" seed="21"/>
 <feColorMatrix type="matrix" values="0 0 0 0 .38  0 0 0 0 .33  0 0 0 0 .70  3.4 0 0 0 -1.3"/>
</filter>
<linearGradient id="gC" x1="0" x2="1" y1="0" y2="0">
 <stop offset="0" stop-color="#fff" stop-opacity="0"/><stop offset=".3" stop-color="#fff" stop-opacity=".15"/><stop offset=".5" stop-color="#fff" stop-opacity="1"/><stop offset=".7" stop-color="#fff" stop-opacity=".15"/><stop offset="1" stop-color="#fff" stop-opacity="0"/>
</linearGradient>
<mask id="mC" maskContentUnits="objectBoundingBox"><rect width="1" height="1" fill="url(#gC)"/></mask>
</defs>
<defs><linearGradient id="gV" x1="0" x2="0" y1="0" y2="1">
<stop offset="0" stop-color="#fff" stop-opacity="1"/><stop offset=".35" stop-color="#fff" stop-opacity=".6"/>
<stop offset=".7" stop-color="#fff" stop-opacity=".22"/><stop offset="1" stop-color="#fff" stop-opacity=".12"/></linearGradient>
<mask id="mV" maskUnits="userSpaceOnUse" x="221" y="367.8" width="259.47" height="183.7"><rect x="221" y="367.8" width="259.47" height="24.8" fill="url(#gV)"/><rect x="221" y="392.6" width="259.47" height="6.1" fill="url(#gV)"/><rect x="221" y="398.7" width="259.47" height="9.5" fill="url(#gV)"/><rect x="221" y="408.2" width="259.47" height="36" fill="url(#gV)"/><rect x="221" y="444.2" width="259.47" height="7.4" fill="url(#gV)"/><rect x="221" y="451.6" width="259.47" height="99.9" fill="url(#gV)"/></mask></defs>
<rect x="221" y="367.8" width="26.83" height="183.7" fill="#b71a1a"/>
<rect x="221" y="367.8" width="26.83" height="183.7" filter="url(#fD)" opacity=".35"/>
<rect x="249.83" y="367.8" width="26.83" height="183.7" fill="#b71a1a"/>
<rect x="249.83" y="367.8" width="26.83" height="183.7" filter="url(#fD)" opacity=".35"/>
<rect x="278.66" y="367.8" width="26.83" height="183.7" fill="#b71a1a"/>
<rect x="278.66" y="367.8" width="26.83" height="183.7" filter="url(#fD)" opacity=".35"/>
<rect x="307.49" y="367.8" width="26.83" height="183.7" fill="#b71a1a"/>
<rect x="307.49" y="367.8" width="26.83" height="183.7" filter="url(#fD)" opacity=".35"/>
<rect x="336.32" y="367.8" width="26.83" height="183.7" fill="#b71a1a"/>
<rect x="336.32" y="367.8" width="26.83" height="183.7" filter="url(#fD)" opacity=".35"/>
<rect x="365.15" y="367.8" width="26.83" height="183.7" fill="#b71a1a"/>
<rect x="365.15" y="367.8" width="26.83" height="183.7" filter="url(#fD)" opacity=".35"/>
<rect x="393.98" y="367.8" width="26.83" height="183.7" fill="#b71a1a"/>
<rect x="393.98" y="367.8" width="26.83" height="183.7" filter="url(#fD)" opacity=".35"/>
<rect x="422.81" y="367.8" width="26.83" height="183.7" fill="#b71a1a"/>
<rect x="422.81" y="367.8" width="26.83" height="183.7" filter="url(#fD)" opacity=".35"/>
<rect x="451.64" y="367.8" width="26.83" height="183.7" fill="#b71a1a"/>
<rect x="451.64" y="367.8" width="26.83" height="183.7" filter="url(#fD)" opacity=".35"/>
<g mask="url(#mV)">
<rect x="221" y="367.8" width="26.83" height="183.7" filter="url(#fS)" opacity=".6"/>
<rect x="221" y="367.8" width="26.83" height="183.7" filter="url(#fR)" opacity=".55"/>
<g mask="url(#mC)"><rect x="221" y="367.8" width="26.83" height="183.7" filter="url(#fH)" opacity=".8"/></g>
<rect x="249.83" y="367.8" width="26.83" height="183.7" filter="url(#fS)" opacity=".6"/>
<rect x="249.83" y="367.8" width="26.83" height="183.7" filter="url(#fR)" opacity=".55"/>
<g mask="url(#mC)"><rect x="249.83" y="367.8" width="26.83" height="183.7" filter="url(#fH)" opacity=".8"/></g>
<rect x="278.66" y="367.8" width="26.83" height="183.7" filter="url(#fS)" opacity=".6"/>
<rect x="278.66" y="367.8" width="26.83" height="183.7" filter="url(#fR)" opacity=".55"/>
<g mask="url(#mC)"><rect x="278.66" y="367.8" width="26.83" height="183.7" filter="url(#fH)" opacity=".8"/></g>
<rect x="307.49" y="367.8" width="26.83" height="183.7" filter="url(#fS)" opacity=".6"/>
<rect x="307.49" y="367.8" width="26.83" height="183.7" filter="url(#fR)" opacity=".55"/>
<g mask="url(#mC)"><rect x="307.49" y="367.8" width="26.83" height="183.7" filter="url(#fH)" opacity=".8"/></g>
<rect x="336.32" y="367.8" width="26.83" height="183.7" filter="url(#fS)" opacity=".6"/>
<rect x="336.32" y="367.8" width="26.83" height="183.7" filter="url(#fR)" opacity=".55"/>
<g mask="url(#mC)"><rect x="336.32" y="367.8" width="26.83" height="183.7" filter="url(#fH)" opacity=".8"/></g>
<rect x="365.15" y="367.8" width="26.83" height="183.7" filter="url(#fS)" opacity=".6"/>
<rect x="365.15" y="367.8" width="26.83" height="183.7" filter="url(#fR)" opacity=".55"/>
<g mask="url(#mC)"><rect x="365.15" y="367.8" width="26.83" height="183.7" filter="url(#fH)" opacity=".8"/></g>
<rect x="393.98" y="367.8" width="26.83" height="183.7" filter="url(#fS)" opacity=".6"/>
<rect x="393.98" y="367.8" width="26.83" height="183.7" filter="url(#fR)" opacity=".55"/>
<g mask="url(#mC)"><rect x="393.98" y="367.8" width="26.83" height="183.7" filter="url(#fH)" opacity=".8"/></g>
<rect x="422.81" y="367.8" width="26.83" height="183.7" filter="url(#fS)" opacity=".6"/>
<rect x="422.81" y="367.8" width="26.83" height="183.7" filter="url(#fR)" opacity=".55"/>
<g mask="url(#mC)"><rect x="422.81" y="367.8" width="26.83" height="183.7" filter="url(#fH)" opacity=".8"/></g>
<rect x="451.64" y="367.8" width="26.83" height="183.7" filter="url(#fS)" opacity=".6"/>
<rect x="451.64" y="367.8" width="26.83" height="183.7" filter="url(#fR)" opacity=".55"/>
<g mask="url(#mC)"><rect x="451.64" y="367.8" width="26.83" height="183.7" filter="url(#fH)" opacity=".8"/></g>
</g>
<rect x="220.6" y="359.5" width="26.7" height="7.4" fill="#fff" stroke="#d0788c" stroke-width=".8"/>
<text x="234.45" y="365.7" font-size="7" fill="#2a2a2a" text-anchor="middle" textLength="22.6" lengthAdjust="spacingAndGlyphs" stroke="#2a2a2a" stroke-width=".08">chALL1</text>
<rect x="249.57" y="359.5" width="26.7" height="7.4" fill="#fff" stroke="#eadcb0" stroke-width=".8"/>
<text x="263.42" y="365.7" font-size="7" fill="#2a2a2a" text-anchor="middle" textLength="22.6" lengthAdjust="spacingAndGlyphs" stroke="#2a2a2a" stroke-width=".08">chALL3</text>
<rect x="278.54" y="359.5" width="26.7" height="7.4" fill="#fff" stroke="#a8d8bc" stroke-width=".8"/>
<text x="292.39" y="365.7" font-size="7" fill="#2a2a2a" text-anchor="middle" textLength="22.6" lengthAdjust="spacingAndGlyphs" stroke="#2a2a2a" stroke-width=".08">chALL2</text>
<rect x="307.51" y="359.5" width="26.7" height="7.4" fill="#fff" stroke="#a8d4e4" stroke-width=".8"/>
<text x="321.36" y="365.7" font-size="7" fill="#2a2a2a" text-anchor="middle" textLength="22.6" lengthAdjust="spacingAndGlyphs" stroke="#2a2a2a" stroke-width=".08">chALL4</text>
<rect x="336.48" y="359.5" width="26.7" height="7.4" fill="#fff" stroke="#88b0b0" stroke-width=".8"/>
<text x="350.33" y="365.7" font-size="7" fill="#2a2a2a" text-anchor="middle" textLength="22.6" lengthAdjust="spacingAndGlyphs" stroke="#2a2a2a" stroke-width=".08">chALL5</text>
<rect x="365.45" y="359.5" width="26.7" height="7.4" fill="#fff" stroke="#b8b8b8" stroke-width=".8"/>
<text x="379.3" y="365.7" font-size="7" fill="#2a2a2a" text-anchor="middle" textLength="17.5" lengthAdjust="spacingAndGlyphs" stroke="#2a2a2a" stroke-width=".08">iALL2</text>
<rect x="394.42" y="359.5" width="26.7" height="7.4" fill="#fff" stroke="#f0e0a0" stroke-width=".8"/>
<text x="408.27" y="365.7" font-size="7" fill="#2a2a2a" text-anchor="middle" textLength="17.5" lengthAdjust="spacingAndGlyphs" stroke="#2a2a2a" stroke-width=".08">iALL3</text>
<rect x="423.39" y="359.5" width="26.7" height="7.4" fill="#fff" stroke="#9ccce0" stroke-width=".8"/>
<text x="437.24" y="365.7" font-size="7" fill="#2a2a2a" text-anchor="middle" textLength="17.5" lengthAdjust="spacingAndGlyphs" stroke="#2a2a2a" stroke-width=".08">iALL4</text>
<rect x="452.36" y="359.5" width="26.7" height="7.4" fill="#fff" stroke="#8cc4c4" stroke-width=".8"/>
<text x="466.21" y="365.7" font-size="7" fill="#2a2a2a" text-anchor="middle" textLength="17.5" lengthAdjust="spacingAndGlyphs" stroke="#2a2a2a" stroke-width=".08">iALL5</text>
<rect x="221" y="367.8" width="26.83" height="24.8" fill="#e27a5a" opacity="0.6"/>
<rect x="221" y="367.8" width="26.83" height="24.8" filter="url(#fH)" opacity="0.55"/>
<rect x="221" y="367.8" width="26.83" height="24.8" filter="url(#fS)" opacity=".55"/>
<clipPath id="cp0_367"><polygon points="230.16,367.8 238.66,367.8 235.91,392.6 232.91,392.6"/></clipPath>
<polygon points="227.16,367.8 241.66,367.8 238.41,392.6 230.41,392.6" fill="#d0b0c8" opacity="0.45"/>
<g clip-path="url(#cp0_367)" opacity="1"><rect x="229.16" y="367.8" width="10.5" height="24.8" fill="#7a6cc0" opacity=".65"/><rect x="229.16" y="367.8" width="10.5" height="24.8" filter="url(#fB)"/></g>
<rect x="278.66" y="393.4" width="26.83" height="5.1" fill="#d87060" opacity="0.25"/>
<rect x="278.66" y="393.4" width="26.83" height="5.1" filter="url(#fH)" opacity="0.3"/>
<rect x="278.66" y="393.4" width="26.83" height="5.1" filter="url(#fS)" opacity=".55"/>
<rect x="307.49" y="399.2" width="26.83" height="8.6" fill="#eaa070" opacity="0.6"/>
<rect x="307.49" y="399.2" width="26.83" height="8.6" filter="url(#fH)" opacity="0.5"/>
<rect x="307.49" y="399.2" width="26.83" height="8.6" filter="url(#fS)" opacity=".55"/>
<clipPath id="cp3_399"><polygon points="318.41,399.2 323.41,399.2 323.41,407.8 318.41,407.8"/></clipPath>
<polygon points="315.41,399.2 326.41,399.2 325.91,407.8 315.91,407.8" fill="#d0b0c8" opacity="0.25"/>
<g clip-path="url(#cp3_399)" opacity="0.55"><rect x="317.41" y="399.2" width="7" height="8.6" fill="#7a6cc0" opacity=".65"/><rect x="317.41" y="399.2" width="7" height="8.6" filter="url(#fB)"/></g>
<rect x="336.32" y="408.6" width="26.83" height="35" fill="#e06a4c" opacity="0.35"/>
<rect x="336.32" y="408.6" width="26.83" height="35" filter="url(#fH)" opacity="0.55"/>
<rect x="336.32" y="408.6" width="26.83" height="35" filter="url(#fS)" opacity=".55"/>
<clipPath id="cp4_408"><polygon points="347.74,408.6 351.74,408.6 350.99,443.6 348.49,443.6"/></clipPath>
<polygon points="344.74,408.6 354.74,408.6 353.49,443.6 345.99,443.6" fill="#d0b0c8" opacity="0.41"/>
<g clip-path="url(#cp4_408)" opacity="0.9"><rect x="346.74" y="408.6" width="6" height="35" fill="#7a6cc0" opacity=".65"/><rect x="346.74" y="408.6" width="6" height="35" filter="url(#fB)"/></g>
<rect x="393.98" y="444.6" width="26.83" height="6.4" fill="#e8b090" opacity="0.6"/>
<rect x="393.98" y="444.6" width="26.83" height="6.4" filter="url(#fH)" opacity="0.5"/>
<rect x="393.98" y="444.6" width="26.83" height="6.4" filter="url(#fS)" opacity=".55"/>
<clipPath id="cp6_444"><polygon points="405.9,444.6 408.9,444.6 408.9,451 405.9,451"/></clipPath>
<polygon points="402.9,444.6 411.9,444.6 411.4,451 403.4,451" fill="#d0b0c8" opacity="0.23"/>
<g clip-path="url(#cp6_444)" opacity="0.5"><rect x="404.9" y="444.6" width="5" height="6.4" fill="#7a6cc0" opacity=".65"/><rect x="404.9" y="444.6" width="5" height="6.4" filter="url(#fB)"/></g>
<rect x="422.81" y="451.9" width="26.83" height="99.6" fill="#e06a4c" opacity="0.4"/>
<rect x="422.81" y="451.9" width="26.83" height="99.6" filter="url(#fH)" opacity="0.7"/>
<rect x="422.81" y="451.9" width="26.83" height="99.6" filter="url(#fS)" opacity=".55"/>
<clipPath id="cp7_451"><polygon points="434.23,451.9 438.23,451.9 437.73,551.5 434.73,551.5"/></clipPath>
<polygon points="431.23,451.9 441.23,451.9 440.23,551.5 432.23,551.5" fill="#d0b0c8" opacity="0.36"/>
<g clip-path="url(#cp7_451)" opacity="0.8"><rect x="433.23" y="451.9" width="6" height="99.6" fill="#7a6cc0" opacity=".65"/><rect x="433.23" y="451.9" width="6" height="99.6" filter="url(#fB)"/></g>
<line x1="221" y1="368.3" x2="247.83" y2="368.3" stroke="#3a3a8a" stroke-width="1" stroke-opacity=".8"/>
<rect x="280.66" y="394" width="16" height="4.5" fill="#6a70c0" opacity=".5"/>
<line x1="221" y1="392.9" x2="247.83" y2="392.9" stroke="#f0d0c8" stroke-width="1" stroke-opacity="0.8"/>
<line x1="249.83" y1="392.9" x2="276.66" y2="392.9" stroke="#f0d0c8" stroke-width="1" stroke-opacity="0.8"/>
<line x1="278.66" y1="392.9" x2="305.49" y2="392.9" stroke="#f0d0c8" stroke-width="1" stroke-opacity="0.8"/>
<line x1="307.49" y1="392.9" x2="334.32" y2="392.9" stroke="#f0d0c8" stroke-width="1" stroke-opacity="0.8"/>
<line x1="336.32" y1="392.9" x2="363.15" y2="392.9" stroke="#f0d0c8" stroke-width="1" stroke-opacity="0.8"/>
<line x1="365.15" y1="392.9" x2="391.98" y2="392.9" stroke="#f0d0c8" stroke-width="1" stroke-opacity="0.8"/>
<line x1="393.98" y1="392.9" x2="420.81" y2="392.9" stroke="#f0d0c8" stroke-width="1" stroke-opacity="0.8"/>
<line x1="422.81" y1="392.9" x2="449.64" y2="392.9" stroke="#f0d0c8" stroke-width="1" stroke-opacity="0.8"/>
<line x1="451.64" y1="392.9" x2="478.47" y2="392.9" stroke="#f0d0c8" stroke-width="1" stroke-opacity="0.8"/>
<line x1="221" y1="398.9" x2="247.83" y2="398.9" stroke="#b8c0d8" stroke-width="1" stroke-opacity="0.7"/>
<line x1="249.83" y1="398.9" x2="276.66" y2="398.9" stroke="#b8c0d8" stroke-width="1" stroke-opacity="0.7"/>
<line x1="278.66" y1="398.9" x2="305.49" y2="398.9" stroke="#b8c0d8" stroke-width="1" stroke-opacity="0.7"/>
<line x1="307.49" y1="398.9" x2="334.32" y2="398.9" stroke="#b8c0d8" stroke-width="1" stroke-opacity="0.7"/>
<line x1="336.32" y1="398.9" x2="363.15" y2="398.9" stroke="#b8c0d8" stroke-width="1" stroke-opacity="0.7"/>
<line x1="365.15" y1="398.9" x2="391.98" y2="398.9" stroke="#b8c0d8" stroke-width="1" stroke-opacity="0.7"/>
<line x1="393.98" y1="398.9" x2="420.81" y2="398.9" stroke="#b8c0d8" stroke-width="1" stroke-opacity="0.7"/>
<line x1="422.81" y1="398.9" x2="449.64" y2="398.9" stroke="#b8c0d8" stroke-width="1" stroke-opacity="0.7"/>
<line x1="451.64" y1="398.9" x2="478.47" y2="398.9" stroke="#b8c0d8" stroke-width="1" stroke-opacity="0.7"/>
<line x1="221" y1="408.3" x2="247.83" y2="408.3" stroke="#e8c8c8" stroke-width="1.2" stroke-opacity="0.6"/>
<line x1="249.83" y1="408.3" x2="276.66" y2="408.3" stroke="#e8c8c8" stroke-width="1.2" stroke-opacity="0.6"/>
<line x1="278.66" y1="408.3" x2="305.49" y2="408.3" stroke="#e8c8c8" stroke-width="1.2" stroke-opacity="0.6"/>
<line x1="307.49" y1="408.3" x2="334.32" y2="408.3" stroke="#e8c8c8" stroke-width="1.2" stroke-opacity="0.6"/>
<line x1="336.32" y1="408.3" x2="363.15" y2="408.3" stroke="#e8c8c8" stroke-width="1.2" stroke-opacity="0.6"/>
<line x1="365.15" y1="408.3" x2="391.98" y2="408.3" stroke="#e8c8c8" stroke-width="1.2" stroke-opacity="0.6"/>
<line x1="393.98" y1="408.3" x2="420.81" y2="408.3" stroke="#e8c8c8" stroke-width="1.2" stroke-opacity="0.6"/>
<line x1="422.81" y1="408.3" x2="449.64" y2="408.3" stroke="#e8c8c8" stroke-width="1.2" stroke-opacity="0.6"/>
<line x1="451.64" y1="408.3" x2="478.47" y2="408.3" stroke="#e8c8c8" stroke-width="1.2" stroke-opacity="0.6"/>
<line x1="221" y1="444.1" x2="247.83" y2="444.1" stroke="#f0d8c0" stroke-width="1" stroke-opacity="0.85"/>
<line x1="249.83" y1="444.1" x2="276.66" y2="444.1" stroke="#f0d8c0" stroke-width="1" stroke-opacity="0.85"/>
<line x1="278.66" y1="444.1" x2="305.49" y2="444.1" stroke="#f0d8c0" stroke-width="1" stroke-opacity="0.85"/>
<line x1="307.49" y1="444.1" x2="334.32" y2="444.1" stroke="#f0d8c0" stroke-width="1" stroke-opacity="0.85"/>
<line x1="336.32" y1="444.1" x2="363.15" y2="444.1" stroke="#f0d8c0" stroke-width="1" stroke-opacity="0.85"/>
<line x1="365.15" y1="444.1" x2="391.98" y2="444.1" stroke="#f0d8c0" stroke-width="1" stroke-opacity="0.85"/>
<line x1="393.98" y1="444.1" x2="420.81" y2="444.1" stroke="#f0d8c0" stroke-width="1" stroke-opacity="0.85"/>
<line x1="422.81" y1="444.1" x2="449.64" y2="444.1" stroke="#f0d8c0" stroke-width="1" stroke-opacity="0.85"/>
<line x1="451.64" y1="444.1" x2="478.47" y2="444.1" stroke="#f0d8c0" stroke-width="1" stroke-opacity="0.85"/>
<line x1="221" y1="451.4" x2="247.83" y2="451.4" stroke="#f0d8c0" stroke-width="1" stroke-opacity="0.85"/>
<line x1="249.83" y1="451.4" x2="276.66" y2="451.4" stroke="#f0d8c0" stroke-width="1" stroke-opacity="0.85"/>
<line x1="278.66" y1="451.4" x2="305.49" y2="451.4" stroke="#f0d8c0" stroke-width="1" stroke-opacity="0.85"/>
<line x1="307.49" y1="451.4" x2="334.32" y2="451.4" stroke="#f0d8c0" stroke-width="1" stroke-opacity="0.85"/>
<line x1="336.32" y1="451.4" x2="363.15" y2="451.4" stroke="#f0d8c0" stroke-width="1" stroke-opacity="0.85"/>
<line x1="365.15" y1="451.4" x2="391.98" y2="451.4" stroke="#f0d8c0" stroke-width="1" stroke-opacity="0.85"/>
<line x1="393.98" y1="451.4" x2="420.81" y2="451.4" stroke="#f0d8c0" stroke-width="1" stroke-opacity="0.85"/>
<line x1="422.81" y1="451.4" x2="449.64" y2="451.4" stroke="#f0d8c0" stroke-width="1" stroke-opacity="0.85"/>
<line x1="451.64" y1="451.4" x2="478.47" y2="451.4" stroke="#f0d8c0" stroke-width="1" stroke-opacity="0.85"/>
<line x1="221" y1="408.3" x2="247.83" y2="408.3" stroke="#4a56b0" stroke-width="1.3" stroke-opacity=".75"/>
<line x1="249.83" y1="408.3" x2="276.66" y2="408.3" stroke="#4a56b0" stroke-width="1.3" stroke-opacity=".75"/>
<line x1="278.66" y1="408.3" x2="305.49" y2="408.3" stroke="#4a56b0" stroke-width="1.3" stroke-opacity=".75"/>
<line x1="307.49" y1="408.3" x2="334.32" y2="408.3" stroke="#4a56b0" stroke-width="1.3" stroke-opacity=".75"/>
<line x1="336.32" y1="408.3" x2="363.15" y2="408.3" stroke="#4a56b0" stroke-width="1.3" stroke-opacity=".75"/>
<line x1="451.64" y1="408.3" x2="463.64" y2="408.3" stroke="#6a76c0" stroke-width="1.2" stroke-opacity=".7"/>
<line x1="221.4" y1="367.8" x2="221.4" y2="551.5" stroke="#80121a" stroke-width="0.8" stroke-opacity=".75"/>
<line x1="247.43" y1="367.8" x2="247.43" y2="551.5" stroke="#80121a" stroke-width="0.8" stroke-opacity=".6"/>
<line x1="250.23" y1="367.8" x2="250.23" y2="551.5" stroke="#80121a" stroke-width="0.8" stroke-opacity=".75"/>
<line x1="276.26" y1="367.8" x2="276.26" y2="551.5" stroke="#80121a" stroke-width="0.8" stroke-opacity=".6"/>
<line x1="279.06" y1="367.8" x2="279.06" y2="551.5" stroke="#80121a" stroke-width="0.8" stroke-opacity=".75"/>
<line x1="305.09" y1="367.8" x2="305.09" y2="551.5" stroke="#80121a" stroke-width="0.8" stroke-opacity=".6"/>
<line x1="307.89" y1="367.8" x2="307.89" y2="551.5" stroke="#80121a" stroke-width="0.8" stroke-opacity=".75"/>
<line x1="333.92" y1="367.8" x2="333.92" y2="551.5" stroke="#80121a" stroke-width="0.8" stroke-opacity=".6"/>
<line x1="336.72" y1="367.8" x2="336.72" y2="551.5" stroke="#80121a" stroke-width="0.8" stroke-opacity=".75"/>
<line x1="362.75" y1="367.8" x2="362.75" y2="551.5" stroke="#80121a" stroke-width="0.8" stroke-opacity=".6"/>
<line x1="365.55" y1="367.8" x2="365.55" y2="551.5" stroke="#80121a" stroke-width="0.8" stroke-opacity=".75"/>
<line x1="391.58" y1="367.8" x2="391.58" y2="551.5" stroke="#80121a" stroke-width="0.8" stroke-opacity=".6"/>
<line x1="394.38" y1="367.8" x2="394.38" y2="551.5" stroke="#80121a" stroke-width="0.8" stroke-opacity=".75"/>
<line x1="420.41" y1="367.8" x2="420.41" y2="551.5" stroke="#80121a" stroke-width="0.8" stroke-opacity=".6"/>
<line x1="423.21" y1="367.8" x2="423.21" y2="551.5" stroke="#80121a" stroke-width="0.8" stroke-opacity=".75"/>
<line x1="449.24" y1="367.8" x2="449.24" y2="551.5" stroke="#80121a" stroke-width="0.8" stroke-opacity=".6"/>
<line x1="452.04" y1="367.8" x2="452.04" y2="551.5" stroke="#80121a" stroke-width="0.8" stroke-opacity=".75"/>
<line x1="478.07" y1="367.8" x2="478.07" y2="551.5" stroke="#80121a" stroke-width="0.8" stroke-opacity=".6"/>
<rect x="218.1" y="367.8" width="2.4" height="24.5" fill="#c8284a"/>
<rect x="218.1" y="393.3" width="2.4" height="5" fill="#3cba6e"/>
<rect x="218.1" y="398.3" width="2.4" height="8.6" fill="#1f4f80"/>
<rect x="218.1" y="406.9" width="2.4" height="35.9" fill="#23876a"/>
<rect x="218.1" y="442.8" width="2.4" height="9.1" fill="#f2c23c"/>
<rect x="218.1" y="451.9" width="2.4" height="99.6" fill="#42aee4"/>
<text transform="translate(215.1,391) rotate(-90)" font-size="6.9" fill="#2a2a2a" textLength="22" lengthAdjust="spacingAndGlyphs">chALL1</text>
<text transform="translate(197.3,405.6) rotate(-90)" font-size="6.9" fill="#2a2a2a" textLength="22.9" lengthAdjust="spacingAndGlyphs">chALL2</text>
<text transform="translate(206.9,420.5) rotate(-90)" font-size="6.9" fill="#2a2a2a" textLength="21.8" lengthAdjust="spacingAndGlyphs">chALL4</text>
<text transform="translate(214.9,434.4) rotate(-90)" font-size="6.9" fill="#2a2a2a" textLength="22.4" lengthAdjust="spacingAndGlyphs">chALL5</text>
<text transform="translate(212.8,455.8) rotate(-90)" font-size="6.9" fill="#2a2a2a" textLength="17.3" lengthAdjust="spacingAndGlyphs">iALL3</text>
<text transform="translate(215.3,503.9) rotate(-90)" font-size="6.9" fill="#2a2a2a" textLength="17.4" lengthAdjust="spacingAndGlyphs">iALL4</text>
<line x1="204.4" y1="394.5" x2="218" y2="394.5" stroke="#444" stroke-width="0.7"/>
<line x1="204.4" y1="392.6" x2="204.4" y2="396.6" stroke="#444" stroke-width="0.7"/>
<line x1="210.8" y1="402.4" x2="218" y2="402.4" stroke="#444" stroke-width="0.7"/>
<line x1="210.8" y1="400.4" x2="210.8" y2="404.4" stroke="#444" stroke-width="0.7"/>
<line x1="214.7" y1="446.6" x2="218" y2="446.6" stroke="#444" stroke-width="0.7"/>
<text transform="translate(185.8,525.2) rotate(-90)" font-size="9.5" fill="#2a2a2a" textLength="125" lengthAdjust="spacingAndGlyphs" stroke="#2a2a2a" stroke-width=".1">Sample with unique Enhancer</text>
<defs><linearGradient id="cbF" x1="0" x2="0" y1="1" y2="0"><stop offset="0" stop-color="#5a0c18"/><stop offset=".15" stop-color="#9a3030"/><stop offset=".3" stop-color="#c89070"/><stop offset=".42" stop-color="#e8dcb0"/><stop offset=".6" stop-color="#d0d8e0"/><stop offset=".75" stop-color="#8ea4c8"/><stop offset="1" stop-color="#1c2a66"/></linearGradient></defs>
<rect x="480.3" y="368.2" width="3.4" height="183.3" fill="url(#cbF)"/>
<line x1="483.7" y1="551.3" x2="486.3" y2="551.3" stroke="#222" stroke-width="0.9"/>
<text x="489.6" y="553.8" font-size="7" fill="#333" stroke="#333" stroke-width="0.15">0</text>
<line x1="483.7" y1="525.83" x2="486.3" y2="525.83" stroke="#222" stroke-width="0.9"/>
<text x="489.6" y="528.33" font-size="7" fill="#333" stroke="#333" stroke-width="0.15">50</text>
<line x1="483.7" y1="500.37" x2="486.3" y2="500.37" stroke="#222" stroke-width="0.9"/>
<text x="489.6" y="502.87" font-size="7" fill="#333" stroke="#333" stroke-width="0.15">100</text>
<line x1="483.7" y1="474.9" x2="486.3" y2="474.9" stroke="#222" stroke-width="0.9"/>
<text x="489.6" y="477.4" font-size="7" fill="#333" stroke="#333" stroke-width="0.15">150</text>
<line x1="483.7" y1="449.44" x2="486.3" y2="449.44" stroke="#222" stroke-width="0.9"/>
<text x="489.6" y="451.94" font-size="7" fill="#333" stroke="#333" stroke-width="0.15">200</text>
<line x1="483.7" y1="423.97" x2="486.3" y2="423.97" stroke="#222" stroke-width="0.9"/>
<text x="489.6" y="426.47" font-size="7" fill="#333" stroke="#333" stroke-width="0.15">250</text>
<line x1="483.7" y1="398.51" x2="486.3" y2="398.51" stroke="#222" stroke-width="0.9"/>
<text x="489.6" y="401.01" font-size="7" fill="#333" stroke="#333" stroke-width="0.15">300</text>
<line x1="483.7" y1="373.04" x2="486.3" y2="373.04" stroke="#222" stroke-width="0.9"/>
<text x="489.6" y="375.54" font-size="7" fill="#333" stroke="#333" stroke-width="0.15">350</text>
<text transform="translate(506.8,410.9) rotate(90)" font-size="9.2" fill="#2a2a2a" textLength="104.2" lengthAdjust="spacingAndGlyphs" stroke="#2a2a2a" stroke-width=".1">Normalized H3K27ac readcount</text>
<rect x="0.5" y="0.5" width="519" height="562" fill="none" stroke="#3e3e3e" stroke-width="1"/>
</svg></body></html>
